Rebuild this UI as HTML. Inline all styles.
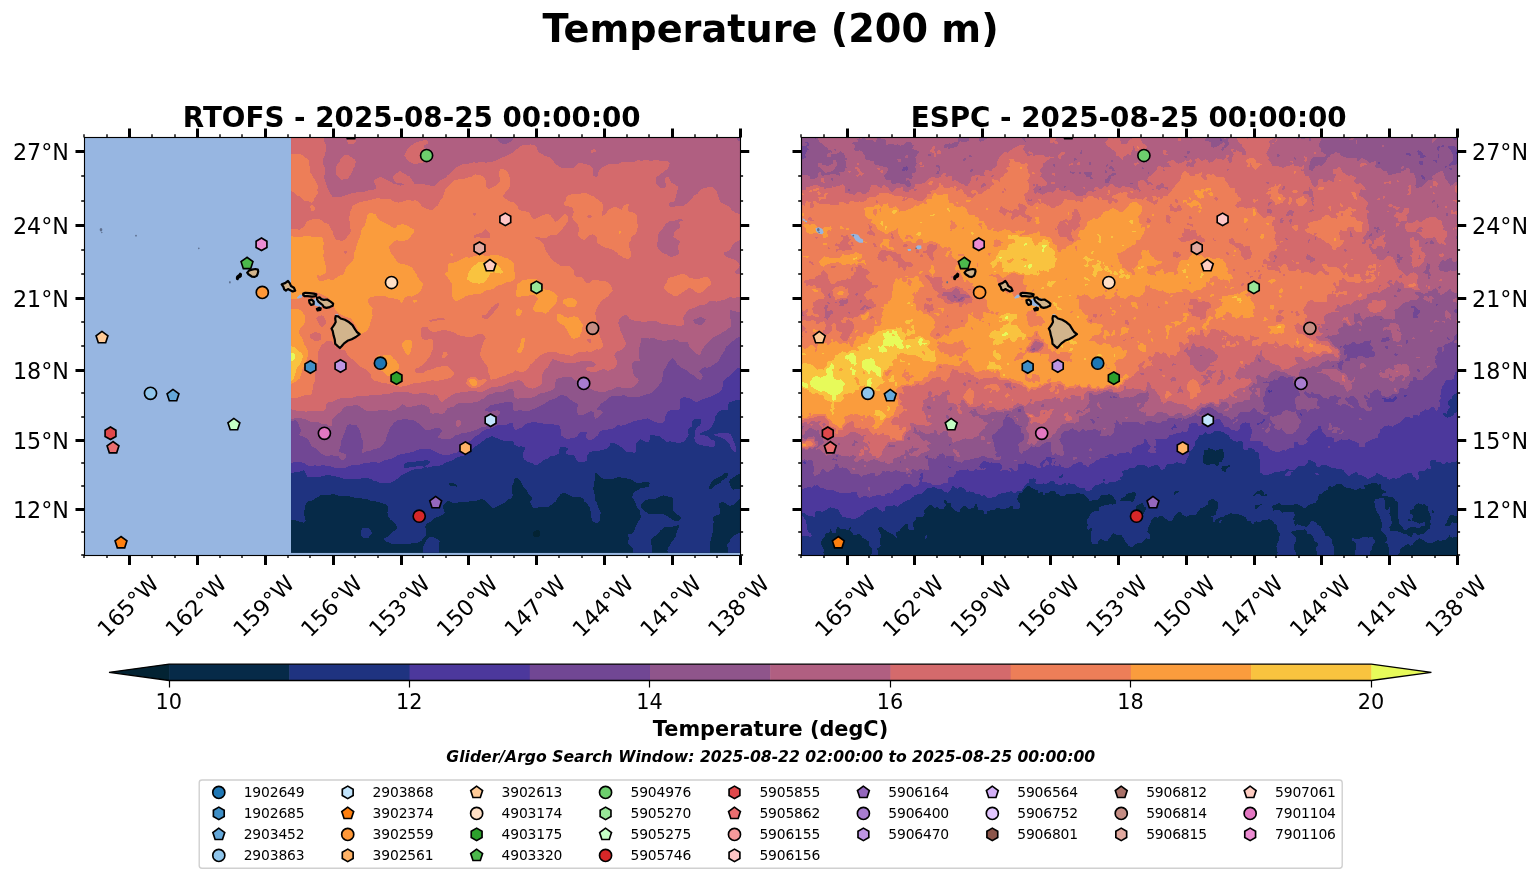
<!DOCTYPE html>
<html lang="en"><head><meta charset="utf-8"><title>Temperature (200 m)</title>
<style>html,body{margin:0;padding:0;background:#fff}body{width:1540px;height:889px;overflow:hidden}svg{display:block}text{font-family:"DejaVu Sans","Liberation Sans",sans-serif;fill:#000}</style></head><body>
<svg width="1540" height="889" viewBox="0 0 1540 889">
<rect width="1540" height="889" fill="#fff"/>
<text y="42.1" font-weight="bold" font-size="38.23"><tspan x="542.6" font-size="39.45" textLength="26.08" lengthAdjust="spacingAndGlyphs">T</tspan><tspan x="563.6">emperature </tspan><tspan x="830.8" font-size="39.45" textLength="97.23" lengthAdjust="spacingAndGlyphs">(200</tspan><tspan x="928.05"> m</tspan><tspan x="981.2" font-size="39.45" textLength="17.48" lengthAdjust="spacingAndGlyphs">)</tspan></text>
<clipPath id="clip1"><rect x="84.5" y="137.5" width="656" height="418"/></clipPath>
<g clip-path="url(#clip1)">
<rect x="84.5" y="137.5" width="656" height="418" fill="#97b6e1"/>
<clipPath id="fc_rtofs"><rect x="291.1" y="137.4" width="449.4" height="415.3"/></clipPath>
<g id="rtofs" shape-rendering="crispEdges" clip-path="url(#fc_rtofs)">
<rect x="290.1" y="136.4" width="451.4" height="417.3" fill="#032333"/>
<path fill="#062a48" fill-rule="evenodd" d="M289.1 135.4l453 0 0 419 -453 0zM536.1 530.2l-3 2.1 -0.5 1.1 1 3 1.5 1.2 3-0.7 1.6-1.5 0.3-1 0-3 -0.7-1 -1.2-0.9 -1 0.1z"/>
<path fill="#1f3380" fill-rule="evenodd" d="M289.1 135.4l453 0 0 338.1 -3 0.4 -5 2.9 -3.6 2.6 -1.4 2 1 3.6 2.3 4.4 0.7 0.4 4-0.9 5 0.1 0 10 -3 0.4 -5 5 -4 1.7 -6-3.6 -3-0.1 -2.4 1 -0.2 1 1.5 5 0 4 -1.9 1.7 -4 0.9 -1.2 2.4 0.8 4 -1 6 0.2 3 -2.6 10 -0.5 13 -41.8 0 -0.6-4 0.4-3 1.9-2 1.6-3 4.6-6 0.7-4 2.4-6 -0.3-1 -0.6-0.3 -9 2.4 -4-0.3 -1 0.4 -3.8 2.8 -2.2 3.3 -6.3 4.7 -1 2 1.5 9 -0.4 5 -18.6 0 -0.2-6 -4.1-4 -1.1-2 0.9-4 -0.7-3.4 1-1.3 3-0.2 1.4-1.1 4.5-11 2.4-3 0.3-1 -0.5-6 -2.9-4 -3.2-7 -1.9-3 0.1-1 1-3 0.8-1 6-3.9 4-0.6 2-1 2 0.3 1-0.9 0.6-2.9 -0.6-1 -2-0.4 -10 1 -6-3.3 -3-1.1 -9-1.4 -2 0.1 -4 1.7 -6-0.4 -3 0.3 -3.5-1.5 -4.5-4.3 -1 0 -0.6 1.3 0.5 5 -1 3 -0.1 4 -0.7 2 1.6 7 0.1 4 2.1 4 1.5 5 1.6 2 0.5 2 -0.4 7 -2.1 3.5 -1 0.7 -4-1.8 -1-1.2 -1.2-5.2 -0.6-7 -2.7-4 -3.3-3 -1.2-3.1 -6-1.9 -3 0.8 -2-0.4 -2-1.6 -4.8-1.8 -3.2 0.1 -1.6 0.9 -3.3 4 -1.4 3 -6.7 5.1 -5 0.9 -4-0.3 -6 1.2 -1.3-0.9 -2.5-5 0.1-1 1.8-2 -0.3-2 -3.7-4 -2.1-4 -2.3-2 -3.8-7 -1.9-1.7 -2-0.7 -1 0.1 -1 1.2 -0.2 3.1 -2.3 4 0.8 4 -0.2 3 0.7 2 -0.8 2 -1 1 -2.5 1 -3 3 -11.5 5.7 -1 0.3 -1-0.5 -8-7.8 -2-1.1 -1 0 -6 2.1 -4-0.1 -3 0.8 -9 0.4 -4 1 -2-0.2 -4-2 -2 0.4 -3 2.6 -0.7 1.4 -0.3 3 1.7 4 -0.4 1 -3.3 2.1 -6 2.5 -4.1 3.4 -4.1 2 -1.7 3 1.1 7 -0.2 2 -5 5.7 -3 1.5 -4 0 -6 1.7 -3-0.7 -9 0.5 -4-0.2 -6.3-2.5 -1.6-2 0.1-1 3.8-2.2 5-4.8 3.5-2 0.7-1 -0.1-1 -2.9-5 -1.2-1.3 -3-1.7 -1.9-3 -0.8-4 0.5-4 -0.5-3 -1.3-1.1 -12-3.4 -4-0.3 -2.8-1.2 -3.2-0.4 -3-0.9 -5 0 -10-2.5 -4 0.9 -2-0.2 -6-2.2 -7 0.8 -6-0.4 -3 2.4 -3.2 1.5 -1.8 1.8 -5 1.1 -1.4 1.1 -2 5 -0.6 7 1.1 3 0.4 3 -1.4 2 -1.1 0.3 -9-2.9 -5 0zM449.1 483.3l-0.3 1.1 1.3 1.1 3 0.2 3 1 1.3-0.3 -0.3-1 -3.2-2 -2.8-0.4zM663.1 495.4l-2 0.4 -4 2.6 -8 0.7 -4 1.2 -4 4.3 -0.3 1.8 0.9 2 2.4 2.4 4 2.8 5 0.7 10-0.4 4.8 2.5 5.3 4 2.9 0.8 2-0.3 3-2.4 0.1-1.1 -1.1-1.3 -4-1.9 -2-2.4 -1-2.1 -0.6-4.3 1-5 -1.4-3zM725.1 472.9l-3 2.7 -3 1.1 -6.4 3.7 -1.7 2 -2 5 0.1 1 1 0.4 2-0.3 4-3.7 4-1.8 2.4-2.6 4.2-3 1.5-2 0.3-2 -0.4-0.7 -1-0.2zM362.3 528.4l1.8-0.8 2 0.1 3 0.9 2 1.9 0.7 2.9 -3.7 4.8 -2 0.3 -4-1.5 -0.7-0.6 -0.5-2 0.4-4zM738.5 533.4l3.6-0.4 0 21.4 -14.6 0 0.1-4 0.5-2 -1.2-3 0.2-1 2-2 1.9-4 1-1 3.8-3zM429.6 537.4l4.5-0.1 5.2 3.1 0.4 1 -0.8 4 0.1 9 -16.1 0 0.2-8 3.7-7z"/>
<path fill="#4c389c" fill-rule="evenodd" d="M289.1 135.4l453 0 0 264.7 -5-0.3 -7.6 2.6 -1.4 2 0 5.1 -1 0.9 -3-0.5 -3 0.6 -1.8 0.9 -2.2 2.3 -1.6 2.7 -0.6 4 -4.3 8 -4.5 2.5 -3 0.9 -3.3 1.6 0.3 1.1 7 1.4 3.3 3.5 3.7 1.2 1.2 1.8 -0.4 3 -1.8 1.6 -3-0.1 -3-1.1 -3-0.1 -5-1 -3.6-2.3 -1.3-5 1.3-3 -0.6-2 0.3-2 1.7-3 2.8-2 1.8-4 -0.9-2 -3.5-1 -3 1 -1.9 2 -0.4 2 0.4 2 -0.4 1 -4.3 3 0 2 1.1 3 -0.3 2 -4.4 5 -2 1 -3.8 0.6 -8.1-1.6 -3.9 0.3 -6-5.2 -3-0.2 -5-1.9 -1 0.3 -1 1.1 -0.5 1.6 -0.1 3 -1.4 1.6 -2-0.1 -5-2.3 -1-0.2 -1 0.7 -2.9 3.3 -0.7 5 0.8 3 -1.2 1.4 -2-0.2 -3-1.1 -3 0.5 -1-0.4 -4-4.1 -4-2.4 -4-1.9 -3-0.3 -1.3 0.5 -0.4 3 -2.3 2.1 -8 2.4 -4-0.3 -5 1.3 -1.5 1.5 -1.1 2 -0.4 5 -1 1 -6 0.6 -3-0.8 -1-1.2 -1.1-3.6 -0.8-1 -6.5-1 -1.9-1 0.5-2 1.9-2 0.1-1 -5.2-1.7 -2.6 0.7 -1.3 2 -0.5 1 0.6 2 -0.2 1.4 -4 1.7 -5 0.8 -2 2.4 -2 0.5 -3 1.5 -5 3.8 -2 0.6 -1-0.1 -3-1.9 -4-1 -4.3-2.7 -1.3-5 2.3-5 0.1-2 -3.8-1 -3 0.3 -3-1.4 -1-0.9 -0.2-2 -0.8-1.4 -5 0.5 -4-0.5 -12-4.8 -3 1.5 -3 0.7 -5 4.2 -7.1 4.8 -3.5 3 -1.3 3 -1.1 0.9 -10.8 3.1 -5.2 2.9 -5.9 2.1 -4.1 2.6 -4 0.9 -5 0.4 -5 1.3 -3.4-0.2 1.8-2 3.7-3 -0.2-1 -0.9-0.7 -2-0.5 -12 1.4 -3 0.8 -4-0.1 -2 0.5 -2.3 1.6 -0.3 2 0.6 1.2 4 0.1 3-0.9 10-0.6 1.6 0.2 1.2 1 -1.8 1.3 -3 0.5 -4-0.1 -4 1.2 -3 1.9 -6 2.6 -5.5 4.6 -3.5 2.3 -5 1.7 -8-0.5 -4-1.7 -2-0.3 -3-1.9 -4-1.1 -5 0.3 -5 1.2 -9-0.2 -7-1 -3-1.3 -10-1.9 -7 1.3 -3 1.2 -7-0.8 -3 0.3 -1.1-0.6 -2.2-5 -0.7-0.9 -1-0.2 -4 1.6 -4-0.2 -3 1.7 -3-0.2zM718.1 433.4l3-0.2 3 0.3 4-0.4 3 1.4 4.3 10.9 0.7 3 0 3.1 -1 0.8 -3.5-2.9 -0.7-1 -1.3-4 -3.5-4.3 -6-3.1 -6-1.6 0-1.1z"/>
<path fill="#714794" fill-rule="evenodd" d="M289.1 135.4l453 0 0 232.7 -4 0.1 -2 0.7 -6 6.6 -4.4 2.9 -2.3 3 -0.6 5 -1.5 4 -3.2 2.5 -6.6 3.5 -6.4 1.9 -7 3.2 -2 0.3 -3-1 -3-2.6 -6-1 -2 0.6 -1.7 1.6 -0.4 1 -0.2 5 0.5 3 -0.7 1 -3.5 1 -5-0.3 -3.3 1.3 -2.4 5 -0.7 4 -1.6 2.5 -4 0 -4-0.8 -5-2.3 -2-1.6 -13 2.6 -10 4.1 -4 0.9 -3-0.6 -1 0.3 -5 4 -3-0.5 -4 1.4 -3.3 0 -2.7 2.2 -1.4 2.8 -3.2 3 -3.4 1.4 -3-0.3 -1-0.5 -0.8-1.6 0.3-5 -0.5-0.4 -3-0.4 -3.2 0.8 -1.1 1 -1.6 3 -1.1 0.9 -8 1.7 -4-1.2 -2.9-2.4 -0.8-8 -1.3-2 -1-0.3 -7-1.1 -5 0.4 -5-1.4 -4-0.4 -3-1 -8 2.3 -2.4 1.5 -1.6 2.1 -2 0.4 -3 1.7 -2 0.3 -1-1.1 -0.7-2.4 0-3 -1.3-1 -7 2.7 -3-0.3 -5 0.7 -6.5 2.9 -3.5 0.7 -3.4 1.3 -1.6 1 -2 2.6 -3 1.1 -3 2.2 -2 2.3 -7.3 4.8 -2.8 4 -4.9 3.8 -1 0.6 -3 0.5 -4 1.8 -8.8-0.7 -10.2-5.1 -10 0 -2 0.3 -4 2 -16 3.4 -5 3.1 -10 2.8 -4 2.1 -6-1.4 -5 1.5 -4 0.2 -4 1.2 -4 0.6 -2-0.2 -4 0.8 -6 2.4 -8-0.1 -6-1.7 -7-1.2 -5 0.9 -3-0.7 -4 1 -2 0 -4.7-2.9 -6.3-2 -6 1.2 -3 0.1z"/>
<path fill="#8f558b" fill-rule="evenodd" d="M289.1 135.4l453 0 0 201.3 -3 0.1 -1 0.5 -6.8 5.1 -2.2 2.2 -2.8 1.8 -2.2 5.1 -2.9 3.9 -2.2 5 -2.3 2 -6.6 4.7 -3 0.5 -3-0.2 -2 0.8 -1.4 1.2 -1.2 2 0.1 1 2.5 2.3 0.6 1.7 -1.6 3.2 -1 0.4 -2-0.8 -2-2.1 -4-2.7 -2.2-1 -3.2-3 -6.6-3.6 -2.9-2.4 -3.1-5.4 -1-0.7 -1 0.1 -3 2.6 -3.9 7.4 -1.6 2 -1.9 11 -4.6 6.5 -2.3 1.5 -1.7 2.6 -4 1.9 -4 0.7 -5 1.9 -12 0.3 -4-1.8 -3 0.6 -8 0.2 -1.8 0.6 -3.5 2 -2.7 2.7 -4 2.3 -1.1 1 -0.9 2.3 -2.1 1.7 -0.3 1 0.4 0.8 2-0.3 1 0.3 2.2 1.2 0.6 1 -1.3 2 -5.5 4.4 -1-0.3 -0.6-1.1 -0.7-5 -2.7-1.4 -6.6 3.4 -3.4 1.2 -3-0.7 -1.5-4.5 1.4-5 -0.9-1.7 -5.7-3.3 -4.5-4 -2.8-1 -3.6 0 -5.5 3 -6.9 2.6 -4 3.4 -2 0.3 -3 2 -10 4 -6 0.1 -3-0.7 -4 0.8 -2-0.1 -1-1.2 -0.3-1.2 0.3-5 -1-0.8 -3-0.5 -6 0.5 -13 2.8 -4 3.4 -1.3 0.6 -0.3 1 3.6 1.3 4-0.1 5-1.4 3.3 1.2 0 1 -2.1 3 -5.8 5 -3.4 4.5 -2.4 1.5 -6.6 1.4 -3 1.6 -5 1.7 -6 1.7 -4 0.3 -3 1.4 -3 0.2 -1.4 0.7 -1.6 2.2 -4 1.4 -10.3-0.6 -0.6-1 0-1 3.6-5 -0.5-2 -2.2-1.6 -4 0.2 -6 2.4 -3 0.1 -1.7-1.1 -4.3-5.3 -6-3.5 -9-1.7 -7 1.2 -5 3.2 -0.9 2.1 -1.9 2 -3.2 7.7 -1.8 6.3 -5.1 6 -2.1 0.9 -4 0.6 -4 2.3 -4 0.2 -3 1.5 -1-0.5 -0.3-1 0.1-1 1.2-2 0.2-7 -2.7-5 0.1-3 -1.4-4 -3.2-4.6 -7-0.4 -1.6 1 -1.7 3 -0.6 3 -3.5 8 -1.4 8 -1.4 3 0.2 1.2 1 0.6 5 1.7 1 0.9 0.2 1.6 -1.2 1.9 -2 1.8 -1 0.3 -1-0.5 -2-3 -1-0.7 -6-0.8 -6 0.3 -2-0.5 -4-2.2 -4-4.3 -5-3 -2.5-5.3 -2.1-2 -4.4-2.4 -2.2-0.6 -0.5-1 1.3-3 0-2 -3.6-8.4 -2-0.9 -3 1.2 -3 0.1z"/>
<path fill="#b05f81" fill-rule="evenodd" d="M289.1 135.4l205.3 0 0 2 3.1 2 2.6 3 3 1.9 1 0.1 4-1.1 4.4-2.9 0.9-2 0.2-3 222.8 0 0.4 4 0.7 1 2.6 1.3 2 0 0 170.8 -4-0.3 -7-2.1 -1 0.3 -0.6 6 1.5 4 -0.4 2 0.1 4 -0.8 1 -2 1 -1.5 2 -3.3 1.3 -2 1.9 -8.3 3.8 -3.7 4.6 -2.2 1.4 -2.8 3.3 -2.3 3.7 -1.6 4 -1.1 0.6 -3.6-1.6 -6.5-7 -0.6-3 -1.3-1.6 -1-0.3 -3 0.7 -3 0 -3-2.1 -3-1 -3 0.9 -2-0.2 -3 0.9 -3 0.2 -3-1 -3-0.3 -3-1.7 -5 0.7 -3-0.8 -5 0 -0.6 0.6 0.1 4 -1.4 6 -0.1 7 0.6 5 -0.6 0.4 -3-0.3 -2 0.6 -2.6 3.3 1.1 5 0.2 4 1.3 2 3.4 3 1.2 2 -0.1 1 -4.5 5 -3 1.4 -7 0.7 -4-1.4 -2-0.1 -3 0.9 -3 1.8 -3 0 -3 1.8 -7 0.2 -4-0.7 -7-3.8 -2-0.5 -11-6.6 -3-2.9 -3-0.4 -4 0.1 -7.2 1.5 -1.8 1 -0.8 4 0.1 3 -0.9 2 -1.2 1 -2.2 1.1 -8 2.5 -3.4 0.4 -5.6 3.8 -8 1.3 -5-0.3 -4 0.6 -2.5-1.4 -0.5-1 0.2-3 -1.5-4 -0.7-0.7 -3 0.1 -5 2.9 -3 0.5 -3-0.7 -7 2.6 -3 0.6 -4.1 3.7 -2.9 1.1 -4 2.6 -11 1 -3-0.4 -4 0.4 -2 0.9 -3 2.4 -6.6 2 -2.7 4 -2.7 1.6 -6-1 -3 0.7 -1.6-0.3 -1.8-1 0.2-3 -1.4-2 -4.4-2.2 -3-0.8 -3 1 -6 1 -3 1.1 -2-0.5 -4-2.7 -1 0.1 -2 2.1 -4 2.9 -2 0.8 -3 0.5 -7-0.5 -5 0.2 -9 0.7 -5-0.8 -5-3.8 -3-1.2 -2-0.1 -10 1.4 -2.9 2.8 -1.1 2.2 -5 3.6 -4.5 5.2 0.2 5 -0.7 0.9 -1 0.2 -3.5-2.1 -5.5-0.9 -3-1.4 -7-0.2 -6-3.1 -2-0.1 -3-0.8 -5 0.2 -3 0.9 -3 0zM700.1 317l-2 1.2 -3 0.6 -1.9 1.6 0.8 2 2.1 1.8 5 0.7 3-2 1.1-1.5 0.5-2 -0.6-0.6 -4-1.9zM457.2 420.4l1.9-0.2 1.8 1.2 -0.3 4 -1.5 1.5 -2-0.2 -1.5-2.3 0.2-2z"/>
<path fill="#d46a6c" fill-rule="evenodd" d="M289.1 135.4l34.8 0 0.1 5 1.6 4 0.4 3 -0.8 7 -1.9 4 -0.3 4 0.2 2 2.3 5 -1.4 8 2 7 2.5 6 3.5 6 2 0.6 6-0.1 4-0.8 2-1.1 4-1 2-1 7-0.9 2 0.3 5-1.1 3-1.2 6-0.8 0.8-0.9 0.2-2 -2.6-5 0.4-1 6.2-3.6 7 3 6 3.6 7 2.2 2-0.2 1.8-1 -2.8-1.7 -5-0.2 -3.3-4.1 0.1-1 1.7-3 5.5-3.3 7 4.4 2.5 0.9 2.3 3 2.2 4 1 0.7 8 0.1 9 1.7 2-0.1 2-1.3 2.7-3.1 7.3-4.2 1.4-1.8 4.6-3.8 3-3.6 7-3.8 1-0.4 5-0.1 5-1.3 4 0.3 4-1.1 5 1.1 9-1.6 5-2.9 4-1.2 8-4.1 8-6.4 4-2 3 0.6 3-0.7 3 0.4 2 0.8 1.7 1.8 1.3 4.4 7 4.2 5 1.5 3 2.8 0.8 2.1 1.1 1 3.1 2.6 4 2 3 0.5 4-0.6 4 0.3 5-4.7 1-0.3 6 0.5 6 2.4 2 2.3 -0.4 5 0.4 1.8 1.2 1.2 1.8 0.6 1-0.3 0.9-1.3 0.6-4 1.5-2.4 3-2 3-1.2 2-1.7 9-0.2 2-0.4 3-1.4 4-0.4 4 0.7 4-0.3 1-0.3 2-1.6 1-0.1 4 0.8 2-0.8 7 0.6 5-0.6 6 1 3-0.3 2 0.4 1.9 1.2 0.6 1 -0.2 2 -1.6 3 -4.7 4.3 -3 1.1 -1 1.6 -3 2 -0.4 1 0.8 6 3.9 4 0.7 0.2 4-1 1.1-1.2 0.3-2 -1.4-2.3 -0.2-1.7 0.6-2 1.6-1.5 1 0 0.5 0.5 2.5 5.1 6 3.4 1 1.2 -0.3 2.3 -1.2 3 -0.2 4 -1.2 2 -0.9 3 -1.2 1 -3-0.1 -1.4 1.1 0.4 2 0.8 1 3.2 0.7 4-1.2 5 0.3 2-0.6 5-4 3.1-3.2 1.9-2.8 3-1.6 5-5.3 9-2.2 2 0.9 3.5 4 1.7 4 0.6 4 2.2 2.9 7.9 4.1 3.1 3.9 2 1.6 5 2.2 3 0.3 0 25.8 -2 0 -6 3 -2 2.2 -2 4.3 -2 1.5 -4 0.8 -0.5 1.4 0.9 2 1.6 1.4 10 3.5 3.9 5.1 -1.6 3 -3 3 -0.4 2 7.1 0.9 0 22.4 -4-0.1 -3 1.2 -6-0.5 -2 0.8 -3 2.1 -3 0.2 -4 1.2 -7-0.8 -3 2.7 -3 1.7 -6 0.4 -3 1.8 -5 1.7 -2.1 1.3 -3.9 5.2 -0.9 2.8 1.1 4 -0.2 1.8 -1 0.9 -3 1.2 -5-1 -5 0.2 -4-1.6 -5-0.2 -3-1.7 -4-1.3 -4 0 -4 1.2 -4 0.1 -3-1 -3-0.1 -5-1 -1.9-1.5 -1.1-2.5 -2-0.9 -1 0 -3 1.3 -2.5 2.1 -1.5 5 1.5 4 0.5 3 2.4 4 0.4 3 2.6 4 0.3 3 -1.4 3 -1.3 1.4 -3 1.9 -3 0.4 -2.3 3.3 -0.4 1 0.3 1 2.7 5 0.1 1 -0.6 2 -2.4 4 -1.4 0.9 -2-0.1 -3 1.7 -3-1.4 -2-0.3 -3 0.8 -3 1.5 -4 0.9 -6-1.9 -0.9-1.1 -0.1-1 2-1.9 4 0.5 2-0.6 1.3-1 0.2-1 -0.5-1.6 -3-1.4 -11-0.3 -8 2.1 -3-0.6 -4 0.5 -6-1.4 -7-2.6 -1 0.6 -1.2 1.7 -3 6 -2.8 2.2 -2.5 3.8 -1 4 0.9 4 -0.5 2 -0.9 1.1 -3 2 -5 2.1 -4-0.5 -2-0.8 -2.1-1.9 -2.6-4 -3.3-1.4 -3 0.6 -4 1.6 -3 0.3 -4 2.2 -4.5 1.7 -7.5 0.3 -11 5.2 -2 0.2 -6-1.1 -2 0.4 -8 0.2 -4 1 -3 0.1 -6 2.7 -9 6.4 -1 0.1 -1-1.1 -3-5.3 -2-1 -1-0.1 -2 0.8 -6-2.1 -3-0.2 -9 1.5 -5-1.9 -6-1 -3 1 -6-0.1 -3 0.5 -2 1 -5-0.3 -3 1.1 -3 0.1 -3 0.7 -5-0.1 -6 1 -6-0.7 -7 2.3 -10 0.2 -2 0.5 -6 2.9 -3 0.2 -2 0.8 -1.1 0.8 -1 2 -0.5 4 -0.9 1 -1.5 0.4 -4 0.4 -9-0.4 -4 0.8 -9-0.6 -5-1.6 -3-0.1zM679.1 219l-3 1.4 -7.4 1 -3.6 3.4 -2 3.1 -3.2 3.5 -2.3 5 0.4 3 -0.6 3 0.1 5 2 3 3.6 3 3 0.5 4 2.8 5.1-0.3 2.9-2 0.6-1 -0.1-3 -0.9-3 2.1-5 -0.1-1 -1.6-1.5 -4-2.2 -0.7-1.3 1.1-4 3.1-3 2.9-2 -1.3-5 0.9-0.8 3-1.2 -2-1.8 -1-0.1zM347.6 139.4l2.5-1 5 0.5 0.8 1.5 -0.3 2 -3.5 2.1 -3-0.3 -1.2-0.8 -0.7-2 -0.2-1zM423.2 140.4l3.9-0.2 1.3 1.2 0.1 1 -0.7 1 -3.6 2 -0.3 1 1 2 2.2 1.2 1.5 1.8 -0.8 7 -0.8 2 -1.9 1.4 -4 1.3 -4 0.6 -4-0.2 -4-1.9 -2-1.6 -2.7-4.6 4.2-8 7.3-5 3-1 2.2 0zM592.7 149.4l2.4 0 1 0.9 0.1 1.1 -2 1 -3.1 0.3 -0.4-1.3 0.4-0.9zM343.9 155.4l2.2-0.6 2 0.3 6 3.9 1.2 1.4 0.3 1 -0.2 4 -0.3 1 -1.9 2 -0.7 3 -4.4 7.1 -1 0.6 -6 0.6 -1-0.5 -1-2.2 -2-1.2 -1-1.4 -0.3-6 0.4-2 0.9-1.9 2-1.6 1.4-3.5 2.1-3z"/>
<path fill="#ed7e58" fill-rule="evenodd" d="M289.1 154.4l5-0.6 6 0.2 3 1.6 6 4.8 0.2 5 1 3 0.1 4 6.5 11 0.9 3 -0.4 4 0.6 3 -3.6 5 -1 3 -1.3 1.1 -1 0.1 -3-1.3 -4-0.3 -4.5-4.6 -2.6-1 -4.9-4.2 -3-0.5zM500.2 169.4l1.9-0.9 1 0 3.9 2.9 2.1 4.2 1 3.8 -0.6 3 0.4 3 -0.7 3 -4 4 -1.8 3 0 1 0.7 1 5 4 4 0.8 2 1.2 2.5 3 0.9 3 0.6 0.7 9 1.9 1 0.8 3 5 1 0.8 3-0.1 7-3.7 4-0.8 2 0.3 1.6 1.1 4.3 6 1.1 0.3 2-1.3 2-2.6 2-1.3 2-2.3 1-0.2 2.4 2.4 0.9 3 -0.4 2 -3.2 4 -2.7 4.4 -5 4.6 -2 0.4 -4-0.3 -4 3.1 -6 0.1 -4-1.1 -1.9 0.8 0.9 1 3.7 2 3.5 3 0.9 2 0.9 4.3 6 9.1 3 2.8 6 3.8 2 0.6 7 0.1 3 1.9 1.7 2.4 0.3 4 0.6 1 2.4 1.5 6 0.8 2 4.1 1 1 3 0 4-2.7 4-0.5 4 1.7 3-0.3 3 0.8 4 3.6 1.7 5 -4.7 5.7 -5 3.6 -2.7 2.7 -3.3 5.4 -1.8 4.6 0.5 5 2.9 9 0.8 9 3.3 8 -0.1 3 -1.3 2 -2.3 1.2 -3-0.2 -3 1.7 -3 0.8 -3-0.6 -3 1 -2-0.8 -1 0.1 -3.1 0.8 -5 3 -1.9 0.5 -4-1.1 -6-0.7 -5-1.8 -8-0.1 -3 0.7 -3.2 1.5 -6.4 5 -2.4 3.1 -3 2.2 -1.8 3.7 -4.2 3.3 -3 0.9 -4-1.9 -2-0.5 -3 2.7 -4 1 -3 1.9 -5 1 -5 2.5 -4 0.3 -1.1-0.2 -0.1-4 -1.7-3 0-4 -0.8-2 -2.3-2.7 -4.1-6.3 -1.1-3 3.2-11.7 2.6-4.3 -0.8-2 -1.8-2.3 -4-0.4 -6 2.8 -4 1 -5-1.2 -3-0.1 -3-1.3 -4-2.5 -9-2.4 -3 0.1 -8 2.3 -4-2.1 -3-3.3 -3-0.1 -1.5 0.5 -2.1 2 0.1 3 1.3 6 3.2 1.7 4-0.8 3.1 0.1 0.9 2 -0.5 4 0.8 2 -0.1 1 -1.4 2 -1.8 5.5 -4.1 5.5 -4.9 4.6 -3 1.8 -2 0.7 -1 1.1 -0.6 1.8 0.6 0.9 1 0.2 7 0.6 3-2.5 5-1 5-2.2 6-1.2 5 0 1 0.2 4.2 4 1.4 2 0.5 2 -1.1 1.4 -3 2 -7 2.1 -5 0.8 -7-0.3 -14 2.8 -3-0.2 -6 2.2 -7 1.5 -4-0.4 -12-3.4 -3 0.1 -5-1.8 -2 0 -4-4 -0.6-2.8 -1.1-2 -3.3-2.7 -6-3.2 -3-2.7 -10-9.4 -1.2-3 -0.8-0.8 -4-1.2 -5-2.2 -1-0.8 -2-3.5 -2-1.8 -5 0.1 -4.6 4.2 -3.7 7 0.5 8 -1.8 6 -0.4 4 -0.9 2 0.3 8 -1.8 3 -1.7 10 -1.9 1.6 -2 0.5 -3-0.3 -8 2.5 -8 0.2 0-168.9 11 0.6 4.1-3.2 2.9-5.1 6-2.1 5-0.5 3.8 1.7 2.2 2.2 4 1.2 2.2 3.6 0.8 2.4 1.8 1.6 0.2 3 1.9 3 0.6 2 1.5 0.7 5 0.8 3.1-1.5 5.2-7 0.3-2 -1.1-7 -0.2-6 0.4-4 2.5-7 0.8-1.2 3-1 3-1.7 5-1.4 5-0.7 6-1.8 4-0.5 2 0.6 8-0.1 4.6 2.8 4.4 1.2 2-0.2 8-2.5 4 1 3-0.5 3 0.8 4 5.2 3 1.9 6 1.8 1-0.1 6-4.8 2.2-4.8 2.4-3 2.2-7 1.7-3 7.9-7 3.6-1 6-0.7 3-1.1 3-0.2 2-1 1-1.1 2-0.9 5 0.6 3 1.7 2.2 2.7 0.5 2 0.1 4 0.8 2 1.4 1.2 2 0.1 3-2 3-1 2-2.6 2.4-1.7 -1.4-6 0.5-5zM588.1 338.7l-0.8 0.7 -0.2 1 1 1.8 2 0.9 1-0.4 0.3-1.3 -0.6-2 -1.7-0.9zM314.1 332.3l-3.9 2.1 -0.2 2 0.9 2 4.2 2.7 5-0.7 0.5-1 0.5-5 -1-0.8 -3.5-1.2zM321.1 315.3l-4 1.7 -0.7 1.4 3.7 7.8 2 0.6 3.5-2.4 0.6-3 -1.6-3 -0.6-2zM345.1 250.6l-0.9 0.8 -0.1 1 1 2.5 1-1.1 0.5-1.4 0-1zM438.1 318.3l-6 1 -3.1 1.1 0.7 1 1.4 0.2 9-1.6 4 0 0.9-0.6 -0.8-1 -1.1-0.4 -3-0.1zM473.1 213.4l-0.4 1 0.6 1 0.8 0.4 1.8-0.4 0.5-1 -0.6-1 -1.7-0.4zM485.1 228.5l-2.3 3.9 -8.7 2.8 -0.6 1.2 0.1 1 0.5 0.5 1 0 3-0.9 7 1.5 4-0.4 0.9-0.7 -0.1-4zM497.1 303.2l-6 4.6 -4.9 6.6 -4 1 -0.5 1 0.5 1 2.9 1.5 2 0 6-5 1.8-3.5 4.2-4.6 0.1-1.4 -0.5-1 -0.6-0.5zM582.5 193.4l3.6-0.2 7 3 8.5 6.2 1.1 2 0.5 2 -0.1 2 -1.6 6 0.6 1.2 1.8-0.2 1.2-0.7 2-2.2 1-2.6 5-2.6 3-0.3 5 2.7 1-0.2 0.8-3.1 1.2-1.3 4-1.3 1.3 0.6 -1.7 4 -0.1 2 1.5 1.6 3.9 0.4 3.1 2 0.8 1 0.5 2 -0.4 3 0.8 5 -0.5 5 -1.4 3 -4.6 4 -0.7 3 -1.2 2 -0.4 4 2.5 8 -1.1 3 -1.1 1 -2.2 0.4 -3-0.8 -3-2.1 -2-0.7 -3-3.3 -4-2.5 -6-1.6 -6.8-3.4 -2.2-2 0.3-4 -0.4-1 -2.9-2.7 -1-0.3 -4 0.4 -4 4.9 -2-0.2 -3.7-2.1 -0.8-1 -0.6-3 1.5-3 0-1 -2-5 -1.4-2.1 -2.4-1.9 -1.2-2 -0.1-2 1.4-4 -1-4 -0.7-1.1 -7.4-1.9 -0.9-1 0-1 2.3-3 0.1-3 0.9-1.4 1.2-0.6 2.8-1zM588.1 215.3l-0.8 1.1 1.8 1.9 1 0.1 1.8-2 -0.8-1.1zM310.6 205.4l0.5-0.7 1 0.1 2.7 2.6 -0.1 2 -1.6 1.8 -1 0 -1-0.8 -0.8-3zM679.9 274.4l2.2-0.5 2 0.3 2 0.8 3 2.7 8 1.7 8-2.6 2 0.1 1.9 1.5 1.2 2 0.7 2 -0.2 2 -0.7 1 -2.8 2 -2.1 2.5 -5 3.3 -3-0.2 -4-3.7 -3-1.3 -2 0.5 -11 7.4 -3 0.2 -2-1.6 -2-0.5 -5.2-4.6 -1.3-2 0.2-1 2.4-3 1.9-4.7 1-1.1 5-1zM443.3 352.4l0.8-0.8 2-0.1 1 0.9 0.5 2 -1 2 -2.5 1.9 -1-0.2 -0.8-0.7 -0.1-1zM469.7 377.4l4.4-1 1 0.4 3 2.8 2 0.2 5-0.7 1.3 0.3 0.3 1 -4 4 -3.6 2.5 -3 1.1 -4 0.2 -4.5-2.8 -1.4-2 0.9-4z"/>
<path fill="#fa9c3d" fill-rule="evenodd" d="M369.1 213.4l2-0.8 2 1 2 0.4 1 0.9 2.3 4.5 1.2 1 10 5 4.5 2.7 1 0 2.4-2.7 3.6-1 3 0.1 2 0.6 7 3.9 1 1 0.5 2.4 -2.3 2 -4.1 5 -5.1 2 -7-1.3 -6.3 5.3 -0.9 1 0.1 1 2 6 2.4 2 0.9 2 3.5 5 2.3 1.3 7 1.1 4 2.1 3.1 3.5 2.3 4 1.1 3 4.5 5 1 2 -2.3 6 -2.6 3 -6.1 3.2 -5-0.3 -2 0.7 -3 5.6 -1-0.1 -1.4-2.1 -2.6-1.4 -9-1.5 -3-1.3 -10 0.1 -5 1.2 -1 0.6 -0.7 1.3 -0.3 3 1 2 3.5 4 -0.8 4 0.9 3 -0.2 1 -2.2 6 -0.6 3 -2.6 5.1 -2 1.7 -5 2 -1.3-0.8 -1.9-6 -5.2-8 -1.6-1.2 -3-0.9 -9-4.2 -2-2.3 -4.9-9.4 -3.1-3.6 -8-4.4 -4-1.2 -5-0.6 -6 0.1 -2.6 1.7 -1.5 3 -3 2 -1.9 0.6 -7 0.3 0-63.4 2 0 3 1.1 6-0.1 8-1 5 1.1 6-0.5 3 1.1 0.7 0.8 1 5 -0.9 4 0.8 4 -0.4 5 2.8 11 0.1 4 -0.2 1 -2.9 2.4 -3 0.9 -2-0.6 -0.9 0.3 -0.3 2 2 3 1.2 0.8 3-0.3 5-1.7 4 0.6 2-0.3 5-3.7 1-0.6 2 0 1-0.8 1.4-2 0.5-2 2.1-4.1 1.6-1.9 3.7-3 1.2-3 0.2-6 2.5-3 0-3 0.5-2 4-10 0.2-4 4.1-5.4 2.3-9.6zM619.2 231.4l0.9-0.6 1.1 0.6 -0.1 1 -1 1.4 -1.1-0.4zM451 253.4l2.1 0.2 0.1 1.8 -1.1 0.5 -1.6-0.5 -0.4-1zM477.3 255.4l1.8-0.4 4 0.2 3 0.7 11-1 3 0.8 4 2.1 3.2 0.6 3.8 2 2 2 1 2 -0.1 4 0.9 7 -0.5 4 -1.3 1.4 -3 0.9 -3-0.2 -5 3.2 -3 0.4 -3 1.1 -2 2.1 -1 0.4 -4 1.3 -4 0.6 -4 3.2 -12 1.1 -4 1.7 -7 4.1 -2 0.1 -1-0.4 -2.1-2 -1.4-4 0-11 -4-6 -2.8-3 0.4-1 2.8-2 0.4-3 -0.4-3 0.4-1 0.7-1.1 1-0.5 2 0.1 4-0.8 9-4.9 4 0.5zM527.4 279.4l1.7-0.9 3 0.9 3-0.5 1 0.2 1.4 1.3 1.6 3.1 4 5.2 2 1 6 0.9 3.7 2.8 2.8 3 -0.6 5 -0.6 1 -2.3 3.2 -2 1.6 -3 3.8 -3 2.8 -5-1.9 -6-0.4 -1.6-1.1 -0.6-1 -0.1-2 2.4-3 0.9-2.5 1.8-2.5 0.3-1 -1.1-1.3 -4-2.6 -2 0 -3 1.3 -7 0.6 -4.1 1 -0.6-2 -0.2-4 0.8-3 0.1-4 5-3.9 1-0.3 3 0.2zM567.4 298.4l2.7-1 5.3 2 1.8 3 -0.2 1 -1.9 3 -2 1 -4-0.2 -2.1-0.8 -3.7-3 -0.5-2 0.3-1.4zM412.8 300.4l1.3-0.6 2 0.1 0.8 0.5 0.3 1 -1.6 1 -1.5 0.3 -1-0.4zM292.8 309.4l4.3-0.7 3 1.1 2 1.6 2.4 4 1 6 -2.4 4.2 -3.2 2.8 -1 4 1.2 3 2.1 3 1.9 5.8 3.8 6.2 0.4 2 -0.3 4 -3.2 7 -0.2 3 -2 2 -0.4 1 -0.4 3 -1.7 5.4 -1 1.2 -5 3.6 -3 1.7 -2 0 0-74.7zM516.6 309.4l1.5-1 1 0.2 2.5 1.8 0.2 1 -0.7 3 -1.3 2 -1.7 0.1 -1.9-2.1 -0.4-2zM557.6 314.4l2.5-0.5 5 3.1 2 0.6 4-0.2 3-1.2 4 1.3 4.6 6.9 -0.3 5 -2.6 7 -1.7 1.3 -4 1.1 -3.1-1.4 -5.9-10.6 -1.6-1.4 -2.4-1.1 -4.2-3.9 -0.2-5zM521.8 338.4l1.3-0.6 1 0.2 1.4 1.4 -1.1 3 0 4 -3.2 6 -2.1 0.9 -1.4-0.9 -0.7-2 2.8-4 1.3-6.5zM405.6 340.4l2.5-0.6 2 0.5 1 0.4 1.1 1.7 -0.2 4 -1.5 6 -1.4 2.3 -1 0.3 -2.5-1.6 -3.3-7 -0.2-2 0.8-2 1.2-1.3zM378.7 355.4l2.4 0.3 6-0.8 4 0.6 1 0.5 1 2.4 2 1.3 4 4.7 0 3 -2 3.9 -3 1.1 -4 3.2 -2 0.2 -1.3-0.4 -3.7-3.6 -4-2.8 -4.1-1.6 -1.1-2 0.2-3 1.5-3 0.3-2 1.2-1.3zM469.6 379.4l3.5-0.6 2 0.5 1.5 2.1 0.2 3 -0.5 1 -2.2 0.8 -2.9-0.8 -2.3-4 -0.1-1z"/>
<path fill="#f9c33f" fill-rule="evenodd" d="M477.8 262.4l2.3-0.4 8 0.3 4 1.5 3 0.4 4.2 2.2 4 6 -1.2 0.8 -2 0.4 -6-1.2 -4 0.7 -1.2 3.3 -3.7 5 -2.1 1.4 -4 0.9 -7-1.1 -4.9-3.2 -0.2-1 0.9-3 0.1-2 5.1-7.4 2.8-1.6zM289.1 346.4l0-0.5 2 0 3.3 1.5 6.2 5 1.7 2 0.5 2 -1 4 -1.8 4 -3.1 3 -2.9 11 -0.9 1.4 -2 0.9 -2 0z"/>
<path fill="#e7fa5a" fill-rule="evenodd" d="M289.1 353.4l5-0.2 1 1.2 0.4 3 -1 2 -1 1 -1.4 0.6 -3 0.2z"/>
</g>
<g transform="translate(0,0)">
<path d="M296.9 297.4L300.2 294.4L302.8 294.9L301.9 297.4L297.7 298.7ZM313.7 299.1L317.1 298.2L318.0 302.5L322.2 305.0L321.3 307.1L315.4 305.8L313.7 304.1ZM320.5 297.8L323.9 298.2L325.5 299.5L322.2 299.5ZM335.2 314.3L338.2 314.3L338.2 316.0L335.7 316.0Z" fill="#97b6e1"/>
<path d="M281.7 284.3L285.1 283.1L288.0 281.0L289.7 283.1L291.0 286.0L293.9 287.7L295.2 290.7L292.7 291.5L289.3 289.8L288.0 289.0L285.9 290.7L284.2 289.4L283.4 286.9ZM303.2 293.6L305.3 292.8L309.5 293.2L313.7 293.6L316.3 294.4L315.8 296.1L312.1 296.6L307.8 296.1L304.5 296.1L303.2 294.9ZM309.1 300.4L311.6 299.5L313.7 301.6L313.7 304.1L311.2 305.0L309.5 302.9ZM317.1 297.8L319.6 297.4L321.3 299.1L323.9 299.9L327.2 299.5L330.6 301.6L333.1 303.7L332.7 305.8L329.8 307.1L326.4 307.9L323.9 307.1L322.6 305.0L320.5 303.3L318.4 301.6L317.1 299.5ZM335.7 316.0L338.2 316.4L340.7 318.5L344.9 319.8L349.2 322.3L352.5 325.2L354.6 328.6L356.8 332.0L359.7 334.1L355.9 337.0L351.7 339.2L347.5 340.8L344.1 343.4L341.6 346.3L339.9 348.0L337.4 345.9L335.2 343.8L334.8 339.6L333.6 335.4L332.7 331.1L331.5 328.6L334.0 325.2L335.7 321.9L335.2 318.5ZM247.2 272.7L249.2 270.4L251.9 269.6L255.5 269.0L257.8 269.6L258.2 271.5L257.6 273.9L256.6 275.9L254.7 276.9L251.9 276.7L250.3 275.5L248.4 274.3Z" fill="#d2b48c" stroke="#000" stroke-width="2.2" stroke-linejoin="round"/>
<path d="M316.7 308.8L319.2 307.5L320.9 308.4L320.5 310.1L317.5 310.5ZM236.8 277.0L237.7 275.9L239.3 274.7L240.1 273.5L241.1 274.3L240.9 276.3L239.7 277.2L238.5 277.8L237.7 279.4L236.8 279.0Z" fill="#000" stroke="#000" stroke-width="1.8" stroke-linejoin="round"/>
<g fill="#5d6f8f"><ellipse cx="101.0" cy="229.7" rx="1.3" ry="1.8"/><ellipse cx="101.8" cy="232.5" rx="0.7" ry="0.7"/><ellipse cx="136.0" cy="235.7" rx="0.9" ry="0.9"/><ellipse cx="198.8" cy="248.3" rx="0.8" ry="0.9"/><ellipse cx="229.9" cy="282.3" rx="0.8" ry="1.2"/></g>
</g>
<g stroke="#000" stroke-width="1.65" stroke-linejoin="miter" transform="translate(0,0)">
<polygon points="261.5,238.05 256.09,241.18 256.09,247.43 261.5,250.55 266.91,247.43 266.91,241.18" fill="#ec8cd2"/>
<polygon points="247,257.35 241.06,261.67 243.33,268.66 250.67,268.66 252.94,261.67" fill="#4cb84c"/>
<circle cx="262.3" cy="292.4" r="6.05" fill="#ff9838"/>
<polygon points="102,331.45 96.06,335.77 98.33,342.76 105.67,342.76 107.94,335.77" fill="#ffcb98"/>
<circle cx="150.5" cy="393.3" r="6.05" fill="#8fc5eb"/>
<polygon points="173,389.45 167.06,393.77 169.33,400.76 176.67,400.76 178.94,393.77" fill="#64a8da"/>
<polygon points="110.5,427.05 105.09,430.18 105.09,436.43 110.5,439.55 115.91,436.43 115.91,430.18" fill="#e0484b"/>
<polygon points="113,441.55 107.06,445.87 109.33,452.86 116.67,452.86 118.94,445.87" fill="#ea6e70"/>
<polygon points="233.9,418.45 227.96,422.77 230.23,429.76 237.57,429.76 239.84,422.77" fill="#c4ffc4"/>
<polygon points="121,536.55 115.06,540.87 117.33,547.86 124.67,547.86 126.94,540.87" fill="#ff7f0e"/>
<circle cx="426.6" cy="155.5" r="6.05" fill="#6dcf6d"/>
<polygon points="505.3,213.15 499.89,216.28 499.89,222.53 505.3,225.65 510.71,222.53 510.71,216.28" fill="#ffc6c6"/>
<polygon points="479.5,241.95 474.09,245.07 474.09,251.32 479.5,254.45 484.91,251.32 484.91,245.07" fill="#e2a99f"/>
<polygon points="490,259.45 484.06,263.77 486.33,270.76 493.67,270.76 495.94,263.77" fill="#ffcdc2"/>
<polygon points="536.5,281.15 531.09,284.27 531.09,290.52 536.5,293.65 541.91,290.52 541.91,284.27" fill="#98e698"/>
<circle cx="592.6" cy="328.3" r="6.05" fill="#c58d84"/>
<circle cx="391.5" cy="282.5" r="6.05" fill="#ffe0c6"/>
<circle cx="380.4" cy="363.2" r="6.05" fill="#1f77b4"/>
<polygon points="396.5,371.85 391.09,374.98 391.09,381.23 396.5,384.35 401.91,381.23 401.91,374.98" fill="#2ca02c"/>
<polygon points="310.4,360.75 304.99,363.88 304.99,370.12 310.4,373.25 315.81,370.12 315.81,363.88" fill="#3f8fc6"/>
<polygon points="340.5,359.75 335.09,362.88 335.09,369.12 340.5,372.25 345.91,369.12 345.91,362.88" fill="#bd95e3"/>
<circle cx="583.7" cy="383.4" r="6.05" fill="#a87dd0"/>
<polygon points="490.6,413.95 485.19,417.07 485.19,423.32 490.6,426.45 496.01,423.32 496.01,417.07" fill="#c2e5fd"/>
<polygon points="465.4,441.85 459.99,444.98 459.99,451.23 465.4,454.35 470.81,451.23 470.81,444.98" fill="#ffb266"/>
<circle cx="324.4" cy="433.3" r="6.05" fill="#e377c2"/>
<polygon points="435.7,496.45 429.76,500.77 432.03,507.76 439.37,507.76 441.64,500.77" fill="#9467bd"/>
<circle cx="419.2" cy="516.2" r="6.05" fill="#d62728"/>
<polygon points="351,127.45 345.06,131.77 347.33,138.76 354.67,138.76 356.94,131.77" fill="#a97168"/>
</g>
</g>
<rect x="84.5" y="137.5" width="656" height="418" fill="none" stroke="#000" stroke-width="1.11"/>
<path d="M129.5 555.5v9.5M129.5 137.5v-8.9M197.5 555.5v9.5M197.5 137.5v-8.9M265.5 555.5v9.5M265.5 137.5v-8.9M333.5 555.5v9.5M333.5 137.5v-8.9M401.5 555.5v9.5M401.5 137.5v-8.9M468.5 555.5v9.5M468.5 137.5v-8.9M536.5 555.5v9.5M536.5 137.5v-8.9M604.5 555.5v9.5M604.5 137.5v-8.9M672.5 555.5v9.5M672.5 137.5v-8.9M740.5 555.5v9.5M740.5 137.5v-8.9M84.5 509.5h-9.0M740.5 509.5h8.75M84.5 440.5h-9.0M740.5 440.5h8.75M84.5 370.5h-9.0M740.5 370.5h8.75M84.5 298.5h-9.0M740.5 298.5h8.75M84.5 225.5h-9.0M740.5 225.5h8.75M84.5 151.5h-9.0M740.5 151.5h8.75" stroke="#000" stroke-width="3" fill="none"/>
<path d="M84 555.5v2.5M84 137.5v-3.3M107 555.5v2.5M107 137.5v-3.3M152 555.5v2.5M152 137.5v-3.3M175 555.5v2.5M175 137.5v-3.3M220 555.5v2.5M220 137.5v-3.3M242 555.5v2.5M242 137.5v-3.3M288 555.5v2.5M288 137.5v-3.3M310 555.5v2.5M310 137.5v-3.3M355 555.5v2.5M355 137.5v-3.3M378 555.5v2.5M378 137.5v-3.3M423 555.5v2.5M423 137.5v-3.3M446 555.5v2.5M446 137.5v-3.3M491 555.5v2.5M491 137.5v-3.3M514 555.5v2.5M514 137.5v-3.3M559 555.5v2.5M559 137.5v-3.3M582 555.5v2.5M582 137.5v-3.3M627 555.5v2.5M627 137.5v-3.3M649 555.5v2.5M649 137.5v-3.3M695 555.5v2.5M695 137.5v-3.3M717 555.5v2.5M717 137.5v-3.3M84.5 555h-3.3M740.5 555h2.6M84.5 532h-3.3M740.5 532h2.6M84.5 486h-3.3M740.5 486h2.6M84.5 463h-3.3M740.5 463h2.6M84.5 417h-3.3M740.5 417h2.6M84.5 393h-3.3M740.5 393h2.6M84.5 346h-3.3M740.5 346h2.6M84.5 322h-3.3M740.5 322h2.6M84.5 274h-3.3M740.5 274h2.6M84.5 250h-3.3M740.5 250h2.6M84.5 201h-3.3M740.5 201h2.6M84.5 176h-3.3M740.5 176h2.6" stroke="#000" stroke-width="1.39" fill="none"/>
<text x="411.7" y="127.1" text-anchor="middle" font-weight="bold" font-size="27.78">RTOFS - 2025-08-25 00:00:00</text>
<g font-size="22.22" text-anchor="middle">
<text transform="translate(133.54,611.6) rotate(-45)">165°W</text>
<text transform="translate(201.38,611.6) rotate(-45)">162°W</text>
<text transform="translate(269.21,611.6) rotate(-45)">159°W</text>
<text transform="translate(337.04,611.6) rotate(-45)">156°W</text>
<text transform="translate(404.87,611.6) rotate(-45)">153°W</text>
<text transform="translate(472.71,611.6) rotate(-45)">150°W</text>
<text transform="translate(540.54,611.6) rotate(-45)">147°W</text>
<text transform="translate(608.37,611.6) rotate(-45)">144°W</text>
<text transform="translate(676.21,611.6) rotate(-45)">141°W</text>
<text transform="translate(744.04,611.6) rotate(-45)">138°W</text>
</g>
<clipPath id="clip2"><rect x="801.5" y="137.5" width="656" height="418"/></clipPath>
<g clip-path="url(#clip2)">
<rect x="801.5" y="137.5" width="656" height="418" fill="#97b6e1"/>
<clipPath id="fc_espc"><rect x="801.5" y="137.5" width="656.0" height="418.0"/></clipPath>
<g id="espc" shape-rendering="crispEdges" clip-path="url(#fc_espc)">
<rect x="800.5" y="136.5" width="658.0" height="420.0" fill="#062a48"/>
<path fill="#1f3380" fill-rule="evenodd" d="M799.5 135.5l659 0 0 380.1 -4 0.1 -2-0.8 -2 0.4 -1.3 1.2 -2.7 6.3 -1.8 1.7 0.4 1 1.4 0.6 3-0.2 1-0.4 1-2.9 1-0.4 3 1.1 3 0 0 13.7 -4-0.1 -2 0.9 -2.6-1.3 -0.4-1.4 -0.2 1.4 -0.9 1 -2.9 2.1 -5 1.3 -3-0.7 -6 2.9 -5-0.6 -2.4-2 -4.6-2 -4.8 3 -1.9 3 -1.3 0.9 -1 0.2 -2-1.5 -1-0.2 -3 2.3 -3 1.6 -1.2 1.7 -0.2 3 -2.2 2 0 2 -8.4 0 -1.1-11 -0.9-1.3 -2.3-1.7 1.5-2 0.2-1 -0.5-3 -5.1-6 -0.2-1 0.8-3 -0.1-4 -2.6-7 -3-5 -0.8-3 0-3 -1.5-2 1.6-3.6 3 0 2-0.9 3 0.4 1.9 2.1 -0.8 3 0.6 2 -0.7 2 0.5 1 1.5 1.6 1 0.2 1-0.8 1-2 0.5 2 -0.5 4 1 2.3 0.3 3.7 1.2 3 -0.1 1 -2.5 4 1.1 3.3 1 0.5 3-0.6 5 1.3 4 1.8 3 0.4 2 2.2 3 0.3 1-1.1 0.3-2.1 0.7-0.9 1 0 2 1.8 2 0.6 2-0.8 3-0.3 6-5.3 1.4-5.1 -1-2 1.4-3 -0.9-3 -0.1-2 -2.6-3 -0.1-4 -2.3-2 -0.8-0.5 -2 0.8 -4-1.4 -2 0.3 -2.4 2.8 -0.3 2 -3.3 2 -0.3 1 0.3 2 2.5 2 -0.4 2 -1 2 0.2 1 7.7 3.2 5-1.5 0.7 1.3 -0.3 2 -1.4 0.7 -2 0.2 -2 1.9 -2 0 -2-1 -5 0.1 -2 0.7 -2 1.7 -2 0.3 -1-0.7 -1-2.4 -3.2-3.5 -0.1-3 -1.3-3 0.5-10 -0.8-2 0.3-2 -0.4-1.6 -2-1.3 -1.6-2.1 -1.4-1.1 -5-1.1 -3 0.1 -2.3-0.9 -0.2-1 0.5-0.8 1-0.4 2 0.2 0.4-1 -0.4-1.3 -3-1.4 -1.4-1.3 -0.6-4.5 -2 0.9 -2-1.7 -4 0 -8.1 2.3 -0.2 1 1.2 1 -0.9 1.2 -2 0.4 -2-1.1 -5 2.2 -4-1.6 -6-1.3 -4-3.2 -5 0.3 -4 2.5 -3-1 -1 1.1 -1 2.9 -3 1 -2 2.2 -3.2 1.4 -0.7 1 -0.3 3 -2 3 -0.1 1 -7.7 2.5 -1 0.6 -2 2.6 -1 0.2 -2.1-1.9 -3.9-1.4 -2-1.4 -5 1.5 -4-0.5 -5 0.4 -3-1.8 -2 0.4 -2 1.6 -2-0.1 -1 0.6 -0.3 0.7 0.6 3 0.7 1.3 3-0.9 2 0.1 1.4 0.5 1.6 1.9 1 0.4 2-0.9 3 0.3 5-0.5 1 0.7 1.6 3.1 -1.9 3 0.3 1.1 1 0.1 0.6 0.8 -1.3 1 0 1 1.7 3.1 2-1.2 9 2.5 3-2.4 1.4-3 0.6-0.4 1-0.1 4 1.7 1 1.9 3 1.8 1.4 2.1 2.7 5 0.9 2.8 3 0.1 3.2 3.1 0.7 2 -0.2 2 1.6 3 0.3 10 -17.5 0 0.3-5 -1.2-3 0.1-1 1.8-2 0-2 -3.3-3 -1-3 -1.8-2.3 -1-0.9 -3-0.5 -1.2-3.3 -1.8-1 -7 0.6 -4 0.9 -1.5 0.5 -0.7 1 0.5 1 3.6 3 0.8 2 -0.7 4 -1.3 2 -0.5 4 0.2 1 2 3 -0.3 4 -18.7 0 0-2 1-2 -1.2-3 -0.2-3 0.4-2 2.1-4 -0.1-3 1.4-3 -0.2-1 -2.4-3 -1.2-6 -2.1-1 -1.9-3 -3-1.1 -5 0.3 -2.4 0.8 -1.6 1.4 -4-0.5 -1 0.4 -1.1 0.7 -0.9 1.7 -1-0.1 -1.9-2.6 -3.1-0.7 -1.9-3.3 -3.1-1.8 -3-1.2 -9-1.2 -5 2.1 -3 2 -2.7 0.1 -4 2 -1.3 2.6 -1 0.4 -0.4-1 0.2-3 -0.8-1.3 -1.9-0.7 2.9-0.4 2.1-1.6 0.4-3 1.7-3 0.6-5 -0.8-1.3 -4-2.9 -4 0.3 -1.4 1.9 -0.4 3 -4.2 2.9 -3 0.8 -1.1 2.3 -1.9 1.6 -1.5 2.4 -1.5 0.8 -3-0.7 -5 2 -4-1.9 -1.5-2.2 -2.5-0.3 -4.2 4.3 -1.8 3.7 -3 1.2 -1-0.1 -5.2-4.8 -1.8-1 -1 0 -3 2.2 -3-0.6 -3 3 -3.4 8.4 -0.6 3 0.2 1 2 2 0.3 1 -0.2 3 -1.3 0.5 -2-1 -5 4.9 -1 0.5 -3-0.3 -2.7 1.4 -1.3 1.9 -1 0.6 -2-0.1 -2-1 -1.1-2.4 -2.1-2 -1.4-3 -2.4-3.1 -1-0.4 -3 0 -4-1.6 -1 0.2 -4.7 6.9 -2.3 0.6 -4-1.9 -1 0.3 -2.2 2 -0.8 2.6 -1 0.4 -2-0.8 -2 0.1 -0.9-1.3 -0.6-4 0.4-3 -0.3-3 1.2-3 -0.8-1.3 -1 0.1 -2 1.3 -1.6-1.1 -0.1-1 1.3-2 -1-2 0.4-4.6 2-2.4 1.1-3 0.9-0.9 3-1.3 3 0.2 1-0.4 0.6-0.6 0.3-3 1.1-0.6 4-1.8 4 0.1 2-1.5 2 0.9 3.5-1.1 0.3-1 -0.3-2 -1.5-1.5 -1.3-2.5 -3.7-2.4 -3 0.7 -3-0.2 -3 1.2 -0.7 0.7 -0.4 2 -0.9 0.7 -2 1 -3-0.4 -3 1.6 -1-0.2 -1.3-2.7 -1.7-1.3 -2-2.7 -1-0.4 -3-0.2 -3-1.3 -2 1.6 -4-0.5 -2 0.6 -3-0.5 -2 1.8 -3 0.1 -1.1-0.2 -1.9-1.5 -2-0.3 -2-2.5 -2-0.5 -2 0.5 -2 1.5 -3 0.5 -1 2.1 -1.4-0.8 0.1-2 -0.7-0.6 -1-0.2 -1 0.3 -2.1 1.5 -0.7-1 0.6-1 0-1 -4.8-1.4 -2.4-1.6 -1.6-2 -1 0.2 -4 3 -2 3.6 -3 1 -0.8 1.2 -1.5 5 2.6 4 0 4 -1.3 1.1 -4 0.7 -1.3-0.8 -0.7-2.1 -1-0.4 -1.7 0.5 -0.8 1 -1.5 0.8 -3 0.5 -4-0.1 -3-0.8 -1 0.2 -1 1.4 -1 0.6 -2-0.1 -4 0.9 -1 0.6 -1 2.3 -1 0.2 -1.4-0.5 -0.1-2 -0.8-1 -0.7-0.4 -3 0 -1-0.6 -0.7-1 -0.7-4 -0.6-0.9 -1.3 0.9 -1.7 3.3 -1 0.6 -4 0.3 -3-2.5 -2 0.2 -2.8 2.1 -0.6 3 -1.6 1 -3-1.9 -4-3.9 -0.4-3.2 -0.6-0.8 -3-0.2 -2-2.6 -1 0.6 -0.2 2 1.3 2 0.1 1 -2.1 3 -4.1 0 -2-1.2 -3 0.6 -3-2.9 -2-0.1 -5.8 5.6 1 3 -1.7 3 -4.5 1 -2-0.4 -0.8 0.4 -0.2 3 -2.5 2 -0.2 1 1.4 6 -2.7 0.6 -2-0.4 -1-1.2 -1-4.2 -1-0.6 -1 0.4 -1.8 1.4 -4 5 -3.7 2 -0.3 1 1 3 -0.2 1.4 -4-3.8 -5.8-2.6 -5.2-4.6 -2.9 0.6 -0.3 2 2.6 5 -1 8 0.9 3 -3.3 3 -0.1 1 0.8 2 -0.2 5 -6.9 0 1-7 -1.1-2 -2.5-2.4 0.1-3.6 -3.1-2.5 -3.4-1.5 -1-2 -2.6-1.7 -3 1.2 -1 0.1 -1-0.6 -3.6-4 0.1-1 1.2-1 -0.2-1 -0.5-0.3 -1 0.5 -0.5 1.8 -1.5 0.6 -3-1.1 -3 0.3 -3-1.9 -1 0.1 -1.5 2 -0.5 3.3 -3.2-0.3 -1.8-3.1 -1.1 3.1 -2.9 0.7 -1.8 1.3 0.4 1 -0.2 1 -3.3 4 -0.5 4 2.8 5 -0.5 3 0.5 4 -24.4 0zM1132.5 492.3l-4 1.1 -2 1 -2 2.3 -3 1.7 -1 2.1 2 1 5-0.6 5 1 2-2.4 1.1-4 0.1-2 -0.2-1 -1-0.6zM1141.5 503.4l-5 2.4 -1.1 5.7 0.3 1 3.8 4.3 2-2 2.2-1.3 2.5-5 -0.1-1 -1.8-1 -1.6-3zM1175.5 491.4l-1.5 1.1 -0.3 1 -0.2 1.2 1 0.8 1.8-2 2-1 0.4-1zM1208.5 448l-1 0.5 0 1 -3.3 1 -1.7 11.3 1.6 1.7 2.4 1.2 3 0 4-1.2 3 2.5 1-0.2 1-1.3 0-1.1 0.9-0.9 2.1-0.8 2.4-4.2 0-4 -0.9-4 -0.5-0.7 -1-0.3 -6 2.2 -3-1.5zM1227.5 465.5l-2 0.9 -3.5 0.1 -0.7 2 1.2 2.3 2 1 1.3-0.3 0.2-2 0.5-0.8 3-2 0.6-1.2 -0.6-0.7zM1260.5 490.2l-3.7 1.3 -1.3 2 -2.1 2 1.1 0.3 2-1.5 2-0.4 4 2.4 4.4-0.8 -0.4-1.2 -2 0.2 -1-0.9 0-2.1 -1-0.8zM1408.5 518.8l-0.8 0.7 0.1 1 0.7 0.5 2.8-0.5 -0.8-1zM1432.5 510.4l-0.9 1.1 0.3 1 1.6 0.5 0.3-1.5zM1260.5 504.3l-3 1.2 -2-0.6 -1 0.2 0 3.3 2 0.3 1-0.6 4.2-3.6 -0.2-0.4zM1220.2 520.5l1.3-0.8 0.8 0.8 -1.7 2 -1.1 0.2 -0.2-1.2zM926.4 534.5l0.7 1 -0.1 2 -0.5 0.9 -1 0.2 -0.2-2.1zM1364.4 536.5l4.1 1.1 3-1 1 0.3 1.4 2.6 1.4 1 -0.3 2 -3 4 -0.2 3 -1.8 2 -0.3 5 -14.1 0 -0.4-5 0.6-2 0.3-5 -0.2-1 -1.4-1.8 -2.3-1.2 0.1-2 0.2-0.5 1 0 1 0.9 3 0.2 4-1.1z"/>
<path fill="#4c389c" fill-rule="evenodd" d="M799.5 135.5l659 0 0 257.7 -2 0 -3 1.5 -1.5 1.8 0.1 2 -0.6 0.7 -2 0.5 -1.8 1.8 0.3 3 2.2 2 -0.4 1 -2.9 4 -0.4 2.2 -1-1 -1 0 -1 0.7 -0.2 1.1 2.2 2.9 2 0.2 5-1.4 0.8-0.7 1.2-2.9 4-0.3 0 49 -2 0 -7 1.6 -3-0.8 -3 2.2 -1-0.4 -2-2 -4 0.1 -1-2.2 -0.8-0.3 -3.2 0.4 -0.9 0.6 -0.5 1 0.2 4 1.2 2 -0.6 1 -1.4 0.4 -2-0.6 -3 2.3 -5 0.6 -1 0.5 -0.6 1.8 0.9 2 0.1 2 -0.4 1.3 -1 0.8 -1-0.1 -1.5-2 -1.7-1 -1.4-3 -3.4-0.7 -4.7 1.7 -5.3 3.8 -3 0.4 -2-0.8 -4 1.7 -2-0.9 -1-1.3 -3-0.7 -4-2.8 -2-0.6 -1 0.1 -1.4 2.1 -6.6 3.4 -1-0.1 -4-2.8 -5-1.3 -2-2.5 -1-0.2 -4.5 2.5 -1.5 1.9 -1.5-0.9 -1.5-1.8 -1-0.4 -1.8-2.8 -3.2-1.8 -4-0.2 -5-1 -5-2.4 -5 0.2 -3 1.9 -1 0.1 -1-0.9 -1-3.6 -6-3.1 -1 0.5 -1.3 3.3 -2 2 -6.7 0.7 -2 2.3 -2 1.3 -3 0.5 -5-1.8 -1.1 2 -0.9 0.6 -2-0.4 -5 1.5 -3-0.3 -3 2.2 -2 0.2 -3 1 -3-0.4 -3-2.4 -0.1-11 -0.5-2 -1.1-2 -0.3-4.7 -3-1 -1.4-2.3 -3.6-1.8 -2 0.6 -1 1.8 -3-0.3 -1.1-1.3 -0.6-3 0.6-2 -1.3-2 -1.6-0.3 -4 0.5 -3-0.7 -3-2.3 -2-3.6 -2-0.7 -3-2.3 -4-1.1 -2 0.3 -2-0.4 -1 0.3 -2 1.9 -3 1.2 -2-0.4 -2-1.5 -3 2.3 -3-0.1 -0.7 0.9 -0.7 3 -2.2 2 -0.5 1 -0.6 4 -2.3 3.6 -3.1 2.4 -1 5 -2.2 4 -0.2 2 -0.8 1 -2.7 0.1 -5-1.2 -1 0 -3 1.4 -4.4-0.3 -2.4 1 -2.2 4.7 -2 0.6 -2-0.4 -1.5-2.9 -1.5-1.2 -2-0.1 -4 0.9 -2 1.4 -1 0.2 -5-3.1 -3 0.4 -2-0.4 -3 2.6 -1 0.4 -4.7-0.1 -2.3 2.3 -3 0.4 -2 1.3 -0.8 1 0.9 1 0.5 2 -2.8 2 -0.1 1 0.5 1 -5.2 2.1 -2-0.1 -4 0.8 -1.2 1.2 -1.8 0.6 -1.5-0.6 -1.5-1.5 -0.2 0.5 -1.8 0.5 -2.7 1.5 -4.3 1.3 -3 3.8 -3 1.6 -2-0.1 -2-2.8 -2-0.4 -2 0.3 -1-0.5 -2-1.1 -3-2.8 -4-0.1 -2-0.5 -1 1.4 -1 0.3 -0.7-1.4 -1.3-0.3 -4 2.1 -5-1.6 -2-3 -1-0.1 -2 0.2 -1.5 1.7 -3.5 1.7 -2-1 -2 0.8 -4 0.3 -1.7-0.8 -0.3-1 1-3 -1-0.7 -2-0.4 -4.1 1.1 -0.2 3 -3.5 2 -4.2 6.2 -2 0.6 -2-0.1 -3 2.2 -1-0.2 -2-2.2 -1-0.2 -2 1.6 -2-0.3 -2 1 -3 0.1 -3 1.3 -3 2.3 -4 0.8 -4-0.1 -3-2.5 -2 0.8 -1-0.1 -1.8-1.2 -3.2-0.2 -2.4-1.8 -2.6-0.3 -2-0.9 -2 0.5 -1-0.3 -2-3 -4-1.8 -1 0.2 -2 1.7 -1-0.3 -3-2.2 -1 0 -0.7 0.4 -0.4 2 -2.1 3 -1.8 1.1 -4-1.3 -2-2.4 -4-0.3 -3-1.3 -5 0.5 -2.2 0.7 -5.8 5.1 -3-0.1 -2 1.1 -2 0.5 -1 1.5 -3 2.5 -7.6 3.4 -4.4 3.6 -1 0.4 -3-1.3 -4 1.1 -3-0.8 -1 0.2 -1.4 1.8 -0.5 3 -2.1 1.2 -6-4.2 -1-0.5 -1 0.2 -8 3.7 -2.2 1.6 -1.8 2.4 -7 4.2 -4-0.4 -9-1.9 -1.2-2.3 -1.1-1 -1.3-3 -1.4-1.3 -7-1.9 -2 0.9 -2 1.7 -4 1.9 -4-1 -2.1 0.7 -1.3 1 -0.2 1 0.6 2 -1 1.2 -1 0 -1-0.9 -4 0.1 -5-3.2 -4-0.1zM1062.5 474.3l-3.1 2.2 -0.3 1 0.4 0.8 1 0 2.4-1.8 0.4-1zM1103.5 479.2l-0.4 0.3 0 1 0.4 0.9 1 0 0.2-1.9zM1288 471.5l3.5-0.9 1.2 0.9 -1.6 1 -0.6 1 0 1.1 -0.8 0.9 -4.6 0 0.4-1.1zM1315 473.5l0.5-0.6 2-0.1 1.7 1.7 -2.7 0.4zM799.5 516.5l0-0.4 3.3 0.4 2.9 4 1.3 6 0 3 1.7 3 1.8 0.8 1 1.2 0.3 1 -1.3 1.3 -1 0.2 -2-1.3 -3 0.4 -3-0.8 -2 0z"/>
<path fill="#714794" fill-rule="evenodd" d="M799.5 135.5l659 0 0 16.8 -2 0 -0.3 1.2 2.3 0.2 0 218.1 -2 0 -1.3 0.7 -0.3 2 -0.8 1 -0.1 3 -0.5 0.8 -7 0.8 -1 0.8 -1.5 3.6 -1.2 1 -1.7 4 0.1 2 -0.9 4 0.6 3 -1.4 1.7 -0.4 1.3 1.4 2 0 1 -0.7 2 -1.4 1 -1 3 -0.9 0.7 -0.8-0.7 -1.4-3 -0.8-0.6 -2 0 -3 2.9 -3-0.3 -2 1.4 -3 1.2 -0.3 2.4 -0.7 0.9 -1 0.3 -4-0.8 -1.1 0.6 -0.9 2.3 -1 0.3 -4-1.3 -2 0 -2 1.8 -2 2.9 -6 3.1 -3 2.2 -4-1.3 -4 0.5 -2 2.2 -2.3 1.3 0.2 2 -0.3 1 -1.3 1 -0.5 1 0.2 2 -0.7 1 -4.3 1.4 -7 3.2 -1.1 1.4 -0.5 3 -1.4 1 -4-0.2 -0.6-0.8 0.4-2 -0.4-1 -3.4-1.9 -2-0.2 -2-1.8 -3-0.2 -3 0.7 -4-0.7 -4 1.7 -1.6 1.4 -1.1 0 -0.9-1 0.6-2 -1-1.3 -3-1.4 -3 0.7 -1.3-1 -1.2-2 -3-3 -0.7-4 -0.8-1.3 -1-0.2 -1.5 0.5 -0.5 2.5 -0.6 0.5 -5.4 3.1 -0.8 0.9 -0.4 2 -3.5 3 -0.4 1 0.9 1 0.3 1 -1.1 1.7 -3 1.5 -3 0.2 -1.4-0.4 -1.6-2.6 -2 0 -1 0.5 -0.6 1.1 -0.2 1 0.7 2 -0.9 1.3 -1 0.5 -3-0.2 -4 2.5 -3-0.6 -4 2.2 -2-0.1 -6-2.1 -1.8-1.5 -1.2-2.1 -3-0.1 -1-0.7 -0.8-3.1 -2.2-1.7 -5-0.2 -3 0.6 -2-0.3 -0.4-0.4 0.8-5 1.5-4 -0.4-2 -2.2-3 0.2-2 -0.5-1.3 -4-0.8 -3.2 1.1 -2.2 2 -0.5 1 0.3 2 -0.6 1 -1.8 1.4 -1 0.1 -5-1.4 -3-2.3 -1-0.3 -2 0.2 -1-0.5 -2-3.8 -1.6-1.4 -0.4-2 -2-0.9 -4 1.7 -3 2.4 -4 0.2 -6 2 -2 1.3 -1-0.7 -1.2-2 -5.8-0.4 -2 1.4 -0.3 2 -1.1 2 0 2 -0.8 1 -2.8 0.5 -2-0.8 -3 2.2 -2-0.4 -5 1.8 -3 0.3 -1.1 2.4 -1.9 1.4 -4 0.6 -2-0.3 -2 0.2 -2-0.9 -1 1 0.3 6 -1.3 1 -0.1 1 1.1 0.3 0.5 0.7 -0.5 2 0.2 2 -1.2 0.6 -4 0 -2-1.5 0-1.1 1-1.3 1.1-2.7 -2.4-3 -1.7-3.3 -1-1.1 -1 0.1 -0.3 3.3 -0.7 0.6 -2 0.9 -1 1.1 -3 0.2 -1.6 1.2 -3.4 1.1 -0.7 0.9 -0.3 5.2 -1 0.3 -2-2 -1-0.3 -3 1.6 -5-0.1 -2 1 -1 1.5 -2-0.1 -2-1.7 -1-0.1 -4 1 -2.1 1.7 0.1 0.4 2 0.1 1 0.8 -1 0.5 -3-0.6 -4 0.8 -2 1.3 -2 0.7 -4.1 3 -2.7 1 -0.2 1 -1 1.1 -1 0.1 -2-1.8 -2 0.1 -1.2-2.5 -2.8-1 -3.3 2 -0.6 1 -1.1-0.5 -1 0.4 -3 2.7 -4 0.9 -5-1.1 -1-2 -1-0.8 -0.6 1.4 -1.4 0.5 -2 0 -1-1.1 -2 0.7 -1-0.4 -0.5-1.7 1.4-2 0.1-2.1 2.3-0.9 -2.3-0.4 -3-1.6 -3 1 -1 1.9 -2.9 1.1 -1.9 2 -0.6 3 1 2 -0.6 0.7 -2 0.1 -4-2.5 -7-1.9 -2-2.7 -1 2.3 -1 0.8 -3-0.6 -2.5 0.8 0 5 -0.5 0.9 -1 0.5 -2 0.1 -3-2.6 -2.5 0.1 1.5 1.9 0.5 1.1 -0.5 0.4 -2-1.2 -4-1 -3 1.2 -1.6-0.4 1.6-1.6 0.8-3.4 -3.1-3 -3.7 0 -2 0.7 -2-0.8 -1 0.9 -5-2.2 -2.1 0.4 -2.9 3 -1 2 1 1.8 1 0.5 1-0.4 1 0.7 0.2-0.6 1.8-1 0.5 1 -1.2 1 -3.3 0.1 -2 0.9 -3-1.4 -1 0.3 -2 1.5 -2-0.4 -2 0.4 -2-1.5 -2 0.6 -4-0.3 -3 1 -2 0.1 -0.6 0.7 -0.4 2.6 -1.9 2.4 -4.4 1 -0.7 1 0 3.5 -1 0.6 -3 0.2 -4 2 -5 0.3 -3-0.4 -3-1.8 -5-0.7 -2-0.7 -0.9-1 1-2 0.7-4 -0.7-1 -1.1-0.3 -1.8 1.3 0.9 2 -1.4 2 0.3 1.3 0.9 0.7 -1.3 2 -0.5 2 -2.1 2 -3 0.1 -2-1.7 -2-0.8 -5 0 -1.1 1.4 -1.9 1 -1.2 2 -1.8 1.5 -1 0.1 -2-1.2 -1.9 1.6 -0.6 2 -0.5 0.3 -2 0.9 -2-0.7 -3 0.8 -0.8 0.7 -0.2 1.1 -1 0.5 -6-1.2 -3 1.4 -2 0.2 -3 1.2 -3-1.7 -2-0.2 -4 2.1 -1-0.1 -1.5-1.3 -1.5-5 -4 0.4 -3 1.2 -1-0.4 -4-0.1 -3 0.9 -9-3.6 -4 0.5 -6-2.4 -2-0.3 -3-2.4 -2 0.3 -1-0.8 -2 2.6 -1 0.4 -2-1.2 -1 0.1 -6.8 2.8 0.8 1 -1 0.7 -2 0 0-23.2 2 0 0.4-0.5 -0.4-0.7 -2 0zM804.5 461.4l-1 1.1 1 1.5 1 0.1 0-2zM947.5 466.4l2 1.4 1-0.3 -1.1-1zM1055.5 461.3l-1.4 1.2 -0.2 1 0.6 0.9 1.5-2.9zM1174.5 424.1l-0.2 1.4 -2.8 3 1 1.1 1-1.2 3-0.4 0.6-0.5 -1.8-3zM1263.5 419.4l-2 2.7 -4 1 -0.3 1.4 0.3 0.8 3-2.1 1 0.5 1-0.3 2.7-2.9 -0.7-1.5zM1267.5 390.2l0 1.6 2 1.3 2.3-1.6 -0.3-1.3 -1 0.6 -2-0.9zM1300.5 413.2l-1 0.3 0 1.2 1.4 0.8 1 0 -0.1-1zM1395.5 396.4l-1 0.5 -1 1.5 -1 0.3 -3-0.5 -3 1 -0.6-0.7 -2.4-0.7 -1.2 0.7 1.5 1 0.4 2 1.3 0.9 6-0.2 2.3-0.7 2.8-3 0.7-1zM1404.5 395.2l-0.2 1.3 1.2 0.7 1.5-1.7 -1.5-0.8zM1328 446.5l1.5-0.5 0.6 0.5 -0.1 1 -0.5 0.6 -1 0 -1-0.6zM1046.1 460.5l0.4-0.3 2 1.6 0.8 1.7 -0.4 1 -2.4 0.5 -1.6 1.5 -1.4 0.5 -0.8-0.5 0.4-2z"/>
<path fill="#8f558b" fill-rule="evenodd" d="M799.5 135.5l12.9 0 0.1 2.2 3 0.8 0.1-3 637.5 0 0.1 3 1 1 1.3 0 1-0.8 2 0 0 10.1 -2 0 -1.6-2.3 -1.4-0.7 -5 0.4 -0.5 1.3 2.5 2.3 2.6 5.7 -0.5 2 -0.1 3 -3 3 -0.4 2 0.4 0.8 2-0.9 4-0.4 1-1.2 2 0 0 145 -3.1-0.3 -1.3 2 0 1 0.4 1 4 0.5 0 20.8 -2 0 -2 2 -0.4 0.7 0.1 3 -0.8 1 -3.2 2 -5.2 2 -1.4 1 -0.4 1 0.8 2 -0.5 2.4 -0.6 0.6 -0.5 0 0-4 -0.9-0.8 -3 0 -0.8 0.8 -0.9 2 1.3 3 -3.3 5 0.8 2 -0.5 3 1.8 3 0.1 2 -0.5 0.6 -2.2 0.4 -4.8 4.9 -5.6 4.1 -1.4 2.8 -5.8 0.2 0-2 -0.6-1 -1.6-0.9 -1 0.4 -0.7 0.5 0.3 3 -0.6 0.7 -2.1 0.3 -2 4 0.6 1 -1.5 1.9 -2 0.6 -3-1.2 -2 0.3 -1.6 1.4 0.5 3 -1.9 1.7 -5-0.2 -2 2 -3 1.1 -5-1.2 -1.3-1.4 -0.7-3.4 -3-1.8 -3 0.9 -4.2 3.3 -0.8 5.1 -1-0.3 -3-3.1 -1-0.3 -1 0.6 0 1 2 2.7 2-0.2 0.1 0.5 -1.1 0.2 -0.3 0.8 1.5 6 1.8 1.1 2-0.6 0.7 0.5 0.2 1 -0.9 1.8 -2 0.6 -3-0.1 -1-0.6 -1.2-1.7 -3.8-1 -0.9-1 -0.9-3 -0.9-1 -0.2-2 -3.1-3.9 -4-0.7 -2 2 -1-0.1 -1-0.9 -1.8 1.6 1.8 2.6 1 0.5 0.6 1.9 4.2 2 1.6 2 -0.4 0.9 -2.8-0.9 -1.2-1.4 -5-2.3 -2 0.2 -2 2.2 -2-1.5 -2-0.5 -0.5-0.7 1.8-1 0.6-1 0.1-1.5 2.4-1.5 -0.4-1.3 -3-0.4 -2-1.7 -2 0.8 -3.2-0.4 -1.2 3 -1.6 0.4 -1-1.2 -2 0.6 -3-2.1 -1-1.7 -1-0.6 -1-0.2 -3 0.6 -2.4-1.8 -1.6-0.5 -1 2 -1-0.1 -4-2.6 -1 0.2 -0.9 1 0.2 1 3.7 3.8 2 0.6 2-0.7 2 1 4 0.2 0.2 2.1 -1.1 4 0.4 1 1.5 0.5 1.8 1.5 -1.8 1.3 -4-0.4 -2 0.8 -2-0.3 -2 2.6 -1.1 0 -1.9-2.6 -1-0.4 -2 0.3 -2 1.3 -4-0.6 -0.5-1 0.4-3 -1.2-2 0.3-2 -0.7-3 2.7-2.4 2.2 0.4 -0.1-3 -1.6-3 0.5-1.5 1.6-0.5 -0.6-1 -1 0 -4.8-4 -1-2 0.9-2 -0.3-2 -4.8-0.1 -2 0.6 -2.2-1.5 -1.8-0.6 -2 0.1 -3 3.6 -3-0.1 -1 0.4 -1 1.4 -2-0.2 -2 1.2 -2-1.1 -2 0.9 -1-0.3 -0.4 0.7 0.4 0.5 2 0.5 2-0.1 1-0.6 0.7 1.7 0 1 -3.4 3 -0.7 7 -1.7 2 -0.7 2 2 6 0.1 1 -1.8 3 0.5 1 0.6 1 1.4 0.6 4 0.4 -1 0.5 -1 1.5 -1 0.7 -3 0.1 -3-2.7 -3-0.9 -1-1.7 -2-1.6 -1-0.1 -0.9 0.2 -2.2 3 -1.9 1 -5-0.8 -3 0.1 -4 5.1 -2 0.4 -0.8 1.2 -2.2 1.6 -3-3.1 -5.1-1.5 -1.9-2.3 -1-0.3 -2 0.5 -2.6-2.9 -4.4-2.6 -1-1.4 -1 0 -2 0.6 -2 1.3 -3-0.2 -0.6 0.3 -1.4 3 -1.8 1 1.8 2.4 1-0.2 1.2-1.2 1 0 -0.2 1 -1.8 3 -1.2 0 -1-1.7 -2 0.2 -2-1.6 -5 2.9 -1.7 0.2 -2.3 1.3 -3-0.3 -2 2.8 -0.2-0.8 1.1-2 -0.9-0.3 -2-0.5 -2 1.5 -1 0 -2-1.2 -6-0.1 -2 2.9 -3 0 -2 0.9 -1 1.1 -1 0.1 -3-0.2 -6-1.6 -3-0.2 -2.3 1.6 -0.7 2.7 -4.6-1.7 -1.4-1.3 -8 0.3 -3-0.7 -3-0.1 -2.8 0.8 0.8 2 -1 0.8 -2.2-1.8 -1.8-2.6 -1-0.4 -0.6 1 0.1 1 -1.6 1 0.7 2 -1.4 5 0.3 2 -3.5 3.3 -1 0 -1-0.8 -1 0 -1 1.2 -6-0.6 -0.3-1.1 0.6-1 0.2-3 -0.7 0 -0.8 0.7 -5-2.3 -4 1.4 -3 0 -2 0.5 -2-1.5 -1-0.1 -2 2.1 -2 0.8 -2-2.3 -2 0 -1-1.3 -1-0.1 -2 0.7 -2 1.5 -4 0 -0.4 0.9 -2.8 3 -0.2 3 -1.6 2 1.1 3 2 3 0.2 4 1.5 3 -0.8 2.8 -2 0.6 -4-0.8 -1-0.6 -1-1.7 -1.1 1.7 -0.9 0.6 -1-0.4 -2-5.6 0.4-6.6 -1.4-0.9 -3 0.5 -1 0.8 -3 1 -3 2.8 -1 0.3 -1 0.3 -2-0.8 -2 0.3 -2-0.4 -1.9 1.1 -1.6 2 -4.5 1.9 -2 2.5 -1-0.6 -1.6-2.8 0.1-4 -1-2 1.5-1.9 2-1 2.2-2.1 0.3-3 -0.3-2 -2.3-2 0.1-3 -1-2 1.1-1 -2.1-0.4 -1-1.2 -3-1.1 -1.5-3.3 -2.5-2.3 -3-1.4 -1 0.3 -0.3-0.6 1.3-0.9 0.1-1.1 -0.1-0.4 -1 0.1 -1 0.4 -1.8 3.9 -1.8 2 -0.1 2 0.6 2 -0.9 2 -4 3 -1 2 -3 2.7 -2 0.5 -0.3 0.8 -0.2 2 2 6 -0.5 2 1 1 0.2 3 2.1 3 -0.3 1 -1.1 1 0.3 2 0.8 0.6 4-0.6 1 0.7 0 1 -1.8 1.3 -3.2 0.8 -2.4-0.8 -1.6-1.2 -4-0.2 -2-1.1 -4-1.3 -4 2.2 -4 0.2 -2 1.1 -8.6 1.3 -2.4 2.3 -7.2-2.3 -0.5-1 0.6-2 -0.9-1.6 -1-0.2 -3 0.7 -2-0.5 -1.3 0.6 -0.7 1.3 -0.6-2.3 -2.4-2.2 -2 1 -1-0.1 -0.5 1.3 -1.6 1 -0.9 1.7 -1 0.8 -2-0.7 -1 0.7 -2-1 -2.2 0.5 0.1-2 -0.9-1.2 -2 0.7 -0.4 0.5 0.4 1.4 1 0.7 1 0 0.3 0.9 1.1 10 -2.4 0.6 -2-0.6 -2 0.4 -2-1.1 -1 0.2 -2 1.9 -1-0.1 -2-0.8 -1-1.4 -1 0 -1.7 1.9 0.1 1 1.2 1 0.1 1 -0.7 0.8 -2-1.3 -2 0.9 -1-0.1 -1-1.4 -5-0.7 -4-1.4 -1 0.1 -4 2 -2-1.6 -2-0.2 -2 1 -2-0.8 -1.3 0.7 -0.8 2 -3.5 2 -0.4 0.6 -1 0.3 -1-0.6 -0.4-2.3 -0.6-0.7 -4 0.4 -5 1.7 -2 0.1 -2 1.6 -3-2.8 -4 0.4 -3.2-0.7 -4.8-5.5 -2 0.1 -2-0.8 -2 0.8 -1-0.4 -1.7-3.2 -1.3-0.5 -1.1 0.5 -0.9 3 -0.9 1 -3.7 2 -2.4 1.9 -1.1 0.1 -2.9-3.4 -1-0.1 -1.8 1.5 -0.2 2 -0.9 1 -1.1 0.8 -2 0.5 -1 0.9 -1 0 -1.4-2.2 1.2-3 -1.5-9 -2.3-1.8 -1-0.1 -2 1 -3-1.2 -3 0.8 -2 0 0-301.6 4 0.3 2.7-1.4 0.3-1 -1.7-1 2.6-5 1.2-1 -1.5-2 0.1-1 1.9-1 0-1 -0.6-1.3 -1-0.7 -2-0.2 -0.3 0.2 1.4 1 0 1 -0.7 1 -2.4 0.3 -2 1.2 -2 0zM832.5 459.2l-0.3 0.3 1.3 0.8 2-0.7 1 1 0.7-1.1 -0.7-0.5 -1 0.4 -2-0.9zM836.5 455.4l-0.3 0.1 0.3 1.1 1-0.1 1-1zM905.5 166.5l-2.4 1 -1 3 1.4 0.5 2-0.6 1 0.6 1-0.6 0.6-0.9 -0.6-2.4 -1-1.3zM949.5 443.5l-0.7 1 0.7 1.3 1-0.6 0.2-0.7 -0.2-0.5zM1018.5 409.4l-0.7 1.1 0.4 1 1.3 0.9 1 0 0.8-1.9 -0.2-1 -0.6-0.4zM1091.5 418.5l-1 0.3 -0.2 0.7 2.2 3.3 1 0.7 1.1-1 0-1 -1.5-2zM1097.5 416.8l-0.8 0.7 0.8 1 1-0.3 0-1zM1110.5 395.9l-0.5 0.6 0.5 1.5 1.7-0.5zM1113.5 396.3l-0.7 0.2 -0.1 1 3.8 0.2 0-0.4 -1.7-0.8zM1220.5 138.2l-0.7 0.3 0 1 0.6 1 1.1 0 0.3-1zM1333.5 365.3l-1 0.2 -0.9 1 0.9 0.6 1.6-0.6zM1340.5 346.2l-0.4 1.3 0.4 0.2 0.9-0.2 0.7-1zM1370.5 340.4l-3.3 1.1 -2.7-0.1 -3 1.8 -3 0.7 -2-0.1 -2-1.6 -2-0.1 -3 2.4 -2 0.2 -2-0.3 -1 0.3 -1.9 1.8 2 3 -0.5 5 0.4 0.5 1 0.1 1-0.9 0.6 0.3 -0.5 3 -1.4 2 -0.2 1 2.5 0.7 2-0.5 0.7-2.2 1.3-0.9 3 0 2 1.1 1.2-2.2 1.8-0.6 3 0.3 2 1.3 2 0.4 7-1 1.4-1.4 0.1-1 -0.5-2.6 -2.1-1.4 0-1 0.9-2 -3.3-3 1-2zM1378.5 162.1l-0.3 1.4 0.3 0.5 1 0.1 0.5-0.6 -0.2-1zM1386.5 336.9l-1 0.9 -3 0.5 -0.9 1.2 -0.6 2 0.5 0.5 1-0.3 2 0.4 4.5-1.6 0.8-1 -1-1 -0.3-1.1 -1-0.6zM1395.5 353.4l-1.4 1.1 0.7 1 0.7 0.6 1.7-0.6 0.5-1 -1.2-1zM1406.5 153.4l-0.3 1.1 0.3 0.2 4 1.3 0.5-0.5 -0.5-1.8 -1-0.6zM1418.5 150.3l-1.1 1.2 0.8 3 1.5 1 0 2 0.8 0.7 2-0.1 3-0.9 0.6-0.7 -2.7-2 -0.9-2zM1433.5 160.3l-0.3 1.2 1.3-0.8 1 1.6 1 0.2 0.1-2 -1.1-1zM1438.5 146.3l-1 1.2 -0.9 2 1.9 1.1 0.4-0.1 0.1-2 1.1-1 -0.2-1zM1442.5 145.1l-1.5 1.4 1.5 0.8 1-0.3 0.3-1.5 -0.3-0.4zM1445.5 165.9l-0.8 0.6 0.8 1.2 1.5-1.2 -0.5-0.5zM1449.5 167.6l-0.4 0.9 0.4 1 1 0.6 1-0.4 0.4-1.2 -1.4-1zM900.5 460.7l-0.4 1.8 1.4 0.1 -0.1-1.1zM1341.5 360.5l-4 3 0.1 1 0.7 1 0.1 2 2.1 2.6 1.3-0.6 0.1-3 1.7-4 -0.2-2 -0.9-0.5zM1367.5 392.4l0 1.3 1.8-0.2 -0.8-1.4zM1379.5 318.5l0.2 1 1.8 0.9 0.4-0.9 -0.4-1zM1385.5 345.8l-0.9 0.7 0.3 1 1.6 1.2 1 0 0.5-1.2 -0.4-1 -1.1-1zM1410.5 306.5l1 1.6 2 0.3 1 2.1 -0.3 1 -1.3 1 -0.3 1 0.3 4 0.6 0.5 4 0.4 1-0.9 -0.9-1 -0.2-1 3-4 -0.5-1 -2.3-1 -2.1-2.8 -1-0.5zM1419.5 161.4l-0.5 1.1 0.2 1 1.3 1.4 2-0.2 1-1 -1-2.4zM1435.5 304.3l1 1.4 1.4-1.2 -1.4-0.7zM1438.5 153.8l-0.4 0.7 0.4 3.3 1-0.3zM1447.5 337.3l-0.8 0.2 -0.1 1 1.9 1.8 1 0.1 0.2-0.9 -0.6-1zM1406.5 339.5l-0.6 2 0.6 2 1.1-1 0.1-2 -0.2-0.7zM1417.5 369.1l-0.8 1.4 1.8 1.7 1-0.4 0.1-1.3 -0.5-1zM1421.5 175.3l-0.4 1.2 1 2 1.4 0.9 1 0.1 1-1 -2.7-3zM1456.5 339.5l2 0 0 3.3 -5-0.2 0.3-1.1zM1284.8 410.5l2.7-0.7 2 1.5 2 0.4 2 0.3 2-0.6 2.5 6.1 3 3 0.3 1 -0.8 1.8 -1 0.3 -0.6 0.9 0.6 2 -3.9 5 -3.1 2.1 -3 0.4 -3-0.1 -5-5.4 -3 1.7 -1 0.1 -1-1.3 -2-0.7 -0.3-0.8 0.5-3 -2.5-2 -2.3-4 -0.2-1 0.8-1.1 3 0.2 2-0.9 5-0.5 1.8-1.7 0.4-2zM1359.3 418.5l1.2-0.6 1.4 1.6 -0.1 1 -2.6-1zM1236 419.5l0.5-1 1 0.4 0 2.5 -1 0.7 -1-0.5 -1 1.8 -1 0.3 -0.5-1.2 2.5-1.2zM1268.6 423.5l0.9-0.9 1 0.9 0 2 -1 1.3 -1-1.6zM1329.4 423.5l1.1-0.5 0.5 0.5 1.5 4.5 1.7-1.5 2 0 3.3 1.5 0.5 1.5 -0.5 0.6 -2 0.1 -0.9 2.3 -1.1 0.7 -3-0.3 -0.5-0.4 -0.1-1 1.6-1.2 0-1.4 -1 0 -1 1.3 -2 0.1 -1.2-0.8 -0.1-1 1.2-1zM1262.3 427.5l0.7 0 1.1 1 -0.6 0.5 -1.9-0.5zM1268.4 427.5l0.1-0.4 1 0.7 0.4 0.7 -0.1 2 -1.3 1.9 -1 0.5 -1-0.2 -1.5-1.2 0.2-1zM1342.4 429.5l2 2 -3.9 3 -1.1-1 2.3-2zM1089.5 448.5l1-0.6 1 0.6 0.9 1 -0.2 1 -0.7 0.5 -2 0.1 -0.6-1.6zM1074.4 456.5l1.3 0 1.1 1 -0.3 1 -2 1.1 -1 0 -0.8-1.1 0.1-1zM1089.3 457.5l0.2-0.7 1 0.2 0.5 0.5 -0.2 1 -0.8 0zM1013.9 460.5l1.6-0.7 1.1 0.7 -1.1 0.8zM907.9 475.5l0.6-0.6 1 0.5 0.3 1.1 -1.3 0.3 -0.6-0.3zM799.5 478.5l0-0.5 2 0 0.7 1.5 -0.7 0.9 -2 0zM868.3 487.5l1.2-0.3 1 1.2 -1 2.3 -2-1.1z"/>
<path fill="#b05f81" fill-rule="evenodd" d="M817.8 135.5l44.6 0 0 2 -0.9 1.5 -1 0.4 -1-1.2 -2 1.3 0.7 2 -0.7 0.5 -4 0.2 -1.8 1.3 2.8 1.1 0.7 0.9 -0.5 2 -0.8 1 0 1 0.6 0.7 3 1.1 2-1 2 1.1 2.9 3.1 0.7 2 0 2 0.8 1 5.6 1.4 2-0.4 0.2 3 0.8 0.9 3 0.5 3 1.3 2 0.1 2 1.1 2-0.1 1 0.6 0.1 2.6 -2.1 3.9 -1.2 1.1 -0.2 1 2.4 3.6 3-0.4 1 0.3 0.1 2.5 0.9 0.8 3 0.9 3-1.1 6 0.9 2 0.7 3 2.8 2.4-2 0.1-1 -0.9-3 -1.6-1.8 -1 0.8 -1 0 -0.7-1 0.4-1 1.3-0.7 3 1.1 1-0.1 1.7-2.3 -1.5-2 0.3-1 0.5-0.7 2 0.4 1.6-1.7 0.4-2 -1-1.2 -0.4-1.8 1.4-1.9 0.1-1.1 -0.9-2 0.3-1 -0.6-3 0.3-1 3.5-4 -0.1-1 -2.6-1.5 -2-0.3 -2.4-1.2 1.6-3 -0.2-0.4 -1 0 -0.5-1.6 -2.5-1.9 -2 0.2 -5 3.5 -2 0.3 -3-1.2 -2 0.6 -4-1.5 -4 1.3 -1-0.3 0-3.3 -3-2.6 -2 0.1 -1.7-1.2 0-2 4.3 0 0.4 2.7 1-0.3 1 0.5 0.6-0.9 0-2 74.6 0 0 2 -2.2 0.3 -1 0.7 -1 3.2 -2 0.1 -4 2 -2-0.5 -4.9 1.2 -0.6 3 1.5 0.6 2-0.8 1 1.6 6-1.4 3-1.3 1.6-3.7 1.4-1.3 3 1.3 5-1.6 1-2.4 -0.9-1 0-2 7.5 0 0 2 0.4 0.6 2 0 1 2.4 1 1.2 4-1.3 3.1-2.9 0-2 34.7 0 0.1 3 2.1 2.8 1 0.6 0.3-0.4 -0.9-2 0.7-2 0-2 97 0 0 2 0.9 1 2-0.2 0.7-0.8 0-2 16.2 0 0.1 2.1 0.1-2.1 46.9 0 0 2 1 1 1 0.2 0.5-0.2 0.2-3 8.8 0 -0.5 3.6 2.4-1.6 0-2 6.9 0 -0.3 2.4 -1 0.1 -1-0.5 -2 2 -0.1 1 3.7 1 1.6 1 0.4 1 -0.5 2 0.3 1 1.6 0.9 1 0.2 4-1.3 6-3.9 1 0.2 1 0.9 -1.5 3 -1.6 1 -1.5 2 1.6 1.2 1-0.4 1-1.8 4-3 0.5-2 -0.9-2 0.5-3 -0.9-1 0-2 69.2 0 -0.1 3 0.7 1 1.6-1 -0.1-3 2 0 0 2 0.5 1 1 0.6 2.1-0.6 0.6-1 0-2 4 0 0.1 3 -0.4 2 0.6 0.3 1.2-0.3 0.2-5 10.2 0 -0.6 6 -1.5 3 0.1 2 1.5 2 0.5 3 4.4 2.9 0.5 1.1 -0.5 0.8 -1 0.4 -4 0.7 -2-0.3 -5 0.4 -2 2 -1.5 3 0.2 2 -1.5 2 0.4 3 2.4 1.7 1-0.6 0.6-1.1 1.4-1.1 1-1.9 1-0.7 3-0.8 1 1 1 0.1 5-5.6 0.8-2 2.4-2 1.6-2 2.5-1 1.7-1.6 1 0 1 0.9 2 0.4 1.7 2.3 2.3 1.2 3 0.8 4 0 2 0.6 3-0.5 1 0.2 0.6 0.7 0.4 2.2 1 0.5 3-3.2 5 2.1 3 2.7 4.6-1.3 1.4-1.2 0.1 4.2 -0.9 2 1.8 1.5 2-0.2 3 0.9 1.3 1.8 3.9 1 1.6 3 1.2 0.8 5-1.7 5-0.3 1.2-0.8 -0.2-2.4 2 0.9 3-1 1-1.7 1-0.6 1 0.3 1.5 1.5 -0.1 3 3.6 0.6 1.4 2.4 1.5 5 -1.1 5 1.2 2.3 2-0.1 4-1.3 5-5.2 1-0.7 2-0.1 1.5-0.9 0.6-1 -0.6-2 0.9-1 1.6-0.5 3.1-2.5 3.9-2 1 0.2 0.8 0.8 0.6 3 1.9 5 2.7 3 2 3.2 2-0.4 1.4-1.8 2.6-2 2 0 0 54 -2 0 -0.6 1 0.6 2.5 2 0 0 22.3 -5 0.5 -1.1-1.3 -0.6-2 -1.3-0.7 -1 0.1 -4 2.9 -3-0.6 -1 0.6 -3.4 5.7 0.9 1 -0.1 2 0.6 0.7 6 1.9 2-0.1 3-1.6 4 1.1 2-1.1 2 0 0 22.3 -4-0.2 -2.7-1 -1.3-2.4 -2 0.5 -2 2.3 -5 2.8 -1 0 -0.5-0.2 -0.5-1.2 -1.6-0.8 -0.4-3 -1-0.9 -1-0.1 -2 0.4 -2 1.7 -3 0.9 -1 1.4 -2 0 -1 0.9 -1 0.1 -1-1 -2-0.6 -4-0.3 -1 0.4 -0.1 1.1 1.1 1.8 1 0.1 1.2 1.1 0.2 1 -0.4 0.7 -2 1.9 -3-0.5 -1.2 0.9 -2.1 0 -1.7 1.3 -3 0.1 -1 0.9 -2 0.8 -4 4.7 -3.9 1.2 -0.4 1 0.7 2 -0.3 2 0.5 4 -2.6 1.1 -4-0.8 -3 0.3 -2-0.9 -2-2.2 -1-0.3 -3 0.3 -2-0.6 -3 1.6 -3-0.6 -3 0.8 -2 2.3 -1 0.2 -2.7-2.2 -0.5-3 -0.8-1.2 -3 0.5 -2-0.5 -0.5 1.2 0 5 1 4 -0.8 1 -2.7 1.6 -2 0 -2-0.9 -2-1.8 -2-0.5 -0.9 0.6 0.2 3 -2.3 1.6 -3 1.1 1.2 3.3 -0.1 1 -1.1 1 -5 0.4 -2 1.4 -2-1 -3.2 2.2 2.2 0.5 2 1.4 2.4 3.1 0.7 2 2.4 2 2.5 1.1 2 1.9 1.1 5 -1.1 5 -0.9 1 -2.1 0.9 -3-0.8 -3 1 -2-1.7 -1-0.3 -0.3 0.9 -1.8 1 -3 1 -4.9 4.6 -1 0.2 -3-1.8 -2 1.3 -1 1.3 -1 0 -1-1 -4 2.1 -3.3 0.3 -0.7 0.6 -1.4 3.4 0.2 2 -0.4 1 -1.4 1 -1 0 -3-1.9 -3.2-0.1 -5.8-3.2 -4-0.5 -1-0.7 -3-0.8 -1 0 -5 2.7 -1 0.9 -2 3.7 -1 0.5 -5-1.4 -3-2 -1 0.2 -1.4 1.6 1 7 -0.6 0.5 -2-0.8 -1 0.2 -1 1.4 -3.1 2.7 -0.4 1 0.9 2 2 2 -0.3 1 -1.7 2 -0.1 4 -1.3 0.4 -4-0.4 -2 2.9 -4-0.8 -4 2.2 -2-0.2 -0.8 0.9 -0.1 3 -2.4 1 -1.7 2.8 -0.6 0.2 -2.4-1 0.3-1 0.7-0.7 3-0.8 0.8-1.5 0.1-2 -3.9-2.8 -1 0 -3.4 0.8 -2.3 4 -1.3 0.6 -3-1.3 -0.9-1.3 -1.9-1 -1.2-0.2 -4 1.8 -2 2 -3 0.1 -5 4 -2 1.2 -2 0.5 -2 1.7 -2-0.2 -3 1.5 -2.5-0.4 -1.2-2 -1.3-0.8 -1 0 -4 1.5 -2 1.8 -2 0.1 -2.3-0.6 -1.6-1 -1.1-1.9 -3 0.4 -2-1.1 -4 0.5 -4 3.8 -2-0.2 -2 0.4 -3.2-0.9 0.2-3.1 -2 0.2 -5-1.8 -0.6-1.3 5.2-3 -0.5-1 0.4-1 1.5-2.1 1.8-0.9 0.9-1 0.6-2 -0.4-2 0.6-3 -1.5-2.5 -1.8 1.5 -2.2 1 -3-1 -6 4 -5 1.1 -4-0.4 -3 0.7 -3-0.5 -0.8-2.9 -3.2-1.7 -5-0.6 -2-1.1 -1 0 -6 1.7 -0.8 0.7 -0.2 1 -2-0.2 -2 0.6 -3-0.2 -2-2 -1-0.1 -1.2 0.9 -0.7 2 -0.1 2.5 1.1 2.5 -1.1 3.8 -5.4 6.2 0.4 0.8 1.2-0.8 0.8-1.5 3-0.6 1.1 0.1 0.8 2 -0.9 1.3 -4 2 -2 1.7 -3 0.4 -1 0.6 -0.7 2 0.7 3.1 -3 0.2 -1 1.5 -1 0.4 -2-0.8 -3-0.2 -7.4 1.8 -2.5 3 -2.1 1.2 -1.4 3.8 -3.1 2 -0.9 1 -0.6 1.9 -3 1.4 -2 0 -0.7-0.3 -0.9-2 -1.4-0.2 -1.6 2.2 -1.4 0.7 -1 1.2 -2 0.9 -2 3.2 -1 0.6 -1.6-0.6 -1.4-2 -2 2.3 -3-0.9 2-4.3 0.1-3.1 0.7-2 -0.4-1 -2.1-2 0-1 -1.1-2 2.2-3 1.1-7 -3.8-5 -1.3-4 0.2-2 -0.6-0.9 -1-0.6 -2-0.2 -7 3.2 -2 2.6 -7-0.9 -0.8 0.8 -0.2 1.7 -1-1.2 -2 0.2 -4-0.8 -5 1.1 -4 2.6 -3-0.5 -2 0.5 -3-0.8 -2.4-1.8 -1-3 -0.6-0.3 -2.2 0.3 0.9 1 -0.7 0.3 -1 0.1 -1-0.5 -1 0.3 -0.9 0.8 -0.1 1 2.4 2 0.7 2 0.9 0.4 3-1.1 2.6-0.3 0.4 2.3 3.5 1.7 0.8 2 0.7 0.4 2-0.2 1.5 1.8 -2.3 2 -1.2 3.3 -2 0.8 -1.1 1.9 -2.1 2 -0.5 1 0.5 1 -2.2 1 -0.6 0.7 -2 0.1 -2 1.8 -1 0.2 -6-0.9 -5 1.4 -1 0.8 -3 0.5 -3 1.9 -1-1.1 -1-3.5 -0.9-0.9 -1.1-0.3 -1.6-1.7 0-3 -0.4-1 -1-0.6 -2-0.2 -2 1.6 -2 0.7 -1 2.2 -1 0.3 -0.9-1 -0.5-3 -1.6-1.3 -1.2 0.3 -0.7 2 -1.1 0.6 -2 0.1 -2 1.1 -2-0.2 -5.6-2.6 -1.4-1.5 -0.5 1.5 -1.5 0.3 -1.6-2.3 -0.4-1.5 -1-0.6 -0.2 2.1 -0.9 3 6.1 3.2 1.5 2.8 2.5 2.2 3-0.3 6.4 4.1 -3.4-0.2 -2.1 1.2 -0.1 1 2.3 3 -0.6 1 -1.5 1 -7 2.2 -2 2.8 -2 0.2 -2-0.7 -4-0.2 -1.3-1.3 0.3-1.5 2 0.8 0.9-0.3 1.6-2 2.5-0.9 2.2-2.1 -0.2-0.8 -5-0.2 -1-1.9 -0.3 1.9 -2.7 2 0 1 -1 1.7 -2-2.2 -1-0.3 -0.9 0.8 -0.1 4.1 -2 0.7 -1-0.2 -2 1.5 -5.8 1.9 -0.9 2 -0.2 2 -3 1 -0.1 1 -1-0.7 -3-0.5 -1-2 -2 0.6 -2-0.3 -3-1.3 -2 0 -1-1.6 -2 1.1 -2-0.1 -3 2.7 -1-0.4 -1-1.3 -1 0.3 -1-0.3 0.1-1.2 -1.1-0.3 -1 0 -2.6 1.3 -1.4 1.2 -2-0.1 -1.2-1.1 0-1 1.7-2 -0.1-1 -1.4-0.9 -2-0.5 -3 1.5 -3-0.4 -4 0.3 -1-0.3 -3-2.4 -3.5-0.3 1.4-2 -0.9-0.7 -0.9 0.7 0.2 1 -2.3 2 -1 0.5 -3-0.2 -2 1.4 -1.5-1.7 -0.5-1.5 -2-0.7 -1.4-1.8 -2.6-1.7 -1-0.1 -1 1.6 -1 0.2 1-2.2 1-0.2 0.2-0.6 6.8-5 -1.6-2 -0.2-2 -1.5-1 -2.5-5 0.6-2 -1.8-0.3 -1 0.5 -5-2.3 -2-0.4 -1.3 1.5 -2.7 1.7 -0.6 2.3 -1.4 1.4 -4 0 0-5.3 3-0.2 0.7-0.9 0.5-2 -1.2-0.7 -3 0 0-251 2 0 1 0.6 3-0.7 4 1.3 0.5 0.5 0.4 2 1.1 0.9 5-1.2 0.8-0.7 1-2 -0.1-2 1.3-1.5 1.5 0.5 0.5 1 -0.1 1 1.1 1.1 2-0.1 1-0.9 3 0.3 3-0.7 3 0 5 1.5 0.4-1.2 -0.4-2 4-0.7 1.2-1.3 0.2-2 1.7-1 -0.5-3 0.4-2.5 -1-0.6 -0.3-0.9 0.3-0.7 1-0.1 0.4-1.2 -1.4-0.9 -1.2-3.1 0.2-1.2 -2-0.6 -2-1.3 -4 2.4 -1 0.2 -3-0.3 -1 0.5 -1 2.4 -2 0.3 -1.2-0.4 -0.8-2.2 4-2 2 0.7 0-1.5 -2-1.6 -2-0.3 -1.2-2.1 -1.9-1 -1.9-2 -4.5-3 -0.9-2zM834.5 148.9l-0.7 0.6 0.7 1 1.6 0 -0.2-1zM848.5 189.2l-0.4 1.3 1.7 0 -0.2-1zM854.5 440.4l-0.7 2.1 -1.6 2 0.3 1.6 2.9-0.6 0.1-2.2 1-0.3 1 0.4 0.4-0.9 -0.8-1zM889.5 444.4l-0.5 0.1 -0.9 2 0.4 0.8 6.4-0.8 0.2-1 -0.6-0.5zM908.5 437.3l-1.5 1.2 1.5 2 2-2 -1-1.3zM927.5 153.5l1 2.8 2 0.1 0.9-0.9 -0.9-1.2zM936.5 165l-0.7 0.5 0.1 1 2.3 1 1.3 3.1 1-3.4 -2-2.2zM946.5 415l-0.7 0.5 0.3 2 3.4 3.7 1 0.4 0.3-1.1 -1.1-1 -0.4-2 -1.8-2.3zM950.5 407.4l-1.9 1.1 -0.7 1 2.6 1.5 1.5-1.5 0.4-1 -0.3-1zM953.5 294.9l-0.6 0.6 1.5 2 1.1 0.4 1.1-0.4 -2.1-2.5zM961.5 296.5l-2 2.5 -2 0.1 0.2 1.4 1.8 0.1 2.5-1.1 2.2-2 -0.3-1zM964.5 158.3l-1.4 1.2 0.3 1 1.1 0.5 1-0.7 0.8-1.8zM969.5 155.3l-0.7 1.2 1.7 1 1.1-1 -0.9-1zM1033.5 347.6l-1.4 1.9 0.4 0.7 1 0.1 1.3-0.8 0.2-1zM1039.5 188.5l-0.5 1 0.5 0.3 1-0.2 0.9-1.1 -0.9-0.4zM1042.5 404.1l-1.8 1.4 0.5 1 1.3 0.8 1.2-0.8 0.8-2 -1-0.6zM1053.5 164.4l-0.4 1.1 0.4 0.7 1 0.3 1-0.4 -0.1-1.6 -0.9-0.5zM1064.5 186.1l-0.7 0.4 -0.3 1 1.9 0 0.3-1zM1074.5 158.3l-0.9 1.2 0.5 1 1 0 1.6-1 -1.2-1.3zM1079.5 171.9l-0.5 0.6 0.3 1 1.2 0 0.2-1zM1081.5 150l-1.6 2.5 -0.1 1 0.7 1 1.8-1 -0.1-3zM1088.5 171.5l-4 0.6 -0.8 0.4 -0.1 1 1.9 1.9 1 2 3.2 0.1 0.8 1.3 1.4 0.7 0.7-1 -1.4-2 0.8-4 -0.4-1zM1089.5 162l-0.9 0.5 0 1 0.6 1 1.3 0.1 0-2.1zM1107.5 164.2l-1 0.5 -1 2 1 0.3 1-0.7 0.3-0.8zM1111.5 160.3l-1 1.4 1 0.4 2-0.6 -0.2-1zM1130.5 183.1l-0.4 0.4 0.4 1 2-0.1 0.6-0.9 -0.6-0.6zM1142.5 166.7l-0.5 1.8 0.5 1 1.1-1zM1145.5 160.9l-0.4 0.6 0.4 0.9 1 0.1 0.5-1zM1147.5 172.5l0 1 1 0.5 1-0.5 -1-1.2zM1184.5 155.7l-0.9 0.8 1.9 1.2 1.2-0.2 -0.2-1.2zM1187.5 150.5l-0.8 1 0.1 1 0.4 1 1.3 0.4 1-1 0.3-1.4zM1199.5 355.3l1 1 1-0.1 0.6-0.7 -0.6-0.6zM1258.5 358.3l-1 0.8 0 0.8 2 1.7 1 0 0-1.5zM1277.5 154.1l-0.5 0.4 -0.1 1 0.6 1.2 1 0.4 1.1-1.6 -1.1-1.4zM1294.5 157.1l-0.9 0.4 0.9 1.8 1 0.7 0.6-0.5 0-1 -0.6-1zM1326.5 329.1l-0.3 0.4 0.3 0.5 1.3 0.5 0.3-1 -0.6-0.8zM1371.5 233.4l-2 1.6 -1 1.9 1.8-0.4 1.6-1 0.2-1zM1374.5 226.9l-0.5 0.6 0.1 1 3.2 1 -1.6 2 0.8 1 1 0.1 0.7-1.1 -0.6-1 0.9-1 1 0 -0.2-1 -0.8-1.2 -1-0.3 -1 1.2 -0.6-0.7zM1388.5 251.3l-1.3 1.2 1.3 0.4 0.9-0.4zM1394.5 295l-0.6 0.5 -0.3 1 1.9 0.4 1.3-0.4 -1.3-1.5zM1397.5 254.4l-0.9 2.1 0.9 1.4 1.3 0.6 -1.3 0.4 -0.6 1.6 0.6 1.7 1 0.7 1.2-0.4 0.7-2 1.1-0.3 1.2-2.7 -1-1 -1.2 0 -2-2.2zM1426.5 242.2l-1.6 1.3 0.6 0.8 1 0.1 1.4-1.9zM1431.5 240.3l-0.8 0.2 -0.4 1 0.2 2 1 0.7 2 0.2 0.6-0.9 -0.6-1.8zM1433.5 200.2l-1.3 1.3 -0.1 1 0.4 0.4 2-1.1 1-1.3 -1-0.8zM1437.5 203.9l-1 3.9 1.9-0.3 0.3-1zM1446.5 213.4l-0.9 1.1 0.9 1.4 1-0.3 0.6-1.1 -0.5-1zM1439.5 286l-1.4 1.5 0.4 0.8 1 0.3 1-0.2 0.5-0.9 -0.5-1.2zM830.5 178.4l0 1.1 1 1 1 0.3 0.6-0.3 0.3-1 -0.9-1.2 -1-0.5zM838.5 443.1l-0.8 0.4 0.1 1 1.7 0.5 0.5-1.5 -0.5-0.8zM927.5 405.9l-0.6 0.6 0 1 0.6 1 3.8 0 0-1 -1.8-1.7zM937.5 171.4l-1.2 2.1 0.2 0.5 1 0.4 1.4-0.9 -0.4-2.5zM971.5 168.8l-1.8 1.7 0.8 1.9 1.9-0.9 0.6-1 0-1zM1070.5 171.4l-0.3 1.1 2.3 1.1 1 0 1.8-1.1zM1077.5 409.9l-1.7 3.6 1.7 0.2 2-1.7 1 0 1 0.7 1.1-0.2 -0.6-1 -3.5-1.7zM1105.5 170.4l-0.8 1.1 0.5 1 1.3 0.5 1-0.5zM1110.5 165.9l-1.9 1.6 0.5 1 2.5 1 0.2 1 2.7 0.8 0.7-0.8 -1.2-1 -0.9-2 -1.6-1.5zM1398.5 288.4l-1.3 2.1 0.1 1 2.2 0.8 1.6-1.8 -0.2-1zM1427.5 263.3l-1.6 4.2 -0.3 2 -2.3 3 4.4 2 0.7 2 -0.4 2 0.5 0.7 1.9-0.7 0.1-1 -1.5-1 2.4-1 0-1 -0.9-0.6 -1.6-3.4 0.9-2 -0.2-4zM1112.5 173.3l-1.7 1.2 -0.3 0.8 -1-0.5 -3 4.6 -2 0.1 1 3.9 3.5-0.9 1.1-3 1.1-1 -0.1-2 2.4-0.6 2.3-1.4 -0.1-1 -1.2-0.6zM863.7 135.5l13.8 0 -0.1 3 -1.5 3 -1.4 0.9 -3-2.9 -1 0.4 -5-0.4 -1.8-2zM1223.7 135.5l3.7 0 0 2 -1.9 1.5 -1-0.1 -0.8-1.4zM1350.9 135.5l2.9 0 0.3 3 -0.9 1 -1.7 0.5 -2.3-0.5 1.3-0.3 0.3-0.7zM1374.8 135.5l1.1 0 0 2 -0.4 0.4 -0.7-0.4zM1418.1 135.5l1.7 0 -0.3 2.5 -1 0.1 -0.4-0.6zM1432.8 135.5l3.8 0 0 3 -3.1 4 -1 0.3 -0.6-0.3 -0.1-1 1-4zM1356.1 140.5l0.4-0.5 0.4 0.5 0.6 3.1 -1-0.1zM1383.4 144.5l0.5 1 -0.1 1 -2.3 0.6 0-1zM905.7 155.5l0.8-0.6 1 0.2 0.7 1.4 -0.3 1 -2.4 0.3 -0.7-0.3 0.1-1zM897.3 159.5l1.2-0.7 3 0.7 -0.2 2 -0.8 0.6 -2-0.6zM833.4 160.5l1.1-0.7 1.2 0.7 1.3 2 -0.2 3 -3.3 4.5 -4 2 -2 0 -2 1.3 -4.1-4.8 -2.9-1.6 -0.8-1.4 0.2-2 0.6-0.6 2-0.4 1 0.4 1 1.9 2 0 2 0.9 2 0.3 4.6-2.5zM1402.2 166.5l1.3-0.6 0.7 0.6 0.1 1 -1.8 1.3 -1-0.2 -0.1-1.1zM1423.7 296.5l0.8-1 1 0.2 3 2.1 0.8-1.3 1.2-0.6 1.5 0.6 1.5 2 -1.7 1 -0.3 1 0.5 1 -0.5 1.6 -1 0.1 -1-1.8 -1 0.6 -3-2.1 -1.6-0.4 -0.5-1zM1455.1 298.5l1.4-1 2 0 0 5.2 -2 0 -3-1.1 -0.8-2.1 1.8-0.4zM1445.5 310.5l1-0.8 4.7 4.8 -0.7 3 0 2.9 -0.1-0.9 -1.9-1.2 -2 0.4 -1.3-2.2 -0.7-3zM1434.5 320.5l2-0.5 2.6 1.5 -3.6 0.6 -1 0.9 -1-0.1zM1443.4 320.5l1.7 1 -0.6 1.2 -2-0.6 -0.2-0.6zM1455.9 320.5l2.6-0.2 0 2.2 -2 0 -1-0.7zM1358.4 321.5l2.1-0.7 1.7 2.7 -0.7 2 -3-2.3 -1 0.2 -0.3-0.9zM1391.3 322.5l2.2 0 4 1.4 0.9 0.6 1.1 2 -0.3 1 1 2 -0.7 1.7 -2-2 -0.6 0.3 -0.1 1 3.7 1.7 1.1 2.3 -1.1 2 0 2 0.9 1 -2.9 2.9 -5.3-1.9 -1.1-4 0.3-2 -1.6-2 -0.3-2.9 -2 0.4 -2-0.9 -3 1.7 -1-0.9 2-3.4 2 0.4 2.5-0.4 1.5-3.3zM1359.2 329.5l0.3-0.4 1-0.1 0 1.6 -1 0.3zM1431.3 329.5l1.3 0 0.2 1 -0.7 1 -1.6 0.5 -1-0.5 0.3-1zM1413.3 337.5l0.2-0.3 1 1 0 0.7 -2 0.5 -0.4-0.9zM1397.1 345.5l1.4-0.6 3.2 0.6 -0.2 1 -2-0.6 -2 0.6zM1417.4 356.5l1.3 0 1.3 1 -3.5 0.7 -0.5-0.7zM1361.4 363.5l1.1-0.7 1 0.1 2 1.9 0.5 1.7 -0.5 0.7 -2 0.4 -2 1.8 -1-0.2 -0.3-0.7 0.1-1 -0.5-2 0.3-1zM1403.1 363.5l3.4 1 2.3 2 0.3 2 -0.6 1 1.5 3 -1 3 -3.6 2 -0.4 2 -1.5 1.4 -1.1-0.4 -0.2-1 1.9-2 -0.2-1 -1.4-1.2 -1-0.3 -4 1.8 -2-0.1 -0.1 2.8 -1.9 1.8 -1 0.4 -2.6-1.2 -1.4-2.5 -4 0.2 -2.3-0.7 -1.8-1 -0.9-1.7 -2-1.1 2-0.2 1-1.8 1 0 2 1.8 1-0.1 0.1-2.9 1.3-1 2.6-1.2 1 0 3 1.7 1-0.2 1.4-1.3 -0.8-2 0.4-1.4 4-1.1 3 0.6zM1389.5 374.1l-0.5 1.4 0.3 2 1.2 0.5 1-0.3 0.3-1.2 -1.3-0.4zM1427.1 366.5l0.4-0.5 1-0.1 1.6 0.6 -2.6 1.4zM1322.4 369.5l3.1-0.9 3 0.6 8-0.2 4 3.1 1 0.5 2 0.1 2.4 1.8 1.5 2 0.5 3 2.6 1.2 1 0.2 1.9-1.4 1.1-2.4 0.8 0.4 0 1 -1.5 3 -1.8 1 -0.8 1 0.9 2 0.2 3 -4.8 3.3 -1.4-1.3 -2.2-5 -1.4-0.4 -1 0.3 -1-0.5 -2-3.1 -3-0.3 -4-1.8 -1.3-1.2 -0.9-2 -3.8-2.3 -6-1.4 -2 0.2 0-0.9 2 0.2 2-1.1zM1380 369.5l2.7 0 -2.2 1.7 -0.8-0.7zM1252.1 388.5l0.4-0.6 1 0 0.7 0.6 -1.7 1.2zM1256.2 388.5l1.3-0.8 2.1 0.8 0.7 1 -0.8 7.5 -1 0 -0.9-1.5 -2-1 -0.6-1 -0.1-1 1.9-1 0.2-1 -0.8-1zM1393.5 388.5l1-1 1.3 1 1.4 3 -0.7 0.8 -1-0.1 -0.6-0.7zM1097.5 402.5l1-0.4 0.7 0.4 1.3 4.4 1.3 1.6 -1.3 0.1 -2-1.2 -1.2-1.9zM1137.3 403.5l1.2-0.7 2.2 0.7 -2.2 3.2 -1 0.2 -0.4-0.4 -0.4-2zM1015.3 415.5l1.4 0 -1.2 1.3 -1 0.3 -0.4-0.6zM1126.7 416.5l1.7 0 -0.9 1.9 -1 0.4 -1.1-1.3zM1016.1 418.5l0.4-0.7 1-0.1 0.4 0.8 0.3 1 -0.7 1.7zM991.6 419.5l0.9-0.6 1 0.1 0.3 0.5 -1.3 1.3 -1-0.3zM1102.7 428.5l1.8-0.5 1 0.1 0.2 0.4 -1.2 1.3 -1-0.3zM813 436.5l0.5-0.2 1 0.9 1 3.9 1 0.3 1-0.6 0.7 0.7 0.3 2 -1 2.8 -1 0.7 -2 0.3 -2 2.1 -2-1 -1 0 -3 1.8 -3-1.1 -2 0.9 -2 0 0-12 3-0.1 2 1 1-0.1 1.1-0.3 1.9-1.9 2 0.6zM981.2 436.5l2.3-0.8 1 0.8 0.2 3 -0.6 1 -1.6-0.1 -1.1-0.9 -0.5-1zM988.9 441.5l0.9 0 0.7 1 -0.1 1 -0.9 0.6 -2-0.3 -0.1-1.3zM953.1 449.5l1.4-0.5 2.5 1.5 0.5 1.1 1 0.7 1 0.2 -0.4 2 0.4 0.5 1.1-0.5 -0.8 3 -3.1-1 -0.9-2 -2.9-3 -0.3-1zM904 456.5l0.5-0.5 1-0.2 0.6 1.7 -0.1 1 -0.5 0.4 -1.2-0.4 -0.7-1zM864.1 465.5l0.4-0.6 1-0.3 0.6 0.9 -0.6 1.3 -1 0.1 -0.6-0.4zM906.4 467.5l1.7 1 0.4 1 -1 1 -1-0.1 -0.8-0.9 0-1zM852.1 468.5l1.4-0.6 1.3 0.6 -0.2 1 -1.1 0.8 -1-0.8z"/>
<path fill="#d46a6c" fill-rule="evenodd" d="M897.1 135.5l1.1 0 0 2 -0.7 0.3 -0.4-0.3zM1051 135.5l4.9 0 0.3 3 -1.2 2 3.5 1.9 -0.7 1.1 -1.3 0.8 -1-0.1 -2-2 -2 1.1 -2.1 0.2 0.6-2 -0.1-2 1.1-2zM1093.2 135.5l3.5 0 0 2 -2.2 1.3 -1 0 -0.5-0.3zM1108.2 135.5l4.6 0 0 2 0.7 1.4 3-1.2 3 0.5 0.5 2.3 1 1 0.5 2.1 1 0.7 3-0.1 2-0.7 0.8-1 0.4-2 3.2-2 0.6-1 0-2 7.1 0 0.3 3 1.6 2 2 4 1-0.4 1 0.4 1.5 2 -0.1 1 -3.2 4 -2.2 1.6 -4-2.2 -3-0.2 0.3-1.2 -0.5-3 -0.8-0.4 -0.9 1.4 0.2 2 -1.7 3 -0.6 3 -1-0.9 -2-0.2 -2 1.5 -2 0.7 -0.6 0.9 0.2 1 -0.6 1.2 -3-2.9 -3.9-1.3 0.3-2 -0.4-1.6 -6-4.7 -2-0.9 -2-2.9 -0.3-0.9 2.5-3zM1178.3 135.5l2.7 0 0.1 4 -0.6 1.7 -2.1-0.7zM1236.8 135.5l9.6 0 0 2 1.1 1.2 0.4-3.2 27.6 0 0 2.1 -2 1.5 -2 0.4 -2.1 2 -0.1 1 1.1 3 -4.3 8 2.8 4 0.1 1 -0.6 1 0.4 1 1.7 1.5 1.7 3.5 1.3 0.9 4-0.6 5 2 2-0.5 2-1.4 2 0.4 5-2.3 0.9 2.5 4.1-0.3 2 1.3 2-1.1 1-1.2 0.9 0.3 -0.7 1 -0.2 2.7 -1 1.1 -1-1.1 -1 0.3 0.2 1 1.8 0.1 1 0.7 1 2.5 0.1 1.7 0.9 0.8 3 0.2 1 1.4 2.7 6.6 2.3 3 1-0.3 3-2.7 -0.4-4 0.4-0.8 1-0.5 3 0.2 1 2.4 1 0.4 2-0.4 2-1.4 1-0.1 3 1.6 1-0.1 0.8-1.3 -0.7-1 0.3-1 2.3-3 -0.3-2 -2.4 0.1 -0.7-1.1 0.2-3 1.5-0.8 2 0 1.2-1.2 1.8-0.1 1 0.5 1.6 3.6 3.6 3 3.8 1.5 2-1.1 4 2.5 0.3 1.1 -1.4 2 0 1 2.1 2.2 1 0.3 3-0.8 0.7 0.3 2.7 3 1.9 3 -0.3 0.5 -1 0.3 -3-0.8 -1 0.4 -1.5 4.6 0.1 1 4.4 2.1 2 2.7 1.6 1.2 0.9 2 0 1 -2 3 0.5 3 1-0.2 1 0.4 0.3 1.8 -1.9 1 0 3 0.9 4 -0.3 2 1.4 2 -0.3 6 -1.1 0.3 -2.2 4.7 -1.8 2 -0.1 1 0.8 2 -0.1 1 -1.7 1 -0.5 1 0.6 0.4 3-0.5 1-3.3 2-0.7 1 0.1 1.2 1 1 1 0.8 2.5 1 0 0.9-1.5 0.1-2 1.4-1 0.5-2 1.1 0.5 1-0.3 2-2 2-0.2 2-1.8 0.9 0.8 0 1 -1.9 2.5 -0.2 1.5 0.5 2 1.9 1 0.1 1 -2.1 6 -1.6-3 -0.6-0.7 -1-0.2 -3 0.4 -1.4 2.5 0.4 1.1 -3-0.6 -1-0.5 -1.1-2 0.7-2 -1.6-0.5 -1.1 0.5 -0.4 3 3.5 6.1 3 0.1 2 5.3 4 1.2 2-0.3 3-3.4 1-0.4 2 0 3 0.7 2.1 3.7 1.1 3 1.5 2 0.7 3 5.6 4 2.9 4 1.1-0.2 3-3.3 3-0.7 2.8 1.2 1.9 3 0 1 -1.3 2 -0.3 2 1.2 3 0.3 3 1.6 2 -1.2 0.8 -2-0.6 -2 0 -3-1.5 -7 0.1 -0.8-0.8 -0.1-3 -1.1-1.6 -1-0.5 -2 0.7 -3-2.9 -1.7 1.3 -0.3 2 -1 1.5 -3.1-2.5 2-1 -0.5-1 -1.4-0.9 -1 0.2 -1 1.6 -1.8 1.1 3.6 3 -0.3 1 -2.5 0.7 -2 1.9 -3 0.7 -2 2.3 -2 1.1 -2-1.4 -3 0.1 -2 1.3 -4 1.1 -0.8 1.2 0.5 2 -0.7 0.9 -7 2.3 -2-0.6 -1 0.2 -2.8 1.2 -1.2 1 -0.3 1 -1.7 1.1 -2-0.7 -1 0.1 -4 1.2 -2 1.6 -1 0.1 -2-1.6 -1 0.1 -1 2.4 -1.9 1.7 0.9 1.8 3.2 0.2 -4.2 0.5 -2-0.3 -3 1.6 -2 0.2 -2 1 -1 1.2 -0.7 2.8 1.3 4 -0.6 1.4 -4 0.6 1.2 2 0.3 1 -0.5 0.9 -1.5-0.9 -0.5-1.5 -1.8 1.5 0.3 2 1.6 3 3.1 1 -2.2 2.8 -3-0.8 -1.6 1 -0.1 1 3.7 3.2 1 0.4 7-0.1 2 1.6 1.2 2.9 3.8 2.6 3.2 1.4 1.1 2 -0.5 2 0.4 3 -0.5 1 -0.7 0.4 -2.5-1.4 -1.5-2.2 -10-0.3 -3 2.6 -1 0 -2-1 -1 0 -1 1.2 -2-0.2 -4 2.7 -1.1 1.2 -1.9 0.6 -2-0.9 -3-3.4 -6-0.3 -0.7 1 0.4 2 2.3 4 -2 1.5 -3 0.8 -2 1.7 -1 0 -0.8 1 -6.2 1.4 -0.8-0.4 -1.7-3 -1.3-1 -6.2-1.6 -2-1.2 -1.8-2.2 -3.5-1 -1.3-2 -2.3-2 0.2-4 -0.3-1.1 -1.8 1.1 0.7 3 -0.9 0.9 -2-1 -1 0.6 -1.8 3.5 -0.3 3 -3.2 1 -1.7 2 -2 0.2 -2-0.8 -1 2.6 0.8 2 -0.8 0.3 -1-0.8 -4-0.9 -0.3 1.4 -2.4 3 -1 2 -0.6 3 2.3 2.7 2 0.6 2-2.2 6 1.4 2-0.6 1 0.2 1.1 2.9 -0.2 1 -2.9 2.8 -2.2 1.2 -1.8 1.6 -2 0.2 -1-0.5 -4 1.4 -4 2.8 -0.3 1.5 1.3 2.4 2 0 0.4 1.6 -0.4 0.3 -4-0.6 -2-2.7 -1-0.2 -0.4 0.2 -0.3 2 -1.3 1.3 -4 1.8 -2-1.1 -2.3 1 -0.4 4 -1.3 1 -2-0.7 -2-1.9 -2-0.2 -1 0 -2 1.2 -2 0.1 -2 1.2 -2-0.2 -1-1 -1 0.1 -1 2.4 -2.1 1 -0.9 2 -1 0.9 -2 0.4 -3-1.1 -3-2.1 -1-1.2 -4-1.7 -5 0 -8-3.2 -2 0.1 -3 2.9 -1 0.2 -1-1.5 -1.3-0.7 -0.2-2 -0.6-1 0-2 -3-3 -2.9-4.3 -2-0.4 -1-0.9 -0.5-2.4 -2.5-3.8 -1.5 0.8 -0.3 4 -1.1 1 -0.1 2.5 -1 0.7 -1 0 -1-0.7 -4-1.2 -3 0.4 -2-0.9 -6 1 -1-0.8 -0.1-2 -0.9-0.4 -1.4 0.4 -0.4 1 0.3 2 -0.6 1 -1.9 1 -3 0.5 -5.2-0.5 -1.8-2.4 -7 0.8 -3 1 -2-0.7 -3 1.7 -7-1.2 -2.4 0.8 -3 3 -0.3 4 -1.3 1.9 -1-0.2 -0.7-0.7 0-3 -4.3-0.1 -2-1.1 -3 0.2 -1.2 1 0.7 1 0 1 -0.5 0.6 -1 0.3 -4-2.3 -2.7 2.4 -0.2 1 0.5 1 -1.6 0.5 -1-0.6 -0.4-0.9 0.2-2 -0.8-0.8 -1 0.1 -2 1.3 -0.5-1.6 -1.5-0.2 -3 1.8 -2 0.2 -1-0.4 -2 0.6 -2-0.4 -3 1.7 -6.6 0.7 -0.8 2 -2.6 1 -0.9-1 -0.1-1 0.1-1 1-1 0.2-1 -0.3-0.5 -1.3 0.5 -0.1 2 -4.6 4.4 -7-2.6 -1 0.1 -1 1.1 -2.7 1 -1.1 2 -1.2 0.9 -2-0.2 -1 1.5 -1 0.4 -3-2 -4 1.9 -4-0.2 -2-2.2 -3-0.7 -2 0.3 -2.5 1.3 -0.5 1.2 -1 0 -0.5-1.2 -1.6-1 0.1-1.3 1.2-0.7 -2.2-2.1 -2.7 2.1 -2.3 1 -3 0.7 -4-0.7 -2 0.2 -4-5.3 -1-1 -1-0.1 -1.1 0.2 -0.9 2.7 -2.1 1.3 2.3 2 -0.8 2 0.2 1 1.4 1.6 1 0.4 0 2 -2 0.9 -1.5-0.9 -1.8-3 0.5-3 -1.4-3 -4.8-2 -3 0.1 -0.8-1.1 -0.5-3 0.3-3.3 2.1-0.7 0.4-1 -1.5-3.2 -1-0.3 -3 2.2 -2 0.2 -3 3.7 -1-0.4 -1-1.2 -1.2 0 -1.5 1 -1.3 2 -2-0.3 -0.8-0.7 0.1-1 1.2-1 0.3-1 -1.3-2 -1.5-0.3 -1.3 1.3 -0.1 2 0.6 2 -2.2 2.1 -3.2 1.9 0.3 3 -1.7 6 0.3 1 1.7 1 2 4 -0.2 2 1.8 4.6 4 0.7 0.4 0.7 -0.4 0.7 -5 2.3 -2-1.6 -3-0.3 -3 0.9 -4-1.8 -4-1 -0.8 0.8 0.1 2 1.6 2 0 1 -0.9 1.2 -4 2.8 -2.6 4 0.3 3 -0.4 1 -1.3 0.9 -6 0.1 -2 0.9 -5-0.6 -2 1.1 -5.2 8.6 -0.4 1 0.3 2 -2.7 2.7 -2 0.7 -1.3-0.4 -0.7-2 -2 1 -1-0.2 -1-2.7 -2.2-1.1 0.6-4 -1.9-4 -1.5-1.4 -3-1.1 -0.3-0.5 -0.4-1 1.5-2 0.2-2 1.3-1 -0.3-0.5 -1-0.3 -2 1 -1 0 -2-1.9 -1 0 -2-1.2 -5-1.1 -5 3.8 -4 1.7 -3 0.2 -2-0.6 -3 0 -2-3.7 -2-1 -2.4 0.6 -2.6-3.2 -1 1.3 -1.1-0.1 -2.1-4 -2.2-2 -0.1-1 1.7-2 -0.2-0.9 -4 1.7 -3-1.6 -1 0 -4 3.1 -1 0.1 -0.9-1.4 -1.1-0.3 -2 0.5 -4-0.3 0-106.4 4.2 0.5 -0.2-2 -0.9-1 -0.1-1.3 -1-0.7 -2 0 0-121.4 3-0.3 2 0.5 1-0.2 0.6-0.6 -0.2-1 0.6-1 9-2.7 1 0.1 4 2.1 1 0.2 1-0.5 1 0.6 0.8 1.2 1.2 0.3 2-0.9 4 0.1 1-0.5 0-1.2 1 0.5 6-0.7 3-1.8 1 0.4 2 3.1 -0.4 3.7 0.4 1.2 1 0.6 5 0.5 3 1.2 3-2.6 2-0.6 1 0.2 2 2 1 0.4 2.6-0.9 2.4-1.7 1-1.8 0.6-2.5 1.2-2 2.2-0.8 2 0.2 5 2.7 1 0 2-2.4 1 0.1 4 2.8 0.4 1.4 2.6 2.5 2-0.6 3-3 1-0.3 3 0.4 1-1 1-0.2 0.6 0.2 -0.1 2 0.5 1 4 2 1-0.5 1-1.7 3-1.2 1 0.2 1 1.5 2-0.5 0.3-0.8 -0.3-0.6 -2.3-0.4 -0.1-1 1.2-1 0.2-2 3-0.9 3 0.1 1-0.8 2-0.3 5-4.6 1.2-0.5 1.8-0.3 5 0.6 2-0.3 1.5-1 0.8-2 2.7-1.9 1 0.6 0.8 1.3 -1 1 1.2 1.7 1-0.1 1-0.9 3 0 0.5 0.3 0.3 1 -0.2 2 0.4 1.3 3-0.7 3 1.6 2 1.7 3 0.9 2 2 1 0 1.1-0.8 2.9-4.2 0.4-0.8 -0.3-2 0.3-1 1.6-1.6 6-1.1 2 0.7 1 0.9 3.2-0.9 -0.8-2 0.1-1 1.5-2.3 2-0.4 3 1.7 1-0.8 1.1-2.2 2.9-1.3 1.1-1.7 0.6-4 2.3-4 2.4-3 2.6-2.3 1-0.3 1 0.3 1 1.3 2-2.5 1-0.6 1 0.1 0.9-1 0.2-1 0.9-0.6 2-0.4 4-2.1 4-0.6 1.1 0.7 -1.5 3 0.1 1 4.3 6.3 1 0.6 3.5-1.9 -2.5-0.5 -0.5-0.5 -0.7-1 1.2-1.1 2.8 1.1 1.1 1 -0.4 1 0.5 1 1 0.4 2-0.9 3-0.3 2 0.6 2-0.2 3 2.1 3-0.9 2 0.7 1-0.3 1.8 0.8 -3.8 0.7 -2 1.9 -2 0.7 -3 2.7 0 3.1 -2 1.1 -1.5 1.8 0.3 2 1.4 2 -1.7 3 1.5 0.8 5 4.2 0.9 2 -0.9 1.8 -5 1.4 -3-0.7 -1-1.7 -1.5 0.2 0.3 2 -2.9 3 0.8 3 1.3 1.1 2-1.2 1 0.1 4 2.3 6-2.8 2-0.1 2 0.7 1-0.4 2.9-3.7 1.1-0.6 1.5 0.6 0.5 1 2 1.6 8-0.8 1 1.4 2 0.2 0.8 0.6 3.2 3.7 5-0.1 4-1.5 2.2-3.1 0.8-0.3 5 0.4 2.2-1.1 -1.2-0.4 -0.5-1.6 1.5-1.4 3 0.4 1 1.3 1 0.3 1.6-0.6 1.8-2 1.6-0.2 2 0.5 2.7-2.3 2.3-0.6 3 2.6 2 0.2 2 1.8 3-2.4 1-0.2 3 1.3 2-0.1 4 0.9 2 1.7 2-0.3 2 1 1 1.2 1-0.4 0.3-0.7 -2.9-4 0.6-5.2 3-1.2 2-0.1 4 4.6 1 0.3 2-1 1 0.8 1.2-0.2 -2.2-2.5 -2.3-0.5 -0.7-2 1-2.8 3-1.7 2.2-2.5 2.8-2 0.8-1 -0.4-2 1.6-1.4 3 0.4 2 1.1 3-1.1 2 0.4 2.7-0.4 -0.7-0.3 -1.6-2.7 -1.9-1 1.5-1.3 2-0.1 2-1.3 2 0.9 2 1.9 2 1 3-0.5 4-2.7 3 0.8 1-1.5 1-0.4 1 0.6 0.5 1.6 -1.5 1.4 -2-1.1 -1 0.6 -1.7 3.1 0.7 0.9 1 0.3 1-0.6 1 0.1 3 1.1 1.4-0.8 0.1-2 1.6-2 0.2-1 -0.6-1 0.3-1 2-1.4 1-0.2 3 2.8 2-0.2 2-1.6 2 1.2 1 2.3 1 0.4 3-1.2 3-2.9 1-0.4 2 0.8 3-0.1 2 1 2-1.9 1-0.2 -0.4-2.4 0.4-0.6 1-0.1 1.3 0.7 0 1 -1.9 2 0.6 0.1 2 3.9 1 0.5 1-0.5 0.8-3 -0.2-2 1.7-3 -0.5-1 0.2-1.4 1 0.4 1-0.7 0.5-1.3 0.5-0.2 1 0.9 4.8 1.3 -0.7 2 1.9 0.9 1-0.2 1.1-0.7 0.4-2 -1.8-4 -2.3-2 0.4-2 -2.8-1.2 -1.3-1.8 -1.3-3zM1266.5 182l-0.6 0.5 1.4 2 1.2-0.2 0.6-0.8 -0.6-1.2zM1269.5 202.3l-1.3 1.2 -0.3 1 0.6 1.1 3.2-3.1 -1.2-0.6zM1274.5 254.5l-0.8 2 1.8 2.2 1.6-1.2 -1-2zM1281.5 217.7l-1 1.3 -0.6 2.5 0.6 1.6 1 0.2 1.4-0.8 0.7-2 -0.1-0.5 -1.1-0.5 1-1zM1283.5 186.4l-1.2 2.1 -0.3 1 0.5 0.4 1.5-0.4 1.1-1 -0.6-2.3zM1289.5 210.2l-2 1.6 -1.5 3.7 0.5 0.4 4-0.6 2 0.7 1-0.3 -0.4-1.2 0.6-2 -0.2-1.1 -2-1.2zM1308.5 187.1l0 1.4 0.8 1 -0.4 1 -4.4 0.8 -1.1 1.2 -0.3 1 4.4 0.5 2 2.7 2.5 0.8 -1.1 2 1 3 -0.1 2 0.7 1 1.5 0 -0.7-2 0.3-2 -0.5-1 1.2-2 -1.3-2 0.3-2 -0.8-1 0.5-2 -1.5-2.2 -1.1-0.8 -0.2-1 -0.7-0.5zM1317.5 323.7l-0.6 0.8 0.6 0.5 1 0.1 2-0.6zM1344.5 249.1l-0.7 0.4 -0.1 1 0.8 0.9 1 0.2 1.2-1.1 -0.2-0.6 -0.2-0.4zM1349.5 231.2l0.8 2.3 -0.6 2 0.3 1 2.5 1 0.2-1 -0.9-3 -1.3-2.1zM1379.5 285.2l-0.9 1.3 0.9 1 -1.6 1 -0.1 1 0.7 0.3 2.3-4.3 -0.3-0.4zM1402.5 274.3l-2 1 -1.9 2.2 0.9 0.3 2-0.2 1.4-3.1zM823.5 423l-1.5 1.5 1.4 2 1.1 0 1.3-2 -0.3-1 -1-0.6zM825.5 304.8l-1.3 2.7 0 1 1 2 -0.4 3 0.2 2 -0.6 2 3.1 2.4 3.6-5.4 1.5-1 0.8-2 -1.9-1.4 -1 0 -2 1.4 -1-0.4 -0.7-0.6 -0.1-1 1.4-2 0.2-1 -0.8-1.7zM827.5 302.2l-0.4 0.3 0.4 1 2.1 0 -1.1-1.6zM829.5 293.4l-1.4 1.1 -0.3 1 1.7 2.3 1-0.1 0.4-1.2zM836.5 301.5l-1 0.1 -0.8 0.9 0.8 0.3 1.4-0.3 0.1-1zM842.5 299.4l-2.6 1.1 -0.9 1 0.8 2 -0.3 2 1 0.5 2 0 1.1-0.5 0.9-1.3 2-0.3 1.6-1.4 0.3-3 -0.9-0.5 -3 1.1zM856.5 293.1l-1.1 1.4 0.1 1 1 0.5 1.5-1.5 0-1zM860.5 300.3l-0.6 1.2 0.6 1.2 1.2-1.2 -0.1-1zM863.5 305.5l-3 3.6 -0.9 0.4 0.9 0.4 3-0.3 2-2.2 0.7 1.1 1.3 0.2 1.6-0.2 1.7-1 -0.3-0.4 -2 0 -3-1.9 -1-0.3zM955.5 288.3l-4 3.4 -6 0.1 -2 0.4 -2 3.4 1 0.6 3-0.2 1 0.4 0.4 2.1 0.6 0.8 2 0.8 1.1 1.4 0.9 0.3 4-0.4 5 1 2-0.7 3-3.2 4-0.3 0.4-0.7 -0.4-1 -1-1 -2-0.8 -1.7-1.2 -3.3 0.4 -1.5-0.4 0.4-1 -1.9-3.3 -2-1.2zM977.5 177.4l-1.3 1.1 0.3 2.2 1-0.4 0.5-1.8zM982.5 183.5l-1.8 3 0.8 1.5 4-2.5 0.1-1 -1.1-1.1zM992.5 175.3l-1.1 1.2 1.8 0 0.6-1 -0.3-0.3zM1005.5 383.4l-1 1.1 1.6 3 0.4 0.3 2-0.5 1 0.4 2 2 0.4-0.2 -0.2-2 -1.1-2 0.5-1 -0.4-1zM1014.5 385.5l-1 0.1 -0.5 0.9 0.2 1 1.3 0.9 1-0.1 0.8-0.8zM1028.5 199l-0.5 0.5 0.5 1.1 3 0.2 0.3-0.3 -0.3-1.1 -2 0.5zM1032.5 184.3l0 1.3 1 0.5 1.4-0.6 -0.2-1zM1035.5 341.2l-1 0.7 -3 4.4 -1.3 3.2 0 1 1.3 1 3 0.1 3.1-1.1 5.2-5 0.2-1 -0.5-1.3zM1142.5 372.5l-2.1 1 0.2 1 1.9 0.8 1.9-0.8 0-1 -0.8-1zM1151.5 189.5l1 0.9 1.8-0.9 -1.8-0.7zM1161.5 183l-1.6 1.5 -2.4 0.3 -2 2.3 0 1.1 3 1.6 1 0 1-0.6 1-1.6 1-0.1 2 0.6 1 1 2 0.7 0-2.5 -3-0.5 -1-2.6 -1-1zM1163.5 168.8l-0.5 1.7 0.5 0.4 1-0.4 0-1zM1173.5 363.4l-1.9 1.1 -0.1 1.1 4-0.3 0.7-0.8zM1179.5 386.5l-1.5 3 0.3 2 -1.1 1 0.2 1 2.1-1.6 1-0.2 1 0.1 1 1.2 1 0.2 -0.2-2.7 -1.9-2 -0.9-2.2zM1193.5 343.3l-2.8 3.2 -0.1 2 -0.9 1 -1.2 0.3 -0.5-0.3 0.1-2 -0.6-0.5 -3.9 4.5 2.9 1.5 0.4 1.5 3 3 0.6 7 2.9 1 0.9 1 0.4 2 0.8 1 5 2.6 4-1 5-5.6 2 1 1-0.7 2-0.2 -3-0.6 -1 0.4 -0.5-0.9 0.5-1.1 5-2.6 1.6-1.3 0.4-1.1 1-0.9 -1-2.7 -1-0.9 -1.2-0.4 -2.3-3 -2.3-1 -0.3-1 -0.9-0.9 -2 1.5 -1 0 -1-0.6 -1.4-2 -1.6-0.5 -2.9 0.5 -1.1 0.7 -2-0.5zM1222.5 369.5l-1.8 1 -0.3 1 0.7 3 -0.8 2 0.4 2 -2.2 1.7 -1.4 2.3 -0.2 1 0.6 1.3 1 0.2 2-0.8 1 0.3 1-2.8 2.6-2.2 0.2-3 -1.8-3 0-2zM1228.5 168.5l-1.2 1 0.2 1.3 1.3-1.3zM1267.5 209.1l-0.5 1.4 0.5 2.1 1 0.6 2 0.3 1-0.5 0.4-1.5 -0.4-1.2 -2-1.7zM1274.5 260.4l-1.4 1.1 -0.3 1 1.7-0.2 0.5-0.8zM1284.5 237.4l0.3 1.1 1.7 1.5 1.7 0.5 0-1 -1.1-1zM1290.5 219.3l-1.8 1.2 1.8 3.3 0.5-0.3 1.3-3 -0.8-1.3zM1307.5 254.2l-1.7 3.3 0.3 1 1.4 1.1 2.6 0.9 0.1 2 1.1 0 3.2-1.8 0.4-2.2 -0.4-0.6 -3-1.1 -2-1.9zM1312.5 209.4l-2.3 1.1 -0.9 1 0.2 1 3-1.4 1-0.1 0.3-0.5zM1315.5 237.4l-0.5 0.1 -0.3 1 0.8 1.3 0.5-1.3zM848.5 312.2l-0.6 0.3 1.6 1.2 0.5-0.2 0.2-1 -0.7-0.5zM868.5 441.1l-0.5 0.4 0.3 1 1.2 1.4 0-2.3zM964.5 382.4l-1.6 1.1 -0.4 1 2 1.6 1-0.1 0.6-1.5 -0.6-1.4zM968.5 379.7l-0.9 0.8 0 1 1.9 0.6 1.7-0.6 -0.7-1.8zM976.5 382.4l-0.4 1.1 0.4 0.3 1 0.2 0.8-0.5 -0.1-1 -0.7-0.5zM1159.5 369l-0.7 0.5 0.8 1 1.9 0.3 0.5-0.3 0-1zM1207.5 369.7l-1.3 2.8 0 1 2 1 0 1 -0.7 0.5 -2-0.6 -4.1 0.1 1.1 0.6 1 1.9 2 1.5 -4 5 2 1.7 1-1.2 5.5-2.5 -0.5-2 -2.4-1 1-2 0.4-0.7 1 0.3 2 1.8 0.4-0.4 -0.6-2 0.5-2 0.9-1 1.8-0.6 1.3-1.4 -0.3-1.3 -3 1.2 -2-1.4zM1228.5 376.9l-0.9 0.6 1.9 2.2 1.7-1.2 -1.7-1.6zM1309.5 239.3l-1.4 1.2 -0.2 1 0.6 1.1 1.8-2.1 -0.2-1zM1172.5 377.3l-2 2.2 0.1 1 0.9 1.3 2-1 2-0.3 0.3-1 -0.3-1.8 -1-0.7 -1-0.4zM1276.2 139.5l0.3-0.3 0.2 1.3 -1.2 1.5 -0.5-0.5zM1272.4 142.5l1.1 0.1 0.4 0.9 -0.4 0.4 -1.5-0.4zM932.8 146.5l0.7-0.7 1.7 0.7 -1 3 0.4 2 1.7 2 -0.8 3.3 -1.1-0.3 -0.2-3 -0.7-0.8 -2-0.3 -1.3-0.9 -0.2-1 2-2zM1231 148.5l1.1 0 1.5 1 -0.4 2 -0.7 0.2 -1.4-1.2 -0.4-1zM938.1 150.5l1.4-0.5 1 0.6 0.6 1.9 -0.6 1.6 -3.9-0.6 -0.1-1zM1163.3 150.5l1.2-0.8 1 0.2 1.2 1.6 -0.6 2 0.4 0.6 1-0.1 1 0.4 -0.4 1.1 -3.6-0.4 -0.7-0.6 -1-2zM1314.1 151.5l1.7 0 0.4 1 -0.7 1.9 -1 0 -0.8-0.9 -0.2-1zM1061.3 152.5l3.2-0.4 0.8 1.4 -3.8 2.2 -0.7 0.8 0.4 2 -1.7 0.4 -1-0.4 -0.5-1 0.3-2zM1304.1 156.5l0.4-0.4 2.1 1.4 0 3 -1.1 1.1 -1.1-1.1 0.5-2 -0.9-1zM1290.5 160.5l2 1 0.3 1 -0.3 0.4 -2.4-1.4zM920.1 162.5l1.4-0.6 0.6 2.6 -1.6 0.4 -1.1-1.4zM1077.9 162.5l1.6-0.4 0.6 2.4 -1.6 0.6 -1-0.4 -0.7-1.2zM1135 162.5l0.9 0 0.6 0.5 1-0.9 1.3 1.4 -2.9 2 -0.4 0.8 -1.5-1.8 0.5-1.8zM1362.7 162.5l2.8 0.3 1.6 1.7 -0.6 0.5 -2 0.1 -4 1.9 -1-0.5 0.6-2zM856.5 163.5l1-0.9 1 0.3 0.8 0.6 -0.1 1 -1.7 0.4zM1071.4 163.5l1.1-0.7 0.9 0.7 -0.8 1 -2.1 0.5 -1 0.8 -1-0.3 0.2-1zM923 165.5l0.5-0.4 0 1.6 -2 0.6 -1-0.2 -0.5-0.6zM856.5 166.5l1 0.3 1.7 1.7 1.5 3 2.8 2 -1 1.8 -1 0.5 -2-0.6 -2 1.4 -1.3-1.1 2.3-1.7 0.3-1.3 -2.3-3 -1.9-1 0.5-1zM877.4 168.5l1.1-0.6 1.4 0.6 -0.3 1 -1.1 0.3zM849.4 170.5l1.9 1 -1.5 1 -1.1 0 -0.4-1zM880.9 170.5l0.6-0.5 1 0.3 0.6 1.2 -0.6 1.3 -1 0.2 -1-0.5 -0.2-1zM1052.2 173.5l0.3-0.4 2-0.1 1 2.6 -1 0.7 -1-1.3 -1.2-0.5zM821.1 178.5l1.4-0.7 1.4 0.7 0.8 4 -1.2 0.2 -2-0.5 -0.5-1.7zM1397 180.5l0.5-0.3 0.5 0.3 0.7 1 -0.2 0.6 -1 0.3 -0.8-0.9zM1388.7 181.5l0.8-0.5 1 0 0.7 0.5 0.2 1 -0.8 1 -1.1 0.2 -2-0.5 -3 0.6 -0.5-0.3 0.5-1.5 3 0.1zM1433.3 181.5l2.2-0.5 2.4 2.5 -0.6 3 -0.8 0.7 -1-1.1 -2.4-0.6zM1051.4 182.5l3.1-0.4 0.3 1.4 -3.3 0.5 -0.4-0.5zM1410.3 184.5l0.5 0 0.5 3 -0.3 6 -1.5 1.1 -2 0.3 -0.4-0.4 1.7-2 -0.5-3 0.5-1 -0.5-2zM1455.9 185.5l2.6-0.4 0 7.9 -2 0 -1.2-1.5 -0.1-5zM1083.5 186.5l1 0 0.9 1 0.1 1.1 -1 0.3 -1.2-1.4zM1430.1 186.5l0.4-0.7 1 0 0.7 0.7 -0.7 1.5 -1.2-0.5zM1432.6 191.5l1 0 0.9 2 -1.3 0 -0.7-1zM1383 196.5l1.5-0.6 0.5 0.6 -0.8 2 -0.7 0.3 -0.9-1.3zM1377.8 198.5l0.7-0.8 1.2 0.8 0.2 1 -1.6 1 -1.1-1zM1456.3 199.5l2.2 0 0 3.4 -2 0 -0.8-0.4 -0.5-1 -2.3-1 0.6-0.8 1 0 1 0.6zM1388.7 204.5l0.8-0.6 2-0.3 1 1.9 0 1 -2 1 -1-0.1 -1.4-1.9zM1392.6 206.5l1.9-0.3 5.5 1.3 -2.5 2.6 -1-0.2 -1.4-1.4 -1.6-0.6zM1445 206.5l0.5-0.5 1-0.1 0.8 0.6 -0.8 1.6 -1-0.3zM1404.2 208.5l2.3-0.9 1 0 1.1 0.9 0.3 1 -0.3 3 -2 2 -0.3 1 1 2 0.1 2 -0.9 1.6 -2 0 -2-0.6 -2 1.4 -1-0.2 -1.4-1.2 -0.4-2 -3.2-1.9 -0.2-1.1 2.2-3.4 1-0.3 3 1.2 1.6-0.5zM1451.3 210.5l1.2-0.8 1 2.3 2-0.8 3 0.2 0 3.3 -2 0 -2-0.9 -1 0.6 -2-0.6 -1-1.7zM1386.8 211.5l0.7-0.6 1.3 0.6 -0.3 0.9 -1 0.1zM1428.9 217.5l6.6-0.2 3 2.9 3 0.3 0.8 1 -0.6 2 2.2 4 -1.2 2 0.8 0.9 2 0.2 1 0.6 0.5 1.3 -0.1 4 -2.8 4 0.1 1 1.6 2 -0.3 1 -1 0.2 -3-1.3 -1 1 -1-0.3 -2.9-2.6 -0.2-3 -1.9-1.6 -2 0.8 -4 0.3 -3 0.7 -2-0.8 -5-5 -1.4-0.4 0.4-0.5 4 0.2 0.6-0.7 -0.8-2 2.2-1 -2-1.3 -3 0.4 -2.1 2.9 -0.1 1 -0.8 0.3 -8 0 -1.1-1.3 0.1-1 -1.2-1 0.2-4.2 1-1.6 1-0.2 2 0.9 2 0 6-3.6 2 1.8 2 0.3 4-3.1zM1396.2 223.5l3.3-0.7 0.2 0.7 -1 2 -2.2 1.6 -0.8-0.6zM1456.2 224.5l0.3-0.8 2 0 0 1.7 -2 0zM1455.2 227.5l1.3-1 2 0 0 2.7 -2 0 -2-0.7 -1 1.5 -1 0.1 0-1.7 2 0.1zM1383.9 230.5l0.6-0.6 1 0.6 -1 1.6 -1-0.1 -0.3-0.5zM1412.3 237.5l0.2-0.7 1 0.5 0.8 1.2 0.4 2 1.8 0.3 2-0.9 1 0.1 -0.2 6.5 1.2 0.1 1.3 0.9 -0.7 2 0.3 1 1.1 1.2 1.8 0.8 1.4 3 -1 2 -0.9 4 -3.3 3.7 -2 1.4 -1-0.4 -4 1.4 -1.2-2.1 -0.8-3 0.7-5 -1.9-2 1.2-0.7 1.5-2.3 -0.7-2 0.3-2 -2.3-2 -0.5-3 0.6-5zM1419.5 255l-0.6 0.5 0.3 1 -0.9 2 0.2 0.3 2.3-0.3 -0.7-2 0.3-1zM1441.8 253.5l0.7-0.4 0.9 0.4 0.6 1 -0.3 1 -1.2 1.1 -2 0.2 -1.8-1.3 -0.2-1 1-0.9zM1439.8 279.5l0.7-0.7 1 0 0.7 0.7 -0.5 1 -1.2 0.3 -1.1-0.3zM1426.5 284.5l0.8 1 0 1 -0.8 0.2 -0.5-0.2 -0.2-1zM1428.1 286.5l1.4-0.2 0.7 1.2 -0.3 1 -1.4 0.6 -0.8-0.6 -0.1-1zM1374.3 299.5l4.2 1.7 6-1.7 2 3 -0.5 2 0.3 2 -2.8 2.7 -2 1 -1 1.4 -4 1.2 -3-0.1 -3.8-1.2 -2.3-4 0.8-3 0.9-1 3-1 -0.1-2 0.5-0.6zM1343.8 317.5l0.7-0.9 1 0.9 2-0.7 0.4 0.7 -0.3 1 3.4 6 -1.5 0.1 -2-1.2 -0.9-1.9 -1.1-1.1 -3 0.1zM1395.8 371.5l1.7-1 0.8 1 -0.8 1zM1342.3 375.5l1.2-0.3 1 0.6 0.2 0.7 -0.6 1 0.9 4 -0.5 0.5 -2.3-1.5 0.2-2 -0.6-2zM1242.9 390.5l0.6-0.5 1 0.3 0.1 1.2 -1.1 0.2zM933.2 398.5l0.3-0.8 1 0.6 0.5 1.2 -0.5 1.2 -1.5-0.2 -0.4-1zM1049.9 409.5l2.6-0.9 1.1 0.9 -1.5 2 -0.2 2 -1.4 2 -0.6 2 -0.4 0.4 -1-0.1 -0.9 0.7 -1.1 2.7 -2 1.6 -3 1.4 -1-0.1 -2-1.3 -4-1 -3 1.9 -1-0.2 -0.3-1 0.8-3 -0.3-1 -2.3-2 -1.9-3 1-0.7 2 0.9 3 0.5 3 2.4 3 0.2 1.8-1.3 -0.2-4 0.5-1 2.9-0.9 5 1.2zM1044.5 412.3l-1.5 1.2 0.5 0.6 1.3-0.6 0.1-1zM1066.5 412.5l1-0.6 0.9 1.6 -0.3 1 0.4 0.9 3.9 2.1 0.1 2.2 -5 1.6 -1.7-0.8 -0.6-2 0.7-2 -1.4-0.3 -0.6-0.7 0.7-2zM928.3 415.5l1.2-0.5 1 0.5 0.3 1 -1.3 1.6 -1.2-0.6zM810.8 423.5l2.1 0 0 1 -1.4 1.3 -1.4-1.3zM799.5 431.5l2-0.2 0.5 1.2 -2.5 0.4zM807.4 439.5l2.1-0.7 3 0 1 0.5 0.4 2.2 2.2 3 -3.6 2.9 -3-0.2 -2 1.6 -1 0.3 -3-1.2 -2 0.7 -2 0 0-8.3 2 0 3 1zM828 442.5l0.5-0.6 1 0.4 0 1.7 -1.2-0.5zM863.6 446.5l0.9-0.6 3 2.3 0.4 1.3 -0.4 0.6 -3-0.4 -0.9 4.8 -2.1 1.6 -2-0.3 -0.5-1.3 0.4-1 1.2-1 -0.2-2 0.5-1 0.6-0.4 2 0.6 0.8-0.2z"/>
<path fill="#ed7e58" fill-rule="evenodd" d="M1137.2 146.5l0.3-0.2 1 0.8 0 1.4 -1-0.1 -0.7-0.9zM1251.9 157.5l1.6 0.3 1.9 1.7 1.1 3.1 3 0.5 2.6 1.4 -3.5 2 -3.1 3.2 -2.6-2.2 -2.4-4.3 -0.6 3.3 -1.4 0.4 -1.1-0.4 0.2-3 -1.2-2 0-1 2.2-2zM1010.3 158.5l2.2 0.1 1 0.6 1.4 2.3 1.6 0.9 3 0 3 1.8 1 0 2-0.9 2 0.3 0.1 1.9 -0.7 2 1.2 3 -0.1 2 1.1 1 0.9 2 -0.5 1.6 -1 0.4 0.8 1 -1.8 2 0.9 2 0.7 5 -1 4 -4 3 0 1 0.9 1 -0.2 1 1 4 2.3 3 2.4 1.1 2 0 1-0.3 2-2.2 2-0.7 1 0.1 1 1.4 1 0.2 1-1.2 2 0.4 4 2.3 1-0.2 3 2.9 3.6-0.8 1.4-1.4 1 0.2 3-1.2 1.7-1.6 2.3-4.1 1-0.5 2 1 7 0.5 2 1.1 2-0.4 3 1 1.2-0.6 0.1-2 0.7-1.3 1 0 1 0.5 3-2.4 3-0.5 1.6 0.7 1.4 1.4 2.8 0.6 1.2 1.5 0.2-1.5 0.7-1 1.1-0.1 1.6 1.1 0.2 1 1.2 0.5 3-0.3 1 0.4 1 3.2 1 0.7 2-0.9 1-2.2 3 1.7 2-0.1 0.6-1 -0.2-1 -1.4-1.5 -3-0.6 -1.3-0.9 -0.1-1 1.4-1.7 3-0.4 4-2.2 2 0.7 2-0.8 2.5 0.4 0.6 1 -0.7 2 0.3 1 1.3 1.3 3 1.7 4-1.2 4 0.8 2 0 1 0.8 0.8-0.4 2.2-2.8 1 0.1 0.3 0.7 -0.5 2 1.2 1.4 5 2.5 2 1.7 2.4-1.6 1-3 -0.4-2 0.8-1 1.2-0.4 1 2 1 0.2 2-1.8 0-1.6 1-0.2 2 0.7 1.5-0.9 1-2 2.5-2 0.7-2 2.8-3 1-2 2.5-2.2 2-3.3 1.4-5.5 2.6-2.7 1 0 1.8 1.7 1.2 0.4 1.3 2.6 0.7 0.5 2 0.5 2-0.8 1-1.7 1-0.5 2 0.3 3-1.7 0.8 0.4 0.2 1 -1.5 3 2.8 3 1.7 0.6 1-0.4 0.7-1.2 0.1-1 -1-1 0.1-1 0.8-1 1.3-0.5 2 0.7 3-0.5 4 3.2 1 0.1 2-1 3.3 1 0.7 0.6 0.8 2.4 3 3 0.6 3 1.6 1.3 3 0.1 1.2 0.6 0.7 1 -0.7 2 0.6 1 1.4 1 1.5 3 2.3 1 0.4 1 0 2 -3.4 2 -2.4 3 0.5 1 1.9 1.3 1 0.1 2-1 3 0.3 3 1.6 2-0.8 3-0.4 1-1.1 1 0.1 2.8 1.9 1.2 3.5 3 2.5 3 3.7 1 0.1 1.7-0.8 1.3-1.9 3 0.1 4.2 1.8 0.7 1 -0.9 1.2 -1.5 0.8 -1.2 3 0 1 0.7 1.5 1.4 0.5 0.4 1 -0.3 3 2 2 0.1 1 -1.2 2 -0.5 3 0.8 1 0.7 4 0.6 1 2.1 1 -2.1 0.9 0.4 2.1 -1.4 2 -3 0.3 -2.4 1.7 -0.6 1 -1 4 1.5 2 -0.9 2 -1.6-0.3 -3-2.6 -1.3 1.9 -0.4 1 0.7 2 3 0.7 0.9 1.3 -0.1 3 0.8 1 5.4 0.2 2 0.8 2 0.1 1 0.2 1 1.9 1-0.1 0.8-1.1 -1.5-1 0-2 -1.3-1.7 0-1.1 2 1.1 2.7-2.3 2.3-0.7 2.6 3.7 0.4 2 1 1 6 0.6 2-1.9 1-0.2 2.8 1.5 0.2 2.2 2 0.3 2-1 3-0.3 1 1.2 5 2.1 1-0.1 4-3.8 2-0.4 4 4.2 2 0.5 1-0.8 1-2.1 -4.4-2 0.2-1 -1.8-2 -1.5-3 0.5-0.9 1-0.1 1 0.5 2-0.1 2 3.6 6-0.8 4 1.4 2 1.9 2.7 4.5 1.3 0.7 1-2.5 1-1.1 1.6 3.9 1.4 1.3 4.4-0.3 -0.1-2 0.7-0.5 2 0.2 3-0.6 1 3.8 2 2.7 1 0.4 -2 0.5 -2 2.4 -4-0.3 -2-1.5 -6 0.5 -4-4.6 -1 0.4 -0.7 1.6 -2.4 1 -0.8 1 0.4 3 -0.5 1.3 -1 0.4 -1.7-0.7 -0.4-3 -0.9-0.3 -1.5 1.3 -0.1 1 1.6 1.6 1.9 3.4 -0.3 1 -1.1 1 0.5 1.2 2 0.4 2-2.2 2 1.5 2-1.3 3 0 0.7 2.4 -0.7 1.5 -1 0.2 -3-1.2 -3 0.3 -1 0.3 -1 2 -1 0 -0.4-0.1 -0.2-2 -2.4-1 -0.3-1 0.6-1 -1.3-0.6 -0.7 0.6 0.4 2 -3.7 0.4 -1 1 -0.4 2.6 0.2 3 -0.8 1.3 -3 0.6 -5-0.6 -4 0 -3-2.3 -3.9 2 -0.7 2 -1.3 1 0.7 1 -2.1 2 -1 2 -0.2 1 0.9 1 0.6 2 2.5 2 0.2 1 -0.7 1.3 -1.4 0.7 0 2 -1.6 3.9 -1 1.2 -2-0.7 -2-2 -1-0.1 -3.1 2.7 2 6 1.2 2 0.9 0.6 2-0.2 2 0.5 2.4 1.1 1.8 2 6.1 3 2.7 0.9 1 2.8 4-0.9 1 1.6 3 0.5 1 0.8 2-0.2 1 0.4 1.6 2.1 2.4 2 -0.5 1 -1.1 1 -2.4 0 -3-1.9 -2-0.1 -1 0.5 -2 2.2 -2 1 -2-0.7 -4-2.6 -2.1 1.6 -1.9 0.6 -2-1.1 -2 0 -1-0.7 -0.5-1.8 1.2-2 0-1 -0.7-0.6 -1-0.1 -3 2.3 -3-1 -2-1.8 -0.8 2.2 -1.2 0.9 -1-0.2 -3.7-3.7 -1.3-0.7 -2 0.1 -3 2 -1 0.2 -1-0.4 -3-4 -1-0.4 -1.7 2.2 -1.3 0.8 -3 0 -1-0.8 -1-1.9 -2 0.6 -1-0.6 -1 0.1 -3 4 -1 0.3 -2-1 -2 0.8 -2 0 -1.1-0.3 -0.6-1 -0.3-2.2 2-2.1 5-0.9 0.8-0.8 -0.4-1 -1.4-0.9 -2 0.5 -5-1.8 -0.7 1.2 0.3 2 -0.6 1.5 -3 1 -1.3-0.5 -0.7-1.8 -2-2.7 -1-0.4 -2 0.4 -3-0.9 -3 1.6 -4.4-2.2 -2.6-2.3 -1.5-0.7 -1.5-1.7 -2 0.5 -1 1.5 -2-1.5 -2-0.5 -1-1.2 -1 0 -2 0.2 -1 0.6 -1 1.1 -0.4 2 -2.6 2.1 -0.8 1.9 -1.2 0.1 -1.5-1.1 -1-5 -2.5-0.9 -0.6 0.9 0.2 3 -0.6 1.4 -4-0.5 -1.5 1.1 -0.5 1 -2-2.3 -3 1 -1 2.3 1.8 3 0.1 1 -0.9 1.4 -2.2 0.6 -1.8 1.4 -3-3.4 -2 1 -0.4 3 1.2 4 -1.8 2.6 -1.6 0.4 -0.4 2.3 -0.9 0.7 -1.1 0.1 -2-0.7 -2 0.5 -0.4 1.1 0.3 1 -0.9 1 -2.2-3 -0.9-2 -2.9-1.2 -2 1.5 -1-0.2 -3-2.1 -2.6 1 -0.4 2 -2 2.5 -2-0.7 -1.4 0.2 -1 1 0.1 1 1.3 2.2 1 0.5 2-1.5 0 1.6 -1 1.2 0.1 1 1.5 2 -0.6 0.3 -1-0.4 -3 1.1 -1-0.2 -1 0.4 -2 1.9 -1-0.2 -1.5-1.9 1.5-1.4 1.7-3.6 -0.7-1 -1 0 -1 1.6 -3 1.7 -1.4 1.7 1.1 4 -0.7 1.3 -2.9 1.7 -2.1 3.2 -6 4.2 -2.4 0.6 -1.6 3.6 -3.3 1.4 -1.1 2 -1.6 1.1 -4-2 -4-0.2 -7 2.8 -1 0.1 -3-1.2 -1 1.2 -1 0.4 -2-0.9 -3 0 -2-2.3 -1-0.1 -1 0.9 -5 1.3 -1-0.2 -2-2 -1-0.3 -2 0.9 -2 2 -2-1.3 -1.3-0.2 -3.7 1.2 -3 1.7 -0.8-0.9 0.3-3 -0.5-0.8 -3-1.5 -1 0 -2.3 0.3 0.9 2 -0.6 0.5 -1-1.3 -1.7 0.8 0.7 3 -2 1.9 -2 0.7 -1-0.4 -1.3-2.2 0.4-1 2.7-2 -0.8-0.3 -0.7-2.7 -1.3-0.1 -5 1.4 -4 2.9 -3 0.4 -0.9 0.4 -1 2 -3.1-1.3 -1 0.2 -1.9 1.1 -1.1 1.8 -1-1.3 -1-3.5 -3-0.3 -2-2.1 -5-1.9 -3-0.1 -4.4-2.6 -3.6-0.8 -6-0.1 -3-2.5 -3 0 -2 0.9 -6-0.1 -6 1.7 -2-1.5 -3-1.2 -0.3-1.4 -2.7-0.8 -3-2.2 -2-0.5 -1 0.5 -0.3 1 0.9 1 -1.6 0.4 -0.5-0.4 0.3-1 -0.8-1 -4 0.1 -1-0.5 -1-1.9 -1-0.6 -2 0 -2-0.6 -0.8 0.5 -0.2 2 -1.3 2 -0.4 3 -1.8 2 -1.5 3 -1.8 0 -1.9-1 -1.3-1 0-1.2 -0.8-0.8 -3.2-0.4 -5.1 1.4 -3.9 3.7 -1-0.3 -1 0.3 -3 3.1 -2-0.5 -2 0 -1-1.6 -4 2.5 -3 0.9 -4-1 -3 0.3 -2.4 1.6 1.7 6 -1.3 0.3 -2-0.6 -1 0.3 -0.8 4 0.2 1 2.3 2 0.5 1 -0.3 1 -1.2 1 0.1 1 2.5 2 -0.1 2 0.8 0.9 3-0.3 0.5 0.4 -0.3 1 -0.2 0.4 -1-0.1 -1-0.8 -1 0.8 -1.2 1.7 -2.8 1.8 -1 3.3 -2-1.1 -2 0.6 -2.2 2.4 -1.3 3 1.5 2.7 3-0.4 1 0.5 2-0.3 0.5 0.5 0 2 0.6 1 -0.2 1 1.1 0.8 1-0.1 2-3.7 1.4 0 1.1 1 0.1 3 -2.3 2 -2.2 4 0.3 3 -1.4 0.6 -4-0.3 -3-2 -1 0 -0.3 1.7 -0.7 0.2 -1-1.1 -1.4-3.1 -4.6-0.9 -1-1.4 -1-0.3 -3 2.3 -2-0.3 -1-1.6 -1-0.2 -2 1.6 -1-0.5 -3-3.7 -1-1.9 -1-0.6 -1-0.2 -2 0.9 -2 0.2 -1-0.2 -1-1.4 -2 0.7 -3-0.4 -1.2-1.1 -0.4-2 0.5-2 -1.9-1.7 -1 0 -2 1.6 -3 1.2 -2.6 2.9 -1.4 3.5 -1 0.4 -3-0.7 -0.9 0.8 0.6 2 -0.4 1 -1.3 0.2 -1.2-1.2 1.1-2 0.1-1 -0.7-1 -2.3-1.5 -2-0.3 -2.2-1.2 -0.4-1 -0.1-3 -3.2-3 -0.4-2 -0.7-0.9 -4 0 -6.3 1.9 -4.7 0.6 -2 1.2 -3 0.1 -2 0.7 -3 0 0-83.5 3.2-0.1 -3.2-0.1 0-4.5 5-0.5 1 1.4 1 0.4 0.5-0.7 -0.4-1 -1.4-1 0.4-2 -2.2-3 -0.9-0.6 -3-0.3 0-3.9 3-0.1 2-0.9 2 0.9 4 0 2-0.9 3.3 1.8 0.7 2.5 1 0.5 3-2.2 3-0.9 1 0.8 1.3 2.3 -0.1 2 -0.7 1 0.1 2 -2 1 0.3 3 3.1 1.1 2-0.8 3.7-3.3 -0.8-5 0.4-1 1.7-1.6 1 0.2 1.9 1.4 0.1 5 0.6 1 4.5 2 0.1 1 -1.4 3 0.2 1.4 2 2.5 3 1 1-0.1 8-13.6 -0.1-2.2 -1.9-4 -1-0.8 -1 0.1 -2-1.6 -2 1.2 -1 2.2 -1 0.5 -1 0.2 -2-1.3 -0.5-0.5 0.4-1 1.1-0.8 1-1.9 2-0.8 3 1.2 2-0.4 2 1.1 3-2.2 2 0.4 3-2.7 4-1 3-3.3 4-1 2.1-1.6 2.4-1 0.2-1 -0.3-1 -1.5-1 -2.9-4.1 -1-0.9 -1 0.4 -1 1.4 -1 0.1 -1.6-2.9 -1.7-2 0-1 2-3 3.3-1 2-2.7 3-0.4 2 0.3 1-0.6 0.9-1.6 -0.9-0.6 -5-0.4 -1-2.5 -2-1 -3.8-3.5 0.8-2 3.1-3 -0.1-1 -4-2.8 -3-0.4 -1-2 -1-0.9 -2 0.1 -1 1.2 -2.7 0.8 1.3 1 0.3 2 -0.5 1 -1.8 1 0 2 -2.6 2 -1 2.4 -1 0.2 -2-0.8 -2 1.3 -3 0.3 -5 1.6 -2.5 2 -2.5 0.9 -1 0 -1.4-1.9 -1.5-3 -0.9-5 -3.2-4 -1-0.4 -1.7 1.4 -1.3 3.5 -2 0 -3 2.1 -1 1.7 -2 0.7 -3-0.2 -1 1 -2-0.7 -2.8 1.9 0.6 1 1.2 0.3 1 3.2 2-0.8 3 0.6 3-0.6 2 2.4 3 0.3 1.3 0.6 0.1 3 3.5 4 0.4 1 -1.3 2.3 -4 0.2 -3.4 1.5 -2.6 2 -0.6 2 0.9 2 -1.6 2 -0.1 1 1.4 1 0 2 1 1.1 3 0.4 0.9 0.5 0.3 2 -1.2 1 -5-2.5 -2 0.9 -3-0.2 -1.1-2.2 1.7-2 0.3-1 -0.9-1.5 -1-0.2 -2 1.8 -1.1-0.1 -1.9-1.9 -2 0 0-104.2 2 0 3 1.4 0.9-0.3 0-2 1.1-2.1 4 0.4 0.4 0.7 -1.1 2 0 1 0.7 2.3 1 0.7 2-1 0.6-2 -0.9-3 0.3-1 1-0.4 1 0.1 4 3 1 0.2 5-0.7 8 1.4 3-0.4 2 0.6 1-3.5 1-0.1 2 0.3 5 2.4 1.4-0.9 1.1-2 1.5-0.6 6 1.3 2-1.3 1 0.7 3 0.5 2.6-1.6 1.4-2.3 2-1.2 6-0.3 3-1.9 0.6-1.3 3.4-1 3 0.9 3.5 0.1 3.5 1.4 1-0.3 2 1.9 6-0.2 2.5 1.2 -2.1 3 1.6 0.7 1 0.1 4-3.2 3-0.6 3 2.3 6 1.6 3-1.3 1.8-1.6 1.5-2 0.5-2 3.2-0.2 0.3-0.8 -0.4-2 3.1-1.7 2.1 0.7 3.1-4 0-1 0.8-2.3 1 0.2 0.6 1.1 1.6 1 -0.1 1 1.9 1.4 4 0.2 2-0.8 3 0.3 1-1.1 1-0.3 0.9 0.3 0.5 1 -1 2 0.1 1 0.5 0.3 2-0.5 3-1.7 1.7 1.9 1 4 1.3-0.2 1 0.4 0.6 1.8 1.1 1 2.3-0.2 2 0.5 1-0.5 2.5-2.8 -0.5-1.1 -3 0.2 -1-0.8 0-1.3 1-1.3 3.6 0.3 2.2 3 3.2 0.6 5-4.4 3-1.1 2-2.5 2.7-1.6 -1.8-3 0.1-2.2 1-0.4 2 1.3 2 0.2 2 1.7 0.6-0.6 -0.2-1 0.9-3 1.7-0.3 3-4.2 2-0.6 1-0.7 0-1.4 -2.4-1.8 1.4-1.2 2 0.1 0.6-0.9 -1.5-1 0-1 0.1-1 1.8-2 -1.4-2zM1019.5 203l-1 0.5 -1 2 1.6 2 0 2 -0.6 0.9 -1-0.1 -1-1.2 -1-0.1 -1.4 0.5 -1.6 1.7 -2-0.7 -1 0.2 -8-4.2 -1.4 1 -0.9 4 5.3 4.1 1-0.3 0.8-1.8 1.2-1.2 1-0.2 3 1.2 0.6 1.2 -0.6 1.6 0 2.5 0.4 0.9 0.6 0.2 2.2-2.2 2.8-0.6 2-1.9 1 0.3 2 1.8 4 1.4 0.5 1 -0.2 2 0.7 0.7 2 0 1-0.7 0.4-2 1-1 -0.2-1 -1.2-0.3 -2-2.2 -2-0.2 -1.4-1.3 0.1-2 1.8-4 -0.7-1 -3.8-2.1 -1-0.4 -1.5 0.5zM1034.5 338.9l-5 8.3 -2 0.6 -0.7 1.7 0.6 1 3.8 2 2.3 0 5.5-1 3.5-2.3 1.5-3.7 -0.3-2 -1.2-1.9 -2-0.4 -3-2.7zM1035.5 333.3l0 1.6 1 0.8 0.5-0.2 -0.5-2.2zM1055.5 228.2l-1 2.6 2-1.3 -0.4-1zM1074.5 209.3l-0.7 2.2 -1.6 1 -0.2 1 0.7 2 -1.2 2 0.1 1 -0.7 1 -2.4 1.3 -2-1.4 -1-0.1 -1 0.8 -1-0.2 -1 0.7 -2 0.4 -1 0.5 -0.4 2 -2 3 1.1 7 1 2 2.3 1.8 5-0.1 2 3 4 1.5 1-0.3 0.7-0.9 0.1-1 -1.8-1.9 -1.9-4.1 1.4-2 0.5-2.9 2 1.9 1-0.4 3-3.2 1.5-0.4 0.2-1 -1.1-2 0-1 2.1-3 0.2-1 -3.9-8.6 -2-1zM1091.5 319.2l-2 1.3 1 1.3 1.9-0.3 0.1-2.2zM1093.5 313.9l-0.7 0.6 0.7 2 2 1.2 1-0.6 0.5-1.6 -0.5-1.1 -1-0.7zM1101.5 314.3l-1 0.4 -1 1.8 1 0.6 2-1.6 -0.4-1zM1125.5 320.4l-0.9 1.1 0.7 1 0.2 1.3 2 1.2 1-0.2 0.7-1.3 -1.7-3.3 -1-0.2zM1131.5 336.9l-0.8 0.6 0.8 1.5 2.2-1.5zM1147.5 218.4l-1.3 3.1 1.3 1.6 1 0.3 1.5-0.9 1-2 -2.5-3zM1158.5 306.3l-0.8 1.2 0.8 0.5 1-0.4 0-0.8zM1166.5 214.9l-0.7 0.6 -0.2 5 1.8 2 2.1 1.1 1.6-1.1 -1.2-2 0.7-3 -2.1-2.2zM1170.5 204.3l-1.1 2.2 0.5 3 -0.5 2 3.1-0.5 3 1.3 3-1.3 2 0.5 1-1 0.4-2 -2.4-4 -1.4 0 -0.6 1 -0.3 2 -1.7 1 -2.4-2 -0.7-1 0.1-1zM1175.5 199.4l-0.1 2.1 1.1 1.9 1-0.7 0.6-1.2 -0.1-1 -1.5-1.2zM1184.5 228.4l-0.4 0.1 0.3 2 -0.5 2 -1.9 1 -0.3 1 0.8 2 -2 1.5 -2-0.3 -0.2 0.8 3.2 3.3 1 0.6 2-0.1 2-1 3-0.4 5-2.2 2 1.5 3 0.9 2 1.5 2-0.2 1.1-0.9 0.5-2 -0.7-1 -2.7-1 -1.2-2.6 -1-0.1 -1 1 -1.3-0.3 -1.6-5 -0.9-1 -2.2 0.2 -2 1.4 -1-1.9 -1-0.5 -3 0.2zM1189.5 216.1l-0.1 2.4 1.1 0.5 1.3-0.5 -0.5-2 -0.8-0.7zM1213.5 238l-0.5 1.5 0.5 1 2 0.3 0-0.7 -1 0.2 -0.5-0.8 0.2-1zM1215.5 197.4l-1 0.1 -0.7 1 0.7 1 2 1.1 1.1-1.1 0-1 -1.1-1.1zM1226.5 252.4l-0.3 1.1 0.3 1 2 0.4 0.2-1.4 -1.2-1.7zM1231.5 238.2l-2.3 1.3 -0.4 1 0.4 2 2.3 2 2.2 1 1.8 1.8 3.3 1.2 2.4 4 -0.2 3 2.3 2 0.8 2 1.4 0.3 1.5-0.3 0.5-0.6 3-0.4 0.4-3 1.4-2 -2.2-4 0.4-3.2 -5-0.7 -0.8 0.9 -0.9 0 -1-2 -1.3-1 -6-0.4 -2-3.8 -1-1.2zM1247.5 228.4l-1 0.3 -0.5 0.8 0.5 1.6 1.5-1.6zM1255.5 270l-1 0.6 -0.3 0.9 0.3 0.5 1 0.2 0.9-0.7zM1260.5 273.5l-1.4 2 -0.1 1 -1.1 1 0.6 1.1 2 0 0.6-1.1 0.4-3zM1262.5 264.6l-0.8 0.9 0.8 1.5 1-0.1 0.2-0.4zM1277.5 315.4l-1 0.5 -0.6 1.6 -0.1 4 0.7 0.4 4-0.4 1-0.5 0.8-1.5 1.3-1 -0.1-1.8 -4-1.7zM1281.5 309.5l-2 0.3 -0.9 0.7 -0.5 2 0.4 1 1 0.6 2-0.6 2.1-3 -1.1-0.9zM1283.5 274.3l-0.7 0.2 0.2 1 1.9 0 -0.1-1zM1291.5 311.1l-0.8 0.4 -0.1 1 0.9 0.4 1.3-0.4 0.2-1zM1296.5 311.4l-1.1 1.1 0.7 3 3.1 0 0.5-1 -2.1-3zM871.5 316.1l-1 0.6 -0.4 1.8 0.4 0.5 1 0.1 2.1-1.6 -0.6-1zM809.5 217.3l-1.1 1.2 0.1 1.1 2 1.4 3 0.3 0.6-0.8 -1.6-1 -1.1-2 -0.9-0.7zM816.5 236.5l-1.5 1 1.5 1.3 1.2-1.3 -0.2-0.6zM828.5 247.3l-0.5 0.2 -0.3 1 0.8 1 1.1-1 -0.3-1zM831.5 266.3l-0.4 0.2 0.1 1 2.3 0.6 1.7-0.6 0.5-1zM868.5 224.2l-0.4 0.3 0.7 1 0.4 3 1.2 1 -0.7 1 -1.2 0.3 -0.7 0.7 -0.6 2 3.3 1.9 2-0.9 1 1.3 1.9-0.3 0-1 -2.2-3 -2.6-2 1.6-2 -0.6-1zM875.5 200.2l0.3 2.3 0.7 0.8 1.9-0.8 -1.9-2.3zM881.5 250.4l-1.4 1.1 -1.6 2.6 -1 3.4 1 2.1 3 1.3 1 1 1 0.2 2-1.4 1.2-0.2 0.5-2 -1.4-2 1.7-1 2-0.3 3 2.3 1 3.6 4 0.8 0.9 0.6 -0.5 1 0.6 4.9 2-1.3 1 0.2 1.3 1.2 -0.1 1 0.8 0.9 1 0.1 1.6-1 0.6-3 0.8-0.2 1 0.5 3 0.2 1-0.5 0.3-2 -1.3-2 -1-0.5 -4 0 -1-0.5 -4-4 -1-3.5 -0.6 0.5 -1.4-0.1 -3-2.4 -3 0.5 -0.5-1 -1.5-1 -1.7 0 -1.3 0.8 -1-0.1 -2-1.5zM891.5 233.3l-0.6 0.2 -0.4 1 1 0.9 1 0.1 0.3-1 -0.3-1zM904.5 244.3l-0.9 0.2 -1 1 0.1 1 0.8 0.7 4-0.7 0.6-1 -1.6-1.3zM916.5 250.3l-0.6 0.2 -0.1 1 0.5 1 1.2 0.7 1-0.2 0.4-1.5 -0.4-1 -1-0.5zM921.5 253.8l-1 1.1 -0.4 1.6 0.4 0.7 1 0.2 1.4-0.9 0.1-1 -1.3-1zM929.5 244.4l-2 2.1 -0.2 2 -0.8 1.4 -1 0.8 -2-0.1 -0.6 0.9 0.1 1 1.5 0.8 2.1 0.2 3.3 5 2.6 2.2 1-0.7 0.3-1.5 -0.4-2 0.1-4 3.1-4 0.9-3 -1-1.1 -2 0.8 -2-1zM951.5 276.2l-0.3 0.3 0.3 1.2 1 0 1-1.2zM968.5 289.1l-0.4 0.4 0.4 0.5 1 0.1 1.2-0.6 -1.2-0.6zM1001.5 191.2l0.1 1.3 0.9 0.3 1.4-0.3 -0.1-1 -1.3-0.8zM1004.5 188.4l-0.4 1.1 1.4 1.2 0.5-1.2zM1125.5 339.2l-2.2 1.3 1.9 0 1.2-1zM1147.5 303.3l-0.6 2.2 0.6 0.6 0.7-0.6zM1175.5 251.3l-2 1.2 -0.6 1 0 2 0.6 1.3 4 1.1 2.9-1.4 0.4-1 -0.3-1 -1.2-1 -0.8-1.9 -2 0.3zM1183.5 303.3l0 1.4 1 0.3 0.7-0.5 -0.7-1.5zM1193.5 298.5l-3.1 1 -1.6 4 0.2 1 1.5 0.9 2-0.6 0.5 2.7 -0.3 1 -2.2 0.6 -2-0.9 -0.9 1.3 0.2 1 1.5 1 1.2 0.2 1.5 3.8 3.5 0.5 1 1 3-0.2 0.9 0.7 0.1 2.3 1 0.3 1-1.1 2-0.4 1.4-1.1 0.5-2 -0.4-4 1.5-2.2 2-1.2 1-0.1 0.7-2.5 -0.4-1 -2.3-2.1 -5-1.3 -4 1 -1.1-0.6 -1.9-2.5zM1187.5 222.6l-0.8 0.9 -0.2 1.1 2 0.2 4 2 1-1.2 -0.3-1.1 -0.7-0.4 -3 0.3zM1233.5 269.1l-0.4 0.4 0.4 1.1 1.1-0.1 0.8-1 -0.9-0.9zM1242.5 283.4l-1.9 1.1 0.9 1.4 1-0.1 1.4-1.3 0.2-1 -0.6-0.8zM1247.5 271.5l-1 0.4 -0.2 0.6 1.2 1.9 1 0.2 0.4-2.1zM1250.5 276.1l-0.8 0.4 0.8 1.6 1-1.2 1.1-0.4zM1258.5 270l-0.6 0.5 0.3 1 1.3 0.4 0.7-1.4zM809.5 261.4l-1 1.2 3 1.3 1 1.4 1-0.4 0-1.1 -0.9-1.3 -2.1-1.1zM841.5 235l-0.8 0.5 -0.2 1 2 0.2 0.9 0.8 -0.2 2 -2.7 2 -0.3 2 -0.7 0.6 -3-0.7 -1 1.1 -0.4 1 0.4 0.6 2 0 1.8 1.4 -0.8 1 -2.2 1 -0.7 1 0.2 1 0.8 0 1.9-1.3 6 0.6 2-0.6 4-0.1 1-0.6 0.6-1 -0.8-1 0.2-2 2 0 -0.7-3 -1.3-0.7 -0.6 0.7 0.8 2 -0.2 0.9 -2.9-0.9 -0.9-1 0-1 3.1-3 -1.5-1 -1.8-3.3 -4 1 -1-1.7zM873.5 243.2l-0.2 1.3 0.6 2 0.6 0.9 1.7 0.1 0.5-1 -0.6-2 -0.6-0.9zM891.5 235.7l-0.3 1.8 0.3 0.6 1 0.7 1-0.2 0.4-1.1 -0.4-0.7 -1-1.3zM925.5 275.4l-0.3 1.1 6.3 7.3 1.2 3.7 1.8 2.7 2.5 1.3 1.6 2 -1.6 2 0 1 1.5 1.2 2 0.3 2.9 1.5 0.8 2 2.3 2 6 0 4.4-1 1.8 1 0.7 3 1.1 0.8 1-0.1 1.5-2.7 1.5-1.1 2 1.3 2-1.4 3 0 0.5-0.8 -0.4-1 1.1-2 -0.2-1 -4-4.9 -3-2.5 -1.6-0.6 -1.2-2 -6.2-2.4 -10 3.5 -2-1.3 -2-0.1 -0.6-0.7 0.8-1 -0.6-3 1-2 -1.3-2 -0.1-2 -1-1 -8.2 1.3 -2-0.7 -2-2.1 -1-0.4zM852.5 267.2l-1 0.8 -0.7 1.5 0.7 1.8 1 0.1 1-0.9zM925.5 303l-1 0.7 -0.7 3.8 0.7 2.6 1-0.8 1 0.1 0.2 2.1 2.8 1.4 0.7-0.4 0.2-1 3.1-1.2 0.7-1.8 -1.5-2 -0.2-2.9 -2 1.5 -1 0 -1-1.1 -2-0.1zM926.5 298.3l-0.4 1.2 0.4 0.5 3 1.6 2.8-1.1 -0.8-2.2 -1-0.6 -1 0.4 -2-0.3zM936.5 333.5l-0.6 1 0.3 1 1.3 0.9 1 0 1.1-0.9 0-1 -1.1-1.3 -1-0.5zM946.5 315.2l0 1.6 1.5-0.3 -0.3-1zM961.5 319.8l-0.6 0.7 0.3 1 1.3 0.7 0.8-0.7 -0.2-1zM939.5 366.1l-0.6 0.4 -0.2 1 1.8 1 1-1 -0.1-1 -0.9-0.6zM947.5 325.3l-2.9 1.2 0 1 1.9 0 2 0.7 0.7-1.7zM1293.7 171.5l0.8-0.5 1.7 0.5 -0.7 1.9 -1 0.2 -0.9-1.1zM1031.9 172.5l0.6-0.6 1 0 1.3 1.6 -1.3 0.4 -1-0.3zM1339.2 179.5l0.9 0 1.1 1 -0.7 0.9 -1-0.1 -0.5-0.8zM930 181.5l1.5-0.4 1.1 0.4 0.3 1 -1.4 2.4 -2 0 -1-1.4 0.1-1zM1275.2 184.5l0.3-0.5 0.7 1.5 1.3 0.3 2-2.2 1 0.7 0.1 1.2 -1.1 1.2 -1 2.8 -0.4 3 1.4 1.2 2 0.1 2 2.8 2.5 1.9 -1.5 1 -2 3.1 -3 1.2 -1 0 -3 1.4 -1-3.1 -1-1.5 -3.7-2.1 1.1-3 -0.4-1.2 -2 0.3 -2.1-1.1 2.1-2.5 2.5-0.5 0.5-1 -1-0.7 -1 0.9 -1 0.2 -0.5-0.4 0.9-1 4.9-2 1.3-1zM1322.3 186.5l1.6 1 -0.6 2 -0.8 0.9 -2-0.8 -2 0.4 -0.7-0.5 0-1 2.7-1.7zM816.2 188.5l1.3-0.9 1.5 0.9 0.1 1 -0.6 0.7 -3 0.7 -2.4-0.4 0.4-1.5 2 0.3zM1293.2 189.5l2.3 0 1 0.6 1.2 1.4 -0.3 1 -0.9 0.7 -3.3 0.3 -1-2zM809.9 190.5l0.6-0.7 1.8 0.7 -0.8 1.1 -2 0.6 -0.2-0.7zM1107.7 190.5l0.8-0.9 1.4 0.9 0.3 1 -1 3 -1.8 0 1.6-1 -1-1zM817.5 191.5l1-0.5 1.8 1.5 0.5 1 -1.3 1.5 -1-0.2 -0.8-1.3 -0.4-1zM1130.2 191.5l0.3-0.9 1-0.1 1.1 1 0.1 1 -1.2 0.1zM1351.7 191.5l2 0 1.4 1 1.1 2 -0.1 2 1.1 2 -0.3 1 -0.4 0.2 -2-0.9 -3.5-6.3zM799.5 193.5l3-0.1 1.4 1.1 -0.4 0.7 -1-0.2 -1 0.5 -2 0zM824.7 193.5l1.8-0.3 1.2 0.3 -0.3 1 -1.8 2 0.3 2 -0.4 0.7 -2-0.4 -2 0.4 -2 1.8 -0.9-1.5 -0.2-3 2.1 1 3-0.3 1-0.7 -0.4-2zM1153.1 195.5l2.4 0 2 3 -0.5 1 -2.5 1.2 -1 0.2 -0.5-0.4 -0.2-3 -0.7-1zM1302.4 196.5l1.1-0.4 1.7 2.4 1.4 1 0.6 1 -0.3 1 -1.4 1.9 -3 2.3 -3 0.5 -1-0.3 -2.3-3.4 -0.1-3zM905 197.5l1.5-0.9 0.8 0.9 -1.8 1.2zM1288.6 197.5l0.9-0.9 1 0.2 1.8 1.7 -0.9 4 -0.9 1.4 -1 0.6 -1-0.6 -0.6-1.4 0.6-0.5 0.3-1.5zM1039.2 198.5l1.8 1 -0.5 3 -2-2 -0.4-1zM1253.4 198.5l2.1 1.5 2-1 0.8 1.5 -1.8 0.9 -2 1.8 -0.8-0.7 -0.6-2zM1339.2 202.5l1.3 0.1 0.8 0.9 1.5 2 -0.3 1 -1 0.1 -1.2-1.1zM1329.1 206.5l1.4-0.4 0.2 0.4 0.4 3 -0.6 1.4 -0.5-1.4 -1.5-1 -0.2-1zM1347.8 207.5l0.7-0.8 1 0 2.7 1.8 1.3 0.4 2-0.4 0.9 1 -0.9 1.9 -2 0.1 -2-0.8 -0.2 0.8 0.7 2 -0.1 1 -1.8 1 1.4 1.1 3.6 0.9 1.4 2.4 1 0.7 1 0.5 2 0 2.3 1.4 -1 5 0.5 2 -0.3 2 -0.5 0.9 -4-0.7 -1 0.3 -1-0.5 -1.3-2 -0.7-2.5 -5 0.2 -1.5 1.3 -0.5 2.3 -1 0.4 -2 0.3 -3-1.8 -1.4 2.8 0.9 6 0.3 1 1.2 0.7 2-0.2 0.8 0.5 -0.1 1 -2.7 3.9 -2 1.3 -2 0.3 -2 2.8 -3-0.4 -0.7-2.9 -3-3 -2.3-0.9 -6-4.4 -2-0.5 -2-1.9 -1.3-0.3 0.5-1 1.5-1 0.2-1 -2.9 0.1 -0.9 0.9 0.5 1 -0.6 0.6 -3.1-1.6 -1.9-0.4 -3-1.8 -0.5-0.8 -0.1-1 0.6-0.8 3-0.3 0.3-0.9 -0.7-4 0.4-0.8 3-0.5 3-1.2 6-0.9 1-0.6 0.4-2 3.6-2.2 3-0.1 0.9 0.3 0.4 1 1.7 1.4 5 0.6 1.1-2 -0.3-1 -1.5-1 0.7-1.4 2-0.5 1-1.4 2-0.7 3 0.6 2-2.2 1.4-0.4zM1341.5 213.3l-0.7 1.2 0.3 1 0.4 0.5 1-0.1 0.8-1.4 -0.8-1.1zM1065.4 222.5l0.1-0.3 1 0 1.2 1.3 -0.2 1.8zM1294.3 225.5l2.2-0.4 1.3 0.4 0.3 1 -0.3 3 -1.3 1.4 -1.1-0.4 -3.6-3 0.7-1.2zM1283.3 240.5l0.2 1.1 -3 1.2 -0.2-0.3 0.2-1.1zM1285 249.5l0.5-0.7 1 0.2 0.6 1.5 -0.6 0.5 -1-0.3zM1351 259.5l0.5-0.6 1-0.3 0.9 0.9 -1.9 0.8zM1292 260.5l0.5-0.9 0.9 0.9 0.5 1 -0.4 0.7zM1297.2 261.5l1.3 0.1 0.4 1.9 -2.4 0.7 -0.8-0.7 0-1zM1346.3 262.5l0.9 1 0.3 1 -0.3 2 -1.7 2 -1-0.2 -1.1-1.8 0.4-1 1.7-1zM1374.1 263.5l1.4 0 0 2 0.8 2 -0.6 1 0.2 2 -0.4 0.8 -1-0.4 -0.7 0.6 -0.3 1.5 -1 0.1 -2 0.2 -1-1.4 -0.6 0.6 0.2 1 -0.6 1.4 -1 0.6 -1.5 0 -0.6-1 1.2-4 0.9-0.9 1 1.6 3-0.2 1-1.1 2 0 0.3-0.4 -0.1-1 -1.2-0.6 -3 0.9 -2.2-1.3 0.1-1 1.1-1.3 1-0.5 2 0.8zM1380.4 264.5l0.4 0 0.3 1 -1.6 1.6 -0.6-0.6zM1269.3 265.5l1.2 0.1 0.5 0.9 -1.5 0.7 -1.8-0.7zM1377.9 272.5l0.6-0.7 1 0.2 0.2 0.5 -0.8 1 0.6 2.3 -1-0.3zM1370.2 274.5l0.3-0.8 3-0.1 2.6 3.9 0.3 1 -2.9 2.9 -4 1 -1 0.8 -2-0.6 -1-1.4 -2-0.7 2.1-1 2.9-0.1 2.1-0.9 0.9-1 0-1zM1412.7 283.5l0.8-0.5 1 0.2 1.6 1.3 0 1 -2.6 1.5 -4.1-0.5 -1-1 1.1-1.6 2 0.5zM838.9 286.5l2.6-0.7 3 1.4 1 1.4 2-0.1 0.6 1 -0.1 3 1 2 -2.5 3.2 -2 0.4 -3-0.4 -5 2.1 -1-0.1 -1-2.7 -1.7-2.5 0.3-2 -0.8-2 3.1-3zM1360.2 293.5l0.3-0.2 1 0.9 0.2 1.3 -1.2 1.4 -2-0.1 -0.5-1.3zM1224.3 335.5l2.3 1 -1 1 0.4 2 -0.7 0 -0.5-2 -1.3-0.2 -0.5-0.8zM1221.9 338.5l0.6-1 1.3 1 -0.4 1 -0.9 0.2zM1227.1 341.5l0.4-0.7 1-0.1 1.5 0.8 -0.2 3 0.7 0.5 4-1.7 1.8 1.2 0 1 -0.8 0.9 -3 0.7 -6.7-1.6 -0.1-1zM1236.1 341.5l0.4-0.7 2 1.2 0.4 1.5 -0.4 1.2 -1.2-0.2zM1222.4 345.5l1.1-0.8 1 0.1 1 0.7 -0.8 2 -1.4 0 -1-1zM1274.3 346.5l0.2-0.4 2 1.2 0 1 -1-0.2zM1240.3 361.5l1.2-0.7 1 0.4 0 3.2 -1.1 0.1 -0.8-1zM1162.1 374.5l2.4 0 0.9 1 -0.2 1 -0.7 0.7 -2-0.7 -0.8-1zM1191.8 379.5l0.7-0.5 3 1.3 2.4 2.2 3 9 -1.4 1.5 -2 0.1 -0.2 2.4 -0.8 1.3 -2 0.5 -3 2.1 -1.3-0.9 -0.4-2 0.6-4 -3.2-3 0.2-3 -0.6-2 2.3-3zM990.3 384.5l6.2-0.6 2 2.4 1.5 3.2 -2.5 2.7 -1-0.3 -1-1.5 -1-0.3 -2.1 0.4 -0.9 1.6 -1 0.7 -0.8-1.3 2.1-2 -0.3-1 -1-0.6 -2-0.1 -3 1.4 -1-0.2 -0.7-1.5 2.7-2.5 2 0.4zM969.5 387.5l1.3 0 0.7 2 2 1.2 0.9 1.8 -0.7 5 -1.1 3 0.4 2 -0.4 1 -2.1 1.1 -3-2 -2.3-3.1 -1.7-1.1 -0.6-0.9 3.2-6zM1056.7 389.5l0.8-0.8 2 1.2 -0.3 2.6 -1.7 1.3 -2.8-0.3 0.3-1 1.6-1zM1166.3 391.5l1.2-0.9 4.4 3.9 -3.4 2.7 -1 1.3 -1.3 0 -0.7-0.6 -0.3-1.4 -0.2-1zM1007.4 393.5l0.1-0.3 1 0.3 1.2 2 -3.2 2.1 -1.4-1.1 -0.1-1zM1012.1 399.5l0.4-0.3 0.8 0.3 -0.8 1.8 -0.8-0.8zM989 401.5l0.5-0.8 1 0 1.3 0.8 0.2 1 -1.5 0.4 -1-0.3zM1029.1 415.5l0.4-0.4 2 0.1 1.7 1.3 -0.7 0.8 -2.3-0.8zM807.1 440.5l3.4 0 2.6 3 0 1 -1.6 1.1 -3 0.5 -2 1.1 -3-0.3 -4 0.4 0-5.6 2 0 2 0.9 1 0z"/>
<path fill="#fa9c3d" fill-rule="evenodd" d="M1020.2 167.5l1.3-1 0.7 1 -0.6 1 -1.1 0.4 -0.7-0.4zM1205.5 188.5l2-0.6 2 0.1 1.2 0.5 0.4 1 -0.6 1.1 -2-0.4 -2 1.4 -2-0.8 -1.6 2.7 1.5 3 -0.2 1 -0.7 0.6 -3 0.4 -2-0.7 -2-2.4 -1.4-0.9 -1.6-3 0.4-1 2.6-0.8 2 0.5 1 0.8 1-0.4 0.1-1.1 1.9-0.7 1 0.3 1 1.1zM1210 192.5l0.5-0.8 2.6 1.8 0.3 1 -0.8 1 -2.1 0.5 -1.9-1.5 -0.3-1zM933.5 193.5l2-0.3 1.4 1.3 2.6 0.9 6-1.7 2 0.4 1 1.4 -0.2 4 1.2 3.2 3 0.4 2 2.5 2 1 3 0.3 3-0.8 3 1.5 0.9 0.9 0.7 3 2.4 3.5 1 0.5 4-0.9 1 2.5 2 0.4 1.5 1 0.2 2 1.3 0.4 2-0.2 1.4 0.8 1.3 3 2.1 2 -0.3 2 1.5 1.5 1 0.2 1.5-0.7 1.5-1.7 1.3 0.7 -1.3 2.1 3 0.2 2 1.4 8-3.2 2 1.3 1 0.2 1-0.7 2 2.7 1 0.2 3.6-0.2 -1.3-1 0.7-0.7 3-0.4 3 0.4 3-0.4 1 1.1 -5.4 3 0.3 1 1.1 0.3 2-0.8 5-0.4 6-1.6 2-0.1 2-1.6 1.6 1.2 0.4 3.3 9 1.2 0.9 0.5 1.5 2 0.3 2 1.3 2.7 2 0.4 1.4 0.9 0.3 4 1.2 2 1.1 0.5 1-0.3 0.4-1.2 1.6-1 2.3 0 1-1 0.1-1 1.6-1.6 4-1.1 2-1.8 2.8-1.5 1.2-1.4 3-0.1 0.4-0.5 -0.9-2 -2.4-1 0-1 1.6-2 -0.1-2 1.4-1.3 3-0.5 2-2.2 1.7-3 0.3-2.7 1-1.2 2-0.1 3-2.2 3 0.6 1-0.1 3.4-2.3 2.6-4.2 2-1.2 3-0.5 1-1 3-1.5 3 0.7 3 2.3 2 0.9 2-0.3 5.7-5.2 1.4-3 3.9-1.4 3-0.1 1.3 1.5 3.1 2 1.4 2 -0.8 5 -3.1 4 -0.2 1 1 2 -0.4 2 0.4 1 2.4 2 -1 2 0.9 1.1 1-0.1 1-0.7 1 0.3 0.7 2.4 -1.4 4 -1.7 2 -1.6 4 -4 0.9 -0.4 3.1 -0.6 1 -3 0.2 -1.5 1.8 -2.5 1.1 -4 3.3 -1 0.1 -3 1.7 -3.3 0.8 1.7 7 1.2 2 0 1 1.4 1 1 3.3 3 1 1.1 1.7 1.9 1.3 2 0 2 2.9 2 0.2 0.7-0.4 0.3-2.3 -1.6-0.7 -0.4-1.9 -1.1-0.1 -0.4-1 0.5-0.4 0.6 0.4 0.4 0.9 0.3-0.9 4-4 0.2-3 0.5-0.8 1-1.1 2-0.9 0.6-3.2 -1.6-2 0.3-1 1.7-2 1-0.4 3 0.5 2-0.4 0.9 1.3 0.1 2 0.6 1 1.4 1.5 2 1.1 1.7 2.4 1.9 1 3.4 0.2 1.6 0.8 -0.2 1 -1 1 -5.4 1.9 0 1.2 -1 0.3 -2-1 -5.1 0.6 -0.3 1 0.7 2 -0.5 2 0.4 2 1.8 1 6 1.1 0.4-1.1 -0.5-1 0.1-1.2 0.8-0.8 3.2-0.8 2-1.9 1.2 0.7 1.8 4.1 1 0.1 2-0.6 2-1.6 3 0.1 1.2 0.9 0.1 2 1.7 0.8 2.1-1.8 0.4-1 -0.8-2 0.2-2 0.4-2 1.7-4.1 2-2.2 2-0.4 3 0.3 1-0.4 3.7-4.2 0.9-2 1.4-1.6 1.3 1.6 2.7 1.2 1 1.4 2-1 1 0.3 4 2.9 1.8-1.8 1.2 0 5 3 2-0.5 2-1.1 5.8 1.6 -0.4 1 0.6 0.8 1 0.3 1 1.5 1 3.4 1.6 3 -0.7 2 0.9 3 2.6 0 2 3 0 1 -2.4 1 -0.7 1 0.1 2 -0.4 1 -1-1 0.4-1 -0.6-1 -0.8-0.6 -2 0.2 -2-1 -2 1.3 -3-1.8 -1.3-2.1 -3.7 0 -3.7 2 -0.3 3 -1 1.1 -2-0.9 -0.4 0.8 0.2 3 -0.8 1.2 -2.7 0.8 -2.3 2.2 -5 1 -3 2.3 -2-0.5 -2-2.2 -2-1 -2 0.1 -1-0.4 -1 0.5 -0.2 1 1.2 1 -1 0.4 -3-0.3 -4 1.2 -6 0.8 -4-1.2 -3-2.3 -2 1 -1-0.1 -1.9-0.5 -2.1-1.4 -3.6-0.6 -1.6-1 0.1-1 -0.9-1.1 -1 0.5 -2-0.4 -1 0.5 -0.8 1.5 0.6 3 -0.5 1 -2.3 3.2 -2.8 1.8 -0.2 1.1 -1-0.6 -3 0 -4-2.1 -3.6 1.6 -1.4 2 -1 0.5 -1-0.2 -2-1.1 -2 0.1 -0.9-1.3 -2.4-2 -0.7-2.4 -2 0.7 -0.3 0.7 0.6 2 -0.6 1 -3.7 2.2 -5 0.2 -0.6-1.4 0.7-1 -0.3-1 -1.8-1.2 -3 1.9 -1-0.1 -5 1.7 -2 1.7 -1-0.3 -2-2.7 -2-1.2 -3-1 -4 2 -1-0.1 -1-1.1 -2-0.2 0.3 1.6 -0.6 3 2.3-0.4 0.8 1.4 -0.7 4 0.3 2 -0.4 2.3 2 0.3 1 0.9 3 4.5 3 0.3 0.6 0.7 -0.2 2 -1.5 2 1.2 3 2.9 1.3 5-1 2 1.3 2 0.1 2-0.5 1.4 1.8 0.2 1 -2.1 2 0 2 0.6 1 -0.4 1 -2.7 2.3 -4 0.5 -2 0.9 -3.2 4.3 0 1 5.2-0.2 3 2.7 4 1.4 2-2.2 1-0.3 4 1.5 1-0.6 3 4.6 5-2.2 2 0 2 2.2 1 1.9 1 0.6 2-0.8 1.5 0.4 -1.1 5 -0.7 1 -2.7 2.2 -3 0.3 -3 1.3 -2 3.2 1 2 0.6 3 -0.1 5 0.5 0.9 2 0.1 2 3.6 2 0.3 1.2-2.9 1.8-1.3 1.3 0.3 2.2 2 -0.7 1 -4.7 2 -1.9 4 -2.2 1.2 -2 2.2 -4-1.8 -5-0.4 -2.4 0.8 -1.6 2 -2 0.8 -2-0.7 -2-1.8 -1 0.1 -2 1.7 -3 0 -1-0.6 -1-2.3 -1-1 -1 0.1 -2 2.8 -4 0.7 -1.7-0.8 -1.3-2.1 -2 0.4 -2-0.3 -2 1.2 -3 0.2 -4.2 1.6 -1.3-3 -2.3-1 -1.2-1.7 -1-0.6 -3 0.2 -4 1 -3.2-0.9 0.7-2 -0.1-1 -0.4-0.1 -3 1.3 -0.6 0.8 0.7 2 -3.1 1 -2 1.3 -3-0.5 -0.4 1.2 -1.3 1 -6.3 1 -2 1.3 -1-0.3 -2-3 -2-0.8 -1.9-2.2 -2.1-1 -5-1 -1.5-1 -3.5-1.2 -2 0.4 -7.9-1.2 -0.7-1 0.2-4 -2.6-2 -1 0.7 -1 1.7 -1 0.2 -1-1.9 -2 0.8 -3-1.9 -3 0.5 -3-0.5 -5 2.1 -2-0.1 -0.9-0.6 -0.9-2 -1.2-1 -0.7-2 -2.6-2 -1.7-4.7 -2 1.3 -2.4 0.4 -1.5 2 -1.1 0.1 -0.7 0.9 0.3 1 -0.6 0.7 -2 0.3 -6-1.6 -6-0.7 -3 0.4 -2-0.9 -2 0.6 -2 2.2 -1 4.2 -2 0.9 -3-0.3 -1 0.6 -1.4 2.6 0.4 2.2 -1 0.6 -3.5 0.2 -1.5 2.9 -1 0.9 -6-0.8 -1.5 1 -0.2 2 -2.3 1.3 -2-0.1 -1-0.9 -1-0.1 -1.7 0.8 -3.3 0.4 -4 2.3 -1 1.2 -1 0.4 -1.2-0.3 1.1 3 -0.2 2 0.8 2 -0.5 2.8 -1.7 0.2 0 1 0.7 0.3 1-0.7 1.4 1.4 -0.2 3 1.2 2 -0.4 0.9 -1-0.2 -1.6 1.3 -0.2 2 -2.2 5.6 -4 2.5 -4 1.1 -4 6.2 -1.2-0.4 -1.8 3.3 -2 1.4 -1 0.1 -1-0.4 -0.9-1.4 -1.8-1 3.5-3 -0.1-3 -2.7-3.4 -3-1.6 -2 0.5 -1 1.8 -1.2-0.3 -0.2-2 -0.6-0.6 -1-0.1 -2 1.5 -1-0.2 -1-1.1 -3-0.9 -3 0.5 -2-0.4 -2 0.5 -2 1.2 -2 0.2 -1.7 1.4 1.1 2 0.2 2 -0.6 1.5 -2.9 2.5 -0.1 3.1 -1.1-0.1 -2.9-2.8 -4.9-2.2 -2.1-3.9 -3-1.5 -1-2.6 -1-1 -2-0.7 -3-0.2 -7 0.9 -1.3 1 -2.7 0.2 -3 2.3 -7 0.7 0-1.5 2 0 1-0.6 0.5-1.1 -0.5-1 -3 0.1 0-68.6 2 0 1.1 1.5 1.9 1.3 1 0.1 2-0.8 2-2.5 3-0.5 1 0.4 2.4 3 -1.2 2 0.8 1.2 2-2.2 -0.9-2 1.9-2.9 -0.3-1.1 1.3-1.9 3 0.4 2 1 2 0.2 1 1.9 1-0.2 1.9-1.4 1.1-1.6 0.9-0.4 -1.9-1 0.5-1 1.5-0.8 0.8 0.8 -0.7 2 1.9 0.3 2-0.8 3 2.8 1 0.2 4-1 2 0.9 1 0 1-1.5 1.9 2.1 0.1 2 1 0.7 1.2-0.7 0.8-2.2 0.1-1.8 2.4-3 0-2 1.5-1.9 4 1.3 1-0.2 0.5-3.2 1.5-1.2 1 0.1 2 1.8 4-0.4 2.7-2.3 0.3-2 -0.5-2 0.5-1 5-0.8 1.7-1.2 0.5-2 -0.7-3 1.9-4 -0.8-2 0.1-1 1.7-3 -2.8-2 0.4-0.5 1 0.3 2-0.8 -1-2.2 2-0.7 2.9-0.1 0.1-2.1 2-1.3 0.6-1.6 1.1-1 -0.5-4 1.5-4 -0.5-3 0.9-3 1.7-2 0.2-2 1-1.3 1 0.3 1 1.1 1.7-1.1 1.5 0 1.2 3 1.6 0.5 1 0 1.7-1.5 -0.5-1 0.8-1.8 5 0.8 1-0.5 1-1.4 1-0.3 2 0 1.4 1.2 -0.1 1 0.6 2 2.1 1.3 2.8 4.7 -0.4 1 -3.4-0.1 -1 0.6 -1.9 3.5 -1.6 1 -0.5 1.2 -1-1.3 -1 0.2 -0.7 0.9 -0.3 1 1.6 2 0.3 1 -1 2 0.3 1 -0.6 1 0.2 1 2.5 2 0.8 6 0.9 0.5 1-0.1 1-0.8 1 0.1 1.5 1.3 1.5 2.7 4 0.2 4 2.4 2.5 2.7 0.8 3 -0.7 3 0.9 2 -3 3 -1.9 3 -0.1 1 0.5 1.1 3 2.8 3 1.6 4-2.1 2-2.3 2-1.2 3 1.3 1.1-0.2 0.8-2 3.1-4.3 4-0.3 5-1.8 2 0.4 1-0.5 1-3.2 2-0.7 0.3-7.6 0.7-1 1-0.5 2 1.5 1 0.1 1.6 1.9 1.4 0.8 3 0.9 1 3.3 0-1 1.7-1 0.4-2 2-1 -0.8-3 0.6-2 1.1-0.9 3 1.5 3-0.5 1 1.1 2.4-0.2 -0.1-1 -1.3-1 -1-0.2 -0.9 0.2 -0.1 0.6 -1-0.1 -0.5-0.5 1-1 -0.5-1 -1-0.4 -1.5-3.6 0.2-5 -2.7-2.9 -1-0.3 -4 0.1 -4.2-5.9 -0.8-4.4 -1-0.6 -1.3 0 -0.7-0.9 1.1-1.1 0.1-1 -1.2-0.7 -1.8-0.3 -0.5-1 -1.7-1.2 -1-0.2 -1 1.5 -1 0.2 -1.6-2.3 -0.4-2.3 -3.2-6.7 -0.8-0.5 -2 0.6 -1.5-1.1 0-1 1.5-3 2.2-1 -1.2-3.3 -5.4-4.7 -0.6-2 0.2-3 -1.2-0.3 -3 5.8 -1.4-0.5 -0.7-1 1.9-4 2.2-0.5 1-1 0.5-1.5 -0.8-1 -0.7-0.3 -2 0.5 -2-0.4 -3 0.6 -1.7-1.4 -1.3-2.3 -2-1.2 -5-1.6 -3-0.2 -2 1.2 -3 0.6 -1.1-0.5 -0.2-2 -0.7-0.8 -2-0.9 -2-0.2 -0.2 0.9 -0.8 0.4 -2 2.9 -3 0.4 -1.5-1.7 -2.5-0.7 -4 1 -1-0.2 -0.3-1.1 -3.1-3 -2.1-4 -0.2-2 0.7-1 0-1.5 -1-0.6 -2 1.5 -5 1.8 -3 1.9 -1 0.4 -1-0.4 -4-2.5 -3-1 -3.6-5.6 -4-2 0.3-1 1-1 0-1 -1.7-0.7 -2-0.1 -1-0.7 -2.8-3.5 0.3-4 -0.8-1 0.2-1 1.1-0.8 1-0.4 6 0 2-1.5 4-1.4 1 0.3 2 2.4 1-0.9 1-2.5 2 0.6 2-1.1 0.3 0.3 -0.3 2 1.6 1 0.4 1.5 1 0.3 1-0.7 2-0.1 2-1.4 3 2.4 1 3.3 2-1 3 0.2 5-2.3 2-0.3 4-3.4 2 1.1 1-0.2 4-2.8 1-0.1 2 1.4 1-0.3 0.2-1.6 -0.4-2 1.2-1.3 1-0.4 3 0.1 0.6-2.4 1.3-2zM951.5 220.4l-1 0.4 -0.4 0.7 1.3 2 -1.7 3 1.2 3 -0.7 1 0.3 0.5 1-0.1 0.3-1.4 0.7-0.6 2.3-0.4 2.3-2 -0.6-1.9 -1.4-1.1 -0.6-1.3zM958.5 254l-1 0.5 0.5 1 2.5 0.1 2 0.8 1.1-0.9 0.2-1 -1.3-0.5 -2 0.4zM963.5 227.4l-1.7 1.1 0.2 1 1.5-0.2zM971.5 276.5l-1 1 0 1.2 1-0.2 1.3-1zM974.5 239.8l-0.5 0.7 1.5 2 0.6-1 -0.1-1 -0.5-0.7zM979.5 223.4l-1.1 1.1 0.4 1 2.2 2 0.5 1.1 0.5-1.1 -0.8-2 1.1-2 -0.8-0.6zM995.5 239.5l-1.2 1 0 3 -0.8 2 0.7 1 1.3 0.5 5-1.2 0.5-2.3 1.9-1 -1.4-0.7 -2-2.2 -2 0.3 -1-0.6zM1010.5 273.5l-1 0.3 -1 1 -1 0 -0.3 0.7 -1.4 1 -3.3 1.5 -4-4.3 -4 1.2 -3-1 -2.1 1.6 2.1 0.3 2 1.2 3 0.7 0.7 0.8 -0.6 2 0.3 1 1.5 2 0.5 2 2.6 1.9 0 1.1 3 1.2 0.6 1.8 2.4 2.4 3-1.6 1 0.1 2 3.8 1 0.7 2-1.8 1 0 1 0.6 3 0.1 0.7 1.7 -0.9 2 1.2 0.1 0-1.1 2-1.6 0.6-2.4 1.5-2 0.2-1 -0.5-1 0.2-3.3 0.6-1.7 -0.6-0.5 -1 0.5 -2.2-2 -0.1-4 1.2-3 -0.3-1 -1.6-0.4 -2 0.1 -3-1 -2-1.3zM1033.5 289.4l-1.9 1.1 -0.1 1 1 0.7 2-1.7zM1051.5 338.6l-0.5 0.9 1.2 1 0.7 0 0.5-1zM1054.5 347.3l-0.7 0.2 0.1 1 1.6 2.6 2-2.2 0-1 -1-0.6zM1066.5 278.4l-1.5 1.1 0.5 1 1.3-1zM1070.5 311.5l-0.6 1 0.6 0.4 1.7-0.4 0.4-1 -1.1-0.6zM1075.5 246.2l-0.3 2.3 1.3 2.5 0.9-0.5 -0.1-4 -0.8-0.9zM1111.5 265l-0.1 1.5 1.1 0.6 0.6-0.6zM1115.5 288.9l0 1 1 1.3 1-0.5 0.2-1.2zM1189.5 282.4l-0.5 1.1 0.5 0.5 1.8-0.5 -0.2-1zM1105.5 364.2l0 2.3 1.1-1 -0.1-1.4zM809.5 413.4l-0.4 1.1 0.4 0.8 1 0.2 0.1-2zM888.5 370.3l-1 1.2 -2.2 1 -0.3 1 0.7 2 0.8 0.6 1-0.2 1-0.8 1.4-2.6 1.7-2zM905.5 369.4l-1 1.1 -0.7 2 -1.3 1.3 -0.5 1.7 0.5 1.1 3.5 2.9 0.4 1 2.1 1.9 2-4.3 3-1.6 -0.2-1 -0.8-0.5 -2 0.5 -1-0.2 -0.8-0.8 0.2-2 -3.7-1 0.5-1zM908.5 278.6l-0.9 1.9 0.4 1 -0.7 2 1.5 2 1.7 0.2 1.9-4.2 -2.9-2.8zM961.5 339.9l-4 3 -1-0.9 -1-0.2 -1 0.3 -1.2 1.4 -1.8 0.6 -4-0.4 -3-1.7 -3 0.7 -3-1.4 -0.9 0.2 -0.9 1 0 1 2.7 1 -1.9 1.8 -0.1 1.2 2 3 2.1 2.1 2-0.7 0.6 0.6 0.4 1.8 3 0.1 1.3 1.1 0.7 1.8 4-1.4 2-1.6 3 1.9 3-0.6 1 1.3 0.3-0.4 -0.2-2 0.5-1 3.2-2 1.2-1.9 3.1-1.1 -0.1-1 -1-0.6 -2 1.3 -2-1.2 -0.9-1.5 -1.7-5zM971.5 327.2l-0.7 0.3 0.3 1 1.4 1.6 0-2.1zM982.5 320.8l-0.5 0.7 0.5 0.9 1-0.2 0.6-0.7 -0.6-0.6zM988.5 322.5l-0.4 1 1.4 2.1 1-1.2zM874.5 209.4l-1 1.1 -0.6 3 1.6 1.9 1 0.3 1-1.2 0.8-2 0-3zM880.5 207.8l-1.2 1.7 1.2 2.8 0.8-0.8 0.1-1 -0.3-2zM906.5 235.1l-1.6 2.4 0 1 0.6 0.4 2 0.1 1-1.9 1-0.2 2 1.8 1.6-0.2 0.4-1 -2-1.9 -4-1zM975.5 244.4l-0.8 1.1 0 1 0.8 1.3 2-0.7 1 0.2 0.5-0.8 -0.5-1.3zM988.5 253.1l-0.2 1.4 1.2 1.4 0.8-0.4 0.4-2zM996.5 312.4l-1.9 1.1 1.9 1.7 1 0 1.3-2.7zM1019.5 348l-0.8 0.5 1.8 1.4 1-0.3 0.7-1.1 -0.7-1zM1031.5 310.3l-1 0.8 -2.3 0.4 -2.3 3 0.8 2 -0.2 3 1 2 0 3.2 3 2.2 1 0 6-1.6 4 0.5 1-2 3-0.9 -0.3-1.4 -1.7-1.6 -2-3.1 -1-0.5 -3 0.1 -1-0.9 0.8-2 -1.8-2.2 -3-1.8zM1104.5 289.9l0 0.9 1 1.1 1.2-0.4 -0.2-1.4zM1105.5 366.5l0 1.7 1-0.3 0.2 0.6 1.8 0.7 1-0.7 -0.1-1 -1.9 0.1zM959.5 357.7l-0.8 0.8 0.1 2 0.7 1 1-0.1 1.4-0.9 0.2-1 -0.6-1.1zM977.5 263.3l-0.9 0.2 0.8 1 -0.6 2 0.7 0.9 0.9-0.9zM1035.5 330.6l-1.5 1.9 -0.5 3 -2 1 -3 0.3 -1.1 0.7 1.1 2.8 2 0 0.8 1.2 -4.5 5 -2.3 6.9 -4-1.2 -2.9 1.3 -1.1 2.5 -2.6 3.5 0.6 1.5 1 0.1 2-1.2 5.5-1.4 0.1-2 1.4-1.7 3-2.3 3 0.9 4-0.1 4-0.7 1.5 0.9 0.2 1 -0.5 1 0.8 0.5 0.3-1.5 1.2-1 2.5 0.8 4 0.2 0.8 1 -1.3 5 0.5 1 2 1.3 4 0.9 4-1.6 1 1.2 1-0.2 0.7-1.6 2.3-0.6 4 0.8 2-0.8 1 1.1 1 0.1 1.1-3.6 -2.1 0.5 -0.7-0.5 0.6-2 1.6-2 -0.2-1 -1.3-0.7 -7-0.7 -3 0.4 -0.6 1 -1.4 0.7 -2.9-1.7 -1.1-1.4 -2 0.8 -0.9-0.4 -0.8-2 -2.4-1 -0.9-4.2 -2.8-1.8 -1.2-4 -0.3 1 -1.7-0.5 -0.7-1.5 -2.1-2 -0.7-4 -1.5-0.9zM1025.5 372l-1 1.5 0.1 2 0.7 4 1 1 3.2 2 2-1.4 2 1.4 1 0.1 1-1.7 1-0.4 2 1.3 1.1-0.3 0.5-1 -0.1-2 -1.5-3.5 -2 0.2 -2-1.5 -2 0.2 -0.8 1.6 0.2 2 -0.4 1 -1 0.2 -3-1.6 -0.7-2.6 0.7-2 -1-0.9zM1189.4 197.5l0.1-0.3 1.6 1.3 0.1 1 -1.4 0 -1.1-1zM1278.2 197.5l1.3-0.3 1 0.6 0.3 0.7 -0.3 1.4 -1 0.1 -0.5-0.5 -0.9-1zM965.7 200.5l4.8-0.4 0.2 0.4 -1.2 1.4 -2 0.6 -1.8-1zM1183.3 200.5l1.2-0.9 2.3 0.9 0.7 2 -1 0.2 -1-0.6 -2 0.5zM1192.8 200.5l1.7-1 3.8 2 2.7 3 0.2 2 0.6 1 -0.3 1.2 -1 0.6 -2-1.7 0.3-2.1 -0.3-0.3 -5 1.3 -2 1.1 -4-3.1 0-1.9 1 0.7 2.1-0.8zM955.8 202.5l1.7-0.3 0.5 1.3 -0.5 0.5zM1036.2 207.5l1.3-0.2 0.6 1.2 -0.6 0.5 -1 0 -0.5-0.5zM985.5 208.5l1-0.8 1.5 0.8 -0.5 1.1 -1 0.1 -0.9-0.2zM1253.2 209.5l0.3-0.5 1.2 0.5 1.4 4 -0.2 1 -1.4 1 -1 0.1 -1-2.1zM1198.7 210.5l1.8-0.6 0.5 1.6 -1.5 1.2 -1.7-1.2zM799.5 212.5l3 0 1 0.5 0.7 0.5 -0.5 2 -2.2 1.4 -2 0zM1067.9 212.5l0.6-0.7 1 0.7 -0.1 1 -0.9 1.2 -1-1.2zM1152.4 214.5l1.1-0.4 0.4 1.4 -0.4 0.5 -1.4-0.5zM1035.4 217.5l1.1-0.7 1 0.1 1.2 0.6 0.7 1 -0.6 2 0.7 1.8 0.5 0.2 -1.5 1.7 -2-0.6 -1.1-2.1 0.7-2 -0.8-1zM1243.5 218.5l3-0.5 1 0.9 0 1.8 -2 2 -1 0.3 -0.5-0.5 0-3zM804.2 221.5l0.3-0.8 1 0 0.2 0.8 -1.2 1.6 -0.5-0.6zM1266.3 222.5l2.2 0.7 0.7 1.3 -1.7 0.9 -1.8-1.9zM804 224.5l4.5-0.2 2 0.8 1-0.9 2-0.6 1.6 0.9 2.4 3 2 0 2 1.4 1 0 2-1.5 6-1 1.5 2.1 -1.5 2.2 -2.1-1.2 -1.5 3 0.1 1 1.5 1.6 -0.3 1.4 -0.7 0.6 -1-0.2 -1 0.6 -2 0.3 -0.4-0.3 0.3-2 -0.9-1 -7-1.5 -5 1.1 -4-2.1 -0.5-0.5 -0.5-3.6 -2.3-2.4zM840.2 225.5l1.3 0 1 1.8 1.4 1.2 -2.4 0.7 -1-0.2zM1147.2 225.5l2.3-0.2 0.4 1.2 -1.4 1.2 -1-0.1 -0.6-1.1zM846.4 227.5l1.8 0 1.3 1.1 -0.9 0.9 -2.1 1 -0.9-1 -0.1-1zM1261.1 234.5l0.4-0.7 1-0.2 1.7 0.9 0.3 0.7 -1 2.4 -1 1 -2.3-0.1 -0.5-1 1.4-2zM1333.9 238.5l0.6-0.9 1 0 0.9 1.9 -0.4 1 -2 0 -0.5-1zM882.6 239.5l2.9-0.5 3 0.5 1 1 -0.7 4 0.2 2 1.5 0.8 2-0.5 1.7 2.7 -1.7 0.3 -4-0.7 -4-3.6 -1-0.3 -1.2 0.3 -0.8 2.4 -1-0.4 -0.8-2 0.3-1 2.5-2.7zM863.1 241.5l1.4-0.3 2.3 1.3 -1.3 0.6zM823.1 243.5l2.4-0.7 1.1 0.7 -0.1 1 -1 0.5 -2-0.3zM799.5 248.5l2.9 0 0.8 1 0 1 -0.7 0.7 -3 0zM1234.2 250.5l1.3-0.6 0.6 0.6 -0.1 1 -1.5 0.2zM855.1 252.5l1.4-0.1 5.5 2.1 -0.5 3.5 -4 2.5 0.3 1 2.7 0.6 2-2.5 2 0.3 0.8 0.6 0.2 2 0.8 2 -0.8 0.9 -1.7-1.9 -3.3-0.9 -1 0.1 -3 2 -2-1.5 -3 1.5 -4-0.7 -4 1 -1-0.2 -3.4-2.3 -1.6-0.5 -5 1.4 -2-0.6 -0.6 0.7 -2.4 0.6 -4 2.5 -3-1.3 -1.5-2.8 0.1-1 5.4-5.2 6 1.5 4 0.5 4-0.3 1-0.3 2-1.7 1-1.9 4 1 1-0.4 2 0.2 1-0.6 3-0.2zM1234.5 254.5l0.4 1 -0.4 0.6 -1.3 0.4 -0.3-1zM807 255.5l0.6 0 1.1 1 -0.9 1 -1.7 0 -2.8-1zM799.5 265.5l0-0.9 2 0 0.9 1.9 -2.9 0.3zM931.4 265.5l0.1-0.6 1 0 1 1.1 0.4 2.5 1 2 -0.4 2.7 -1.6 1.3 -0.4 1.1 -0.4-1.1 -2.6-2 -0.3-1 0.5-2 1.8-2zM919.7 271.5l1.8-0.6 1.2 0.6 -0.3 1 -1.9 1.3 -1 0.1 -0.4-1.4zM905.3 276.5l1.2-0.8 1 0 0.8 0.8 -0.8 0.9 -1 0zM1271 279.5l2.5-0.5 1.4 0.5 0.8 1 -3.2 2.8 -1 0.2 -3.2-2 0.3-1zM1211.8 282.5l1.7-0.9 0.8 0.9 -0.8 2.4 -1 0.9 -1-0.3 -1.4-2zM1224.5 285.5l2 2 -2 0.4zM1231.6 286.5l2.8 0 -0.6 1 -2.3 1.6 -1.3-0.6zM1300.2 286.5l0.3-0.5 1 0.5 0.7 1 -0.3 1 -1.7 0zM1280.8 288.5l0.7-0.3 1.5 1.3 -0.1 2 -0.4 0.9 -1 0.4 -2-0.2 -0.4-1.1 0.1-1zM812 289.5l0.5-0.7 5 0.9 0.6 0.8 0.1 1 -0.7 0.9 -3-0.6zM1246.1 289.5l1.4 0.3 0.6 1.7 -0.6 1.4 -2 1.6 0 1 1 0.9 1 0.1 1-0.6 1.3 0.6 0.7 1 -0.3 1 0.3 1 3.2 4 1.3 4 0.1 1 -0.6 0.9 -1-0.3 -0.6 0.4 -0.3 1 1.2 2 -0.8 2 0.7 1 -0.2 1.4 -9.1 1.6 -1.2-1 -0.1-2 -0.6-1 -3 2.8 -3 1.3 -2-1.3 -2.9-0.8 0-2 -1.1-1.7 -3-0.6 -1 0.3 -0.6 1 -2.4 1.8 -1 1.7 -2.9 0.5 -2.1 1.3 -1.3-0.3 -1.3-2 0.6-2 0.2-3 -0.5-2 0.3-0.8 1 0.4 5.4-3.6 0.9-3 -1.3-0.6 -1-1.7 -1-0.1 -0.3-0.6 0.3-0.5 2 0.1 0.7-0.6 0.3-1 -0.7-1 0.6-1 1.1 0.3 8-0.5 6-2 2 0.5zM841.2 290.5l2.3 1.3 0.3 0.7 -0.7 2 -0.6 0.8 -4-0.4 -1.1-1.4 0.4-1 0.7-0.9zM1211.1 294.5l1.4-0.5 1.3 0.5 0.6 1 -0.9 0.7 -3 0.5 -0.2-1.2zM1171.2 295.5l1.3-0.7 0.3 0.7 -1.1 1 -1.2 0.3 -0.2-0.3zM1279.1 295.5l0.4-0.7 1 0 0.9 0.7 0.1 1 -1 1 -1-0.8zM1197.7 296.5l3.8 0 -1 2.8 -1 0 -1-1zM1164.9 301.5l1.6-0.8 1.7 1.8 -0.1 1 -1.6 0.8 -1-0.3 -0.8-1.5zM1131.4 302.5l4.1-0.4 1 0.4 1 4 0 2.2 -1 0.1 -2-1.3 -2-0.5 -1.5-2.5zM1119.5 305.5l0-1 1 0.3 0.5 1.7 -0.5 0.4 -0.8-0.4zM1270.3 305.5l1.2-0.7 2.2 0.7 0.1 3 -0.3 0.8 -1 0.7 -1-1.2 -1.3-0.3zM1110.1 307.5l0.4-0.7 1 0.7 0 1.1 -1 0.2zM938.4 308.5l0.1-0.3 4-0.2 1 0.5 0.3 2 -1.3 2.4 -0.6-0.4 0-1 -1.4-2.1 -1-0.9zM1112.2 309.5l1.3 0.2 2 1.6 0.2 1.2 -0.9 2 -1.3 0.4 -1 1 -1.7-1.4 0.7-0.7 2 0.4 0.4-0.7 0.1-1 -1.9-1 -0.3-1zM867.9 311.5l1.3 0 -0.7 4 -1.3 3 -1.7 1.3 -3.4 0.7 -0.4-2 -1-1 -0.2-1.1 0.9-0.9 2.1-0.3 2.7-1.7zM934.3 312.5l4.2 0.8 1.3 1.2 -1.3 1.4 -1-0.2 -3-1.8zM972.2 312.5l0.3-0.3 0.7 1.3 0.1 1 -0.8 0.9 -1.2-1.9zM1182.9 313.5l3.6-0.9 2.2 1.9 -0.2 1.3 -1.3 0.7 -0.3 3 -1.4 2.6 -4 0.5 -2 2.2 -2.3 0.7 -0.7 1 -1 0.1 -0.6-2.1 -2.4-1.8 -1.1 0.8 -0.6-1 0.7-0.4 1 0.3 4-1.7 1 0 2 1.3 2 0.3 1.4-1.8 0-2 1.9-2 -1.6-1 -0.6-1zM1209.4 315.5l3.1 1.9 0.5 1.1 -0.5 0.8 -1.2 0.2 -2 2 -0.6 1 -0.2 2.3 -2.8 1.7 0.8 1.3 0.2 1.7 -0.2 0.5 -1-0.3 -2.2-1.2 -0.9-1 0-1 1-1 -0.3-1 0.4-0.9 2.6-1.1 0.8-3zM1133.6 317.5l1.9-0.9 0.5 0.9 -0.5 1.6 -1 0.7 -1-0.6 -0.4-0.7zM1264.2 317.5l1.3-0.4 3 2.5 -2.1 0.9 -3.1 0zM1222 318.5l0.5-0.7 1 0.3 1.5 1.4 -1.1 1 -0.9 0 -1.2-1zM874.7 320.5l0.8-0.4 1.7 2.4 0 1 -0.7 0.8 -1.9-0.8zM1280 323.5l3.5 0.5 1.3 1.5 0.3 2 -1.3 2 0 3 -2.3 1.1 -2-0.8 -2 1 -3 0 -1-0.8 -2 0.7 -1.3-0.2 -0.8-1 1.1-1.3 0.2-1.7 -0.6-1 -1.6-0.2 -0.4-0.8 0.4-1.1 1-0.9 2 1 5-1zM1165.6 325.5l0.9-1 1 0.3 4 1.6 0.7 1.1 -2 1 -0.7 1.6 -0.9 0.4 0.5 1 0.1 3 -1.5 2 0.2 2 -0.4 0.3 -1.1-0.3 0-2 0.7-1 0.4-2 -1-2 -0.3-3 -1.4-2zM1122 327.5l1.5-0.5 4 1 1.2 0.5 0 1 -1.2 3.1 -2 0.4 -5 3.1 -0.5-0.6 0-1 1.5-3 -0.4-3zM1190.1 327.5l2.4-0.9 1 0.1 1.7 2.8 -0.5 2 -1.2 0.6 -0.7-0.6 -0.3-1.7 -5 2.7 -2 0.2 0.4-1.2 2.5-3zM1147.6 328.5l1.1 0 2.2 3 -1.4 1.8 -1 0.5 -0.8-0.3 0.4-3zM813 329.5l0.5-0.7 2 1.1 1-0.2 1.2 0.8 -2.2 1.6 -1 0 -1.1-0.6zM856.2 330.5l1.3-0.9 0.6 0.9 -1.6 1.8 -1 0.4 -0.1-1.2zM1104 330.5l0.5-0.6 1-0.1 1.7 0.7 2.8 4 -0.4 1 -1.1 0.7 -1-0.3 -1.1 0.6 0.1 3.5 -1 0.1 -2.3-2.6 -0.2-2 0.7-1zM1113.3 330.5l0.2-0.5 1.5 0.5 0.1 3 -0.6 1.3 -3 1.3 -0.7-1.6 1-1zM850.1 337.5l1.4-0.8 0.4 0.8 -1.4 1.8 -1-0.8zM1150.6 338.5l0.9-0.7 1 0.7 0.5 1 -0.5 2 -1-0.3zM1297.1 338.5l0.4-0.5 0.5 2.5 1.1 1 -0.6 2.2 -1 1.1 -1.6-2.3 0.1-1 1.3-2zM1137.1 341.5l0.4-0.5 1 0.3 0.9 1.2 -0.9 0.6zM1139.8 343.5l1.7-0.9 4 2.7 0.9 2.2 -0.1 4 -0.8 0.6 -2-0.2 -3-0.9 -2-1.8 -1 0 0-1.1 0.8-0.6 -0.7-1 0-1 1.9-1zM1309.5 343.5l1-0.4 2.2 1.4 0.4 2 -0.6 0.8 -1 0 -2.6-1.8zM906.1 374.5l1.9 0 -0.5 1.6 -1.3-0.6zM861.4 419.5l1.1-0.7 0.5 0.7 -0.5 1.2 -1-0.2zM799.5 443.5l2-0.2 2 0.8 2-0.3 1 0.7 -1 1 -2 0.2 -2-0.8 -2 0z"/>
<path fill="#f9c33f" fill-rule="evenodd" d="M947.5 207.5l1 0.4 0.4 0.6 -0.1 1 1 1 -0.3 1.1 -3-1.7 0-1.4zM894.8 209.5l0.9 0 0.8 0.7 0 1.7 -2 1.7 -1 0.1 -1.2-1.2 0.1-1 1.1-1.5zM934 213.5l0.7 0 0.3 1 -1.5 1.3 -2 0.5 -2-0.8 2-0.3zM1132.5 219.5l0.8 4 -0.8 0.9 -2.9-1.9 -0.4-1 1.3-1.1 1.1 0.1zM881.4 221.5l1.1-0.2 0.9 3.2 -0.2 1 -0.7 0.3 -2-2.3zM920.4 221.5l1.3 0 0.6 1 -1.8 0.3 -0.5-0.3zM885.3 226.5l1.2-0.9 0.9 0.9 -1.6 2 -0.3 1.8 -0.4-0.8zM1133.8 230.5l1.4 0 0.3 1 -2 1 -1.1-1zM918 232.5l1.5-0.4 1.3 0.4 0 2 -0.9 1 -1.4 0.3 -2.3-1.3 0.4-1zM970.8 232.5l0.7-0.4 1.7 0.4 0.4 1 -0.5 1 -1.6 0 -0.9-1zM1013.4 234.5l3.1 0.1 2 1.8 2 0.7 6-0.4 4 0.8 1.4 1 0.2 2 2.4 4.2 1 0.8 2-0.7 2-2.6 1 0.1 1.5-0.8 0.8-3 1.1 0 1.6 1.7 2-0.2 1 2.1 1.2 0.4 -0.2 0.5 -1 0.1 0 1.8 0.6 1.6 5.4 4 0.5 2 -0.5 3 0.9 2 1.5 1 0.2 1 -1.1 1 -1.3 3 0.3 2 -0.5 1.8 -5 1.8 -1 2.9 -5-1.8 -2 1 -2-0.8 -0.7 1.1 0.9 2 -0.2 0.9 -2 1.2 -6-1.5 -5 1.2 -3-2.2 -1-0.3 -0.3 0.7 -1.7 0.3 -6-2.6 -1 0.1 -1 0.8 -2-0.3 -2 0.7 -4-0.4 -1-0.4 -0.3-1.2 0.3-1.5 0.9-0.5 -1.9-0.5 -1-2.5 0.1-3 -2.1-1.1 -2 0.4 -0.5 0.7 0 2 -1.5 1 -2 2.5 -1-0.3 -0.4-2.2 -2.3-2 0.7-1 2-1 3-2.7 1-3.2 1.4-1.1 1.9-4 1.7-0.6 3 0.5 2.1-0.9 1.7-2 0.3-3 0.9-0.4 2 0.2 1-1.2 2-0.1 0.7-1.5 -1.2-2 -5.5-0.3 -0.7-0.7 0.7-3.1 1-0.4 2 0.6zM1023.5 258.2l-2 1.3 2 1.2 3 0.3 0.4-0.5 -0.3-1 -1.1-1zM1037.5 270.8l-1 0.7 1 1.4 0.6-1.4zM1012.5 257.9l-2 1.5 -3.5 1.1 0.5 1.8 1 1 1 0 3.8-2.8 0.4-1zM1097.4 234.5l1.1-0.6 2.6 2.6 0.3 3 -0.9 3.2 -1 0 -1-1.2 0.8-2 -0.4-3zM1111.4 236.5l1.1-0.4 0.5 0.4 0 1 -0.5 0.5 -1 0 -0.5-0.5zM1121.9 245.5l0.6-0.7 1-0.1 0.5 0.8 -1.5 1zM1093.1 250.5l0.5 0 0.2 1 -0.7 2 -0.6 0.5 -1.7-0.5 0.2-1zM1085.2 256.5l1.3-0.2 5 3.1 2.2 0.1 -2.2 1.6 -2-0.3 -0.8 0.7 -0.7 2 0.6 2 -0.6 1 -1.5 0.5 -1.4-0.5 -0.6-1 2.3-2 0.1-1 -0.7-2 -3.3-2 0.6-1zM855.6 257.5l0.9-1 1 0.5 -0.8 1.5 -1.2 0.4 -1 1.1 -1 0.2 -1-0.7 0.2-1 1.8-0.3zM967.7 260.5l1.8-0.3 0.3 1.3 -1.3 0.9 -1-0.4 -0.7-0.5zM1097.1 260.5l1.4-0.4 1 1.1 1.2 0.3 0.6 1 -1.1 2 0 1 2.4 4 -1.1 1.5 -3 0 -0.9 0.5 -0.4 2 -1.3 3 -1.4 1 -2.7-3 1.5-2 0.6-4 -2.3-2 0.4-1 0.5-0.2 2 0.2 3-2.1 1 0.1 0.5-1 -0.5-0.7 -1 0.3 -1-0.2zM1102.8 262.5l0.7-0.7 0.6 0.7 0.4 3 -0.1-1 -0.9-0.3zM1187.1 264.5l1.4-0.8 0.5 1.8 -1.3 0zM1105.3 266.5l0.2-0.5 2.7 0.5 0.8 3 2.5 1.3 0.3 2.7 -0.3 0.5 -1 0 -1-2 -2.2-0.5 1-1 -0.8-0.4 -2 0.9 -0.9-0.5 -0.5-1zM1140.9 266.5l0.6-0.7 1-0.3 1 1 -1 1.4 -1.7-0.4zM1138.3 267.5l1.2-0.4 0.8 0.4 0.3 1 -1.1 0.8 -1-0.3 -0.4-0.5zM1208.9 267.5l0.6-0.2 1 0.6 1 1.7 -1 0.7 -1-0.8 -0.7-1zM966.4 269.5l1.1-0.3 2.2 2.3 0.2 4 -1.4 1 -0.5-1 0.4-1 -2.1-2zM1120.2 269.5l1.3-0.2 2.3 2.2 -0.3 1.3 -1.6 0.7 0.6 0.7 2-0.2 1 1.5 2-1.1 2 0.8 0.6 1.3 -0.9 2 -0.7 0.5 -2-0.4 -1-1.6 -1-0.5 -3 1.7 -2.1-0.7 -0.1-1 1.2-1 0-1 -1.6-2zM1184.4 269.5l1.1-0.7 0.5 0.7 -0.5 1 0.6 2 -1.6 0.9 -1-0.5 -1.6-2.4zM994.2 270.5l1.3 0.2 0.9 0.8 -0.7 1 -1.2-0.4 -0.4-0.6zM1113.8 271.5l1.7-0.1 1.7 1.1 0.7 1 -0.1 1 -1.3 1 -2.5-1 -0.7-1zM1200.9 273.5l0.6-0.8 1 0.1 1.5 1.7 -2.5 3.2 -1 0.3 -0.8-0.5 1.1-2zM1186.4 275.5l1.5 0 0.2 1 -0.6 1.6 -1 0.1 -0.7-0.7 -0.2-1zM1084.1 277.5l0.4-0.9 5 2.9 0.8 1 -1.8 0.1 -3.8-1.1zM1054.5 280.5l1.1 1 -4.1 5.1 -2 0.4 -2.4-1.5 -0.4-1 1.8-3.1 2 0.2zM1085 284.5l0.5-0.3 2.4 0.3 -2.4 1.1 -0.4-0.1zM1041.5 287.5l2-0.1 0.4 1.1 -1.4 0.8 -1.2-0.8zM1068.6 294.5l2.2 0 -0.3 1.6 -1 0.1zM1060.5 295.5l1.4 0 0 1 -3.5 2 -0.9-1 0.5-1 1.5-0.2zM1233.8 296.5l2.7-0.1 1 1.7 2-0.2 1 0.5 1.3 2.1 -1.1 1 -0.2 1 -1 0.3 -0.4-0.3 0.8-1 -3-1 -0.2-1 0.4-1 -5.2-1zM907.9 302.5l0.6-0.7 1 0.2 1 1.5 -1 0.7 -1 0.1 -1.2-0.8zM1052.8 302.5l0.7-0.4 1 0.1 2 0.9 1 3.4 3.5 2 1 1 -0.5 0.6 -4.4-0.6 -1.4-3 -1.2-0.7 -1.6-2.3zM911.2 304.5l1.8 1 -0.5 0.7 -1.4-0.7zM1005.7 313.5l2.8-0.5 2 0.8 3-0.2 3.3 0.9 -0.1 4 -1.2 0.8 -2 0.4 -2.7 2.8 -0.1 2 2.8 0.4 2-0.3 1.6 0.9 1.4 2.3 2.7 2.7 0.6 2 4.3 2 -0.9 4 -0.7 1 -2 0.2 -0.5-0.2 -0.5-2.4 -0.8-0.6 -2.2 0.4 -0.8 0.6 -0.8 2 -1.8 2 -0.6 0.7 -1 0.2 -2.4-1.9 -1.6-2.3 -1-0.3 -3 2.1 -2-0.3 -0.8 0.8 1.4 2 -0.6 0.4 -6 2.3 -2-1 -1 0.8 -1 0 -0.6-0.5 -0.2-2 2.1-3 -1.3-0.9 -3-0.8 -1.4-1.3 -0.2-1 2.6-3.7 3-1.8 3 1.1 2-0.5 0.9-2.1 1.7-1 1.4-2.5 3-0.7 2.7-1.8 -0.4-1 -2.3-1.1 -5 1.3 -1 0.6 -1.7-0.8 0.7-1.1 2 0.8 0.8-2.7 -0.8-0.8 -3.1-0.2 1.1-0.3 2-2.4 2-0.2zM1076.8 315.5l0.9 0 0.8 0.7 0 1.6 -1 0 -1-1zM910.8 319.5l1.7-0.2 0.6 1.2 -2.6 1.8 -1 1.5 -3 0 -1.3-1.3 -0.4-1 0.7-0.8zM912 325.5l0.5-0.5 1 0.5 0.6 1 -0.5 2 1 2 0.4 2 -0.3 1 -1.2 0.8 -2-0.5 -2 1.9 -2 0.1 -1-0.5 -1.7 2.2 -0.1 1 0.6 1 1.2 0.5 1-1.3 1-0.2 6 0.3 1-1.5 2-0.5 1-0.9 4 1 2 2.2 2 1.3 3 0.1 0.9 1 -0.3 2 -2.7 3 1.1 1.9 3 2.9 1 0 2-1.1 0.4 0.3 -0.2 5 1.8 4 -1.1 2 -1.9 0.6 -8-1.5 -2 0.2 -1.8-1.3 -0.2-1.3 -7-3.5 -5 0.3 -5-1.1 -2-1.2 -2 0.5 -2 1.4 -2-0.3 0.6 3.2 -0.2 1 -0.4 0.4 -2 0.2 -2.6 2.4 1.1 2 -0.3 2 -2.2 0 -1.5 1 -0.2 1 -2.3 2.1 -2 0.4 -1.2 2.5 -1.3 6 1.5 2.5 1.4 0.5 -0.6 1 -2.8 1.8 -1.4 0.2 -1.8 2 -1.6 1 -0.5 1 0.3 1 3-0.8 0.9 0.8 -0.5 1 -3.4 0.7 -1-1.2 -4 0.3 -3-0.7 -1.7-1.1 -2.3-3.2 -4.9 1.2 -0.9 1 0.3 1 -0.5 1.3 -2 0 -1 0.4 -2.3 3.3 -0.7 0.3 -2-1 -1 0 -2 1 -2 0 -1.4 0.7 -0.7 1 -0.1 1 0.7 2 -2.5 2.9 -7 1.1 -0.6 3 0.6 2.1 0.8 0.9 -2.3 2 0.5 1 0.1 2 -1.1 1.2 -0.2-1.2 -2-3 0.2-1.2 1-0.2 0.4-0.6 -0.8-2 0.1-2 0.8-2 -6.5-2.6 -1-1.1 -0.8-2.3 -0.8-1 -2.4-0.3 -1.5-0.7 -1.5-1.6 -1-0.1 -2 1.3 -1 0.1 -4-2.5 -0.7-1.2 -1.3-0.7 -6-2.1 -2 0 0-23.6 2 0 2-1 5 0.6 4.6 1.8 3.7 4 0.7 0.2 2-1.1 4 1 2-3 1.7-1.1 -0.3-2 0.6-1.5 1-0.7 4-0.8 1.6-1 1.4-4.3 2-0.5 1.1-1.2 1.9-0.9 2-2 0.8 0.9 3.2 1.3 1 0 2-1.5 3-1.2 2 0 3 1.1 1-0.2 0.4-1.5 -1.1-1 -0.4-1 0.9-1 2.2-0.9 1-1.3 6-1.3 2.6-6.5 5.4-2.4 3-3 2 0.1 2-1.1 2 0.4 3-1.5 8-0.4 1-1.1 2 0.6 2-0.6 1.1 1 0.3 2 -0.3 1 2.7 1 1.2 1.6 1-1.5 0-1.4 1-2.3 1 0 1 1.5 1 0.6 2-0.5 0.7-1 -2.6-2 0.3-1zM922.5 351.3l-0.2 1.2 2.2 2 0.9-1 -1.6-2zM840.5 368l-1.3 1.5 0.3 1.1 2 0 1.1-1.1 -1.1-1.6zM855.5 377.3l-0.9 0.2 -0.3 1 1.3 2 0.3 2 1.6 2.2 1 0.8 1-0.1 0.4-0.9 -0.8-2 0.2-2 -0.4-1 -2-2zM863.5 371.4l-0.5 1.1 0.4 1 1.1 0.1 0.4-1.1 -0.4-1zM1278.1 326.5l1.4-0.6 1.1 0.6 0.2 1 -2.3 0.8 -1-0.8zM1056.7 327.5l0.8-0.8 0.9 0.8 0.2 2 -1.1-0.3zM1064.4 327.5l1.4 1 0.5 2 -1.8 0.3 -1-0.3 0-2.1zM1068.3 334.5l4.5 2 -1.4 1 -0.3 1 0.5 1 1.9 1.5 3 0.6 0.6 0.9 -0.6 1 -3 1 -3-0.8 -1-2 -1-0.5 -1 1.2 -1-0.3 -2 0.4 -1-1 -0.4-1 0.4-0.3 2 0.7 0.1-1.4 -0.6-1 0.4-1 1.5-1 0.1-1zM1061.1 344.5l1.4 0 0.7 1 -0.7 2.2 -2-0.4 -0.2-1.8zM1069.9 348.5l1.6-1 1 0.5 0 1.5 -0.5 1 -2.6 0zM993.6 350.5l1.9-0.2 0.5 2.2 0.5 0.4 2-0.2 1.7 1.8 1.3 3 -1 1.6 -1 0.5 -3-0.1 -2.9-3 -0.7-1 -0.1-2 0.1-2zM821.8 352.5l1.5 0 0.4 1 -1.2 0.3zM801.7 353.5l1.8-0.9 1 0.1 1.7 2.8 -3.7-0.3 -0.7-0.7zM1114.4 353.5l0.9 2 0 1 -0.8 0.4 -1-1.4 0-1zM1098.1 354.5l2.4-0.3 1.1 1.3 -4.1 3.1 -1-0.2 -0.5-1.9zM1084.4 358.5l1.1-0.2 1 1.4 -1 0.6 -1-0.1zM899.8 359.5l0.7-0.8 2 1.8 2.1 1 0 1 -2.1-0.4 -1 0.4 -1.1-1zM989.3 361.5l0.2-0.5 1 0.6 4.3 0.9 0.8 2 0.9 0.5 3-0.4 2.7 3.9 -1.7 1.4 -1 0 -2-1.1 -3 0.8 -2-0.4 -1 0.3 -4.6-1 -0.1-2 2.1-2zM908.3 363.5l1.2-0.3 0.3 1.3 -1.6 0zM1006.9 363.5l1.6-0.4 0.5 1.4 -0.5 0.5 -1.1-0.5zM1003.4 374.5l1.1-0.7 0.7 0.7 -0.7 1.1 -1.2-0.1zM891.7 375.5l0.8-0.8 1 0.1 0.8 1.7 -0.5 1 0.9 3 -0.2 0.7 -2 1.1 -3-0.4 -1-1.4 -0.1-1 2.6-2zM895 382.5l0.5-0.6 1.2 0.6 0.4 3 -0.6 0.6 -1.3-0.6zM868.9 397.5l1.1 0 0.9 1 -1.4 0.6 -1-0.4zM887.4 406.5l1.1-0.7 1.1 1.7 0.3 2 -1.4 1.7 -1.3-0.7 -0.1-1 1.1-1 0.1-1zM875.3 410.5l1.2-0.8 1 0 4 1.5 3 2.5 1.6 2.8 -3.6 3.3 -2 0.2 -0.9-1.5 0.2-2 -1.3-1 -2 0.5 -2-1.5z"/>
<path fill="#e7fa5a" fill-rule="evenodd" d="M1025.1 243.5l1.4-0.3 0.7 0.3 -0.7 1.2 -2 1.1 -1-0.2zM1042.2 245.5l0.3-0.4 4.1 0.4 -0.1 0.7 -1 0.3 -1.4 2 0 2 -0.6 1.4 -1 0.1 -1-1.5 0-1 1-0.4 0.2-0.6zM999.4 257.5l1.1-0.7 1.1 0.7 -1.1 1.2zM1029.3 264.5l2.2-0.5 0.5 0.5 0 2 -1.5 1.8 -1 0.4 -1-0.3 -0.5-0.9 0.3-2zM1025 265.5l0.5-0.4 0.6 0.4 0 1 -0.6 0.6 -1-0.1 -0.3-0.5zM1006.2 315.5l1.1 0 0.9 1 0.2 1 -0.9 1.1 -2.1-0.1 -0.3-1zM892 330.5l1.5-0.1 1 0.7 2-0.3 0.5 0.7 0.7 4 1.8 1.8 0.3 1.2 2.8 2 0.4 1 -1.5 2 1.4 1 1 3 -0.4 0.8 -2 0.7 -4-0.9 -0.6-0.6 -0.5-2 -1.9-2 -0.6 2 -1.4 1.2 -2-0.8 -1 0.8 -2-1 -2-0.2 -1 0.4 -0.3 0.6 2.6 3 -0.3 2.3 -4 0.8 -3.4-1.1 -0.5-1 0.2-2 -1-2 0.7-0.3 2 0.3 1.7-1 0.8-2 0.1-3 1.8-2 -1.3-2 -0.6-3 3.1-1 1.4-1.6 1 0.1 1 1.8 1 0.5 1-0.2zM892.5 333.7l-0.5 0.8 0.4 1 1.1 0.7 1-0.1 0.4-0.6 -0.6-1 -0.8-0.7zM1005.3 332.5l1.2-0.3 1.1 1.3 -0.1 1.2 -3 1.4 -2-0.1 -0.5-0.5 -0.1-1 1.6-0.4zM919.9 338.5l1.6-0.3 1 0.5 0.4 0.8 -0.7 2 0.3 1.5 3-0.5 1.2 1 -1.2 0.3 -1 1.1 -2-1 -2 2.2 -1-1 -1.5-3.6zM906.5 344.5l3.5 1 0.9 1 -3.4 2.1 -1-0.7 -0.5-1.4zM868.1 347.5l1.4-0.3 1.2 1.3 -0.2 0.6 -1 0.8 -0.7-0.4zM850.3 352.5l4 0 0.2 2 1.8 2 -0.6 5 1.3 2 -1.5 1.8 -1 0.2 -1-1.2 -2-0.6 -3-4.2 -1 0.1 -2.2-1.1 -0.3-1 0.5-1.9 3-0.8zM870.2 358.5l1.3-0.3 2 1.1 1.2 2.2 0.2 3 1.6 1.3 3 1.3 1.5 1.4 0.4 1 0 5 -0.9 2.2 -2-0.3 -1.7-0.9 -0.6-2 -4.7-3.2 -1.9 1.2 0.1 2 -1.2 0.4 -1.7-2.4 -5-4 0.1-5 0.6-1.8 1-0.8 5-1.4zM831.2 363.5l0.3-0.5 1 0.6 1.7 2.9 -0.7 2.4 -1.4 0.6 0.3 1 1.1 0.9 -0.3 2.1 0.4 4 0.9 1.2 1.4 0.8 2.6 0.3 2-0.4 3 2.1 1.5 3 -2.1 2 -0.2 4 -3.2 3.8 -2 0.3 -1.3 0.9 -0.4 1 0.2 3 -2.5 1.1 -1.3-1.1 0.3-3 -1-1.2 -3.9-1.8 -2.1-1.9 -2-0.3 -3 0.6 -2-0.9 -7.2-4.5 -1.1-2 0.3-3 2-3.6 4-1.9 4 2 2.2-1.5 2.8-1 1.2-1 0.1-1 -1.3-3 1.5-2 3-2zM851.1 367.5l0.4-0.4 0.6 0.4 -0.1 2 1.5-0.1 2.3 1.1 0 1 -1.2 1 -0.1 2 -2.2 0 -0.8-4.8 -1.3-0.2 0-1zM868.7 378.5l1.8-0.7 1.1 0.7 -0.8 2 1.1 3 -1.7 4 -1.7 0.7 -1-1.4 -0.8-4.3 0.6-2zM799.5 382.5l0-0.7 2 0 5.9 1.7 0.6 1 -0.3 3 -2.2 0.1 -4-1.8 -2 0z"/>
</g>
<g fill="#97b6e1" transform="translate(717.3,0)"><path d="M85.3 218.2l2.4 1.2 0.3 1.6-2.7-0.4zM87.5 220.5l2.3 0.3 0 1.6-2.3-0.6zM98.2 228.3l3.4-1 3.6 1.6 1.2 3.6-1.6 1.8-3.2-0.6-2.8-2.4zM133 234.6l3.2-0.8 4.6 1 2.4 3.4 2.6 1.2 0 3.4-3.8 0-3.6-2.4-2-3.2zM198.5 246.8l2-1.6 3.4 0.4 0.3 2.8-2.6 1-2.4-0.6zM190.2 249l3.6 0 -0.4 2-2.6 0z"/></g>
<g transform="translate(717.3,0)">
<path d="M296.9 297.4L300.2 294.4L302.8 294.9L301.9 297.4L297.7 298.7ZM313.7 299.1L317.1 298.2L318.0 302.5L322.2 305.0L321.3 307.1L315.4 305.8L313.7 304.1ZM320.5 297.8L323.9 298.2L325.5 299.5L322.2 299.5ZM335.2 314.3L338.2 314.3L338.2 316.0L335.7 316.0Z" fill="#97b6e1"/>
<path d="M281.7 284.3L285.1 283.1L288.0 281.0L289.7 283.1L291.0 286.0L293.9 287.7L295.2 290.7L292.7 291.5L289.3 289.8L288.0 289.0L285.9 290.7L284.2 289.4L283.4 286.9ZM303.2 293.6L305.3 292.8L309.5 293.2L313.7 293.6L316.3 294.4L315.8 296.1L312.1 296.6L307.8 296.1L304.5 296.1L303.2 294.9ZM309.1 300.4L311.6 299.5L313.7 301.6L313.7 304.1L311.2 305.0L309.5 302.9ZM317.1 297.8L319.6 297.4L321.3 299.1L323.9 299.9L327.2 299.5L330.6 301.6L333.1 303.7L332.7 305.8L329.8 307.1L326.4 307.9L323.9 307.1L322.6 305.0L320.5 303.3L318.4 301.6L317.1 299.5ZM335.7 316.0L338.2 316.4L340.7 318.5L344.9 319.8L349.2 322.3L352.5 325.2L354.6 328.6L356.8 332.0L359.7 334.1L355.9 337.0L351.7 339.2L347.5 340.8L344.1 343.4L341.6 346.3L339.9 348.0L337.4 345.9L335.2 343.8L334.8 339.6L333.6 335.4L332.7 331.1L331.5 328.6L334.0 325.2L335.7 321.9L335.2 318.5ZM247.2 272.7L249.2 270.4L251.9 269.6L255.5 269.0L257.8 269.6L258.2 271.5L257.6 273.9L256.6 275.9L254.7 276.9L251.9 276.7L250.3 275.5L248.4 274.3Z" fill="#d2b48c" stroke="#000" stroke-width="2.2" stroke-linejoin="round"/>
<path d="M316.7 308.8L319.2 307.5L320.9 308.4L320.5 310.1L317.5 310.5ZM236.8 277.0L237.7 275.9L239.3 274.7L240.1 273.5L241.1 274.3L240.9 276.3L239.7 277.2L238.5 277.8L237.7 279.4L236.8 279.0Z" fill="#000" stroke="#000" stroke-width="1.8" stroke-linejoin="round"/>
<g fill="#5d6f8f"><ellipse cx="101.0" cy="229.7" rx="1.3" ry="1.8"/><ellipse cx="101.8" cy="232.5" rx="0.7" ry="0.7"/><ellipse cx="136.0" cy="235.7" rx="0.9" ry="0.9"/><ellipse cx="198.8" cy="248.3" rx="0.8" ry="0.9"/><ellipse cx="229.9" cy="282.3" rx="0.8" ry="1.2"/></g>
</g>
<g stroke="#000" stroke-width="1.65" stroke-linejoin="miter" transform="translate(717.3,0)">
<polygon points="261.5,238.05 256.09,241.18 256.09,247.43 261.5,250.55 266.91,247.43 266.91,241.18" fill="#ec8cd2"/>
<polygon points="247,257.35 241.06,261.67 243.33,268.66 250.67,268.66 252.94,261.67" fill="#4cb84c"/>
<circle cx="262.3" cy="292.4" r="6.05" fill="#ff9838"/>
<polygon points="102,331.45 96.06,335.77 98.33,342.76 105.67,342.76 107.94,335.77" fill="#ffcb98"/>
<circle cx="150.5" cy="393.3" r="6.05" fill="#8fc5eb"/>
<polygon points="173,389.45 167.06,393.77 169.33,400.76 176.67,400.76 178.94,393.77" fill="#64a8da"/>
<polygon points="110.5,427.05 105.09,430.18 105.09,436.43 110.5,439.55 115.91,436.43 115.91,430.18" fill="#e0484b"/>
<polygon points="113,441.55 107.06,445.87 109.33,452.86 116.67,452.86 118.94,445.87" fill="#ea6e70"/>
<polygon points="233.9,418.45 227.96,422.77 230.23,429.76 237.57,429.76 239.84,422.77" fill="#c4ffc4"/>
<polygon points="121,536.55 115.06,540.87 117.33,547.86 124.67,547.86 126.94,540.87" fill="#ff7f0e"/>
<circle cx="426.6" cy="155.5" r="6.05" fill="#6dcf6d"/>
<polygon points="505.3,213.15 499.89,216.28 499.89,222.53 505.3,225.65 510.71,222.53 510.71,216.28" fill="#ffc6c6"/>
<polygon points="479.5,241.95 474.09,245.07 474.09,251.32 479.5,254.45 484.91,251.32 484.91,245.07" fill="#e2a99f"/>
<polygon points="490,259.45 484.06,263.77 486.33,270.76 493.67,270.76 495.94,263.77" fill="#ffcdc2"/>
<polygon points="536.5,281.15 531.09,284.27 531.09,290.52 536.5,293.65 541.91,290.52 541.91,284.27" fill="#98e698"/>
<circle cx="592.6" cy="328.3" r="6.05" fill="#c58d84"/>
<circle cx="391.5" cy="282.5" r="6.05" fill="#ffe0c6"/>
<circle cx="380.4" cy="363.2" r="6.05" fill="#1f77b4"/>
<polygon points="396.5,371.85 391.09,374.98 391.09,381.23 396.5,384.35 401.91,381.23 401.91,374.98" fill="#2ca02c"/>
<polygon points="310.4,360.75 304.99,363.88 304.99,370.12 310.4,373.25 315.81,370.12 315.81,363.88" fill="#3f8fc6"/>
<polygon points="340.5,359.75 335.09,362.88 335.09,369.12 340.5,372.25 345.91,369.12 345.91,362.88" fill="#bd95e3"/>
<circle cx="583.7" cy="383.4" r="6.05" fill="#a87dd0"/>
<polygon points="490.6,413.95 485.19,417.07 485.19,423.32 490.6,426.45 496.01,423.32 496.01,417.07" fill="#c2e5fd"/>
<polygon points="465.4,441.85 459.99,444.98 459.99,451.23 465.4,454.35 470.81,451.23 470.81,444.98" fill="#ffb266"/>
<circle cx="324.4" cy="433.3" r="6.05" fill="#e377c2"/>
<polygon points="435.7,496.45 429.76,500.77 432.03,507.76 439.37,507.76 441.64,500.77" fill="#9467bd"/>
<circle cx="419.2" cy="516.2" r="6.05" fill="#d62728"/>
<polygon points="351,127.45 345.06,131.77 347.33,138.76 354.67,138.76 356.94,131.77" fill="#a97168"/>
</g>
</g>
<rect x="801.5" y="137.5" width="656" height="418" fill="none" stroke="#000" stroke-width="1.11"/>
<path d="M847.5 555.5v9.5M847.5 137.5v-8.9M914.5 555.5v9.5M914.5 137.5v-8.9M982.5 555.5v9.5M982.5 137.5v-8.9M1050.5 555.5v9.5M1050.5 137.5v-8.9M1118.5 555.5v9.5M1118.5 137.5v-8.9M1186.5 555.5v9.5M1186.5 137.5v-8.9M1254.5 555.5v9.5M1254.5 137.5v-8.9M1321.5 555.5v9.5M1321.5 137.5v-8.9M1389.5 555.5v9.5M1389.5 137.5v-8.9M1457.5 555.5v9.5M1457.5 137.5v-8.9M801.5 509.5h-9.0M1457.5 509.5h8.75M801.5 440.5h-9.0M1457.5 440.5h8.75M801.5 370.5h-9.0M1457.5 370.5h8.75M801.5 298.5h-9.0M1457.5 298.5h8.75M801.5 225.5h-9.0M1457.5 225.5h8.75M801.5 151.5h-9.0M1457.5 151.5h8.75" stroke="#000" stroke-width="3" fill="none"/>
<path d="M801 555.5v2.5M801 137.5v-3.3M824 555.5v2.5M824 137.5v-3.3M869 555.5v2.5M869 137.5v-3.3M892 555.5v2.5M892 137.5v-3.3M937 555.5v2.5M937 137.5v-3.3M960 555.5v2.5M960 137.5v-3.3M1005 555.5v2.5M1005 137.5v-3.3M1028 555.5v2.5M1028 137.5v-3.3M1073 555.5v2.5M1073 137.5v-3.3M1095 555.5v2.5M1095 137.5v-3.3M1141 555.5v2.5M1141 137.5v-3.3M1163 555.5v2.5M1163 137.5v-3.3M1208 555.5v2.5M1208 137.5v-3.3M1231 555.5v2.5M1231 137.5v-3.3M1276 555.5v2.5M1276 137.5v-3.3M1299 555.5v2.5M1299 137.5v-3.3M1344 555.5v2.5M1344 137.5v-3.3M1367 555.5v2.5M1367 137.5v-3.3M1412 555.5v2.5M1412 137.5v-3.3M1435 555.5v2.5M1435 137.5v-3.3M801.5 555h-3.3M1457.5 555h2.6M801.5 532h-3.3M1457.5 532h2.6M801.5 486h-3.3M1457.5 486h2.6M801.5 463h-3.3M1457.5 463h2.6M801.5 417h-3.3M1457.5 417h2.6M801.5 393h-3.3M1457.5 393h2.6M801.5 346h-3.3M1457.5 346h2.6M801.5 322h-3.3M1457.5 322h2.6M801.5 274h-3.3M1457.5 274h2.6M801.5 250h-3.3M1457.5 250h2.6M801.5 201h-3.3M1457.5 201h2.6M801.5 176h-3.3M1457.5 176h2.6" stroke="#000" stroke-width="1.39" fill="none"/>
<text x="1128.7" y="127.1" text-anchor="middle" font-weight="bold" font-size="27.78">ESPC - 2025-08-25 00:00:00</text>
<g font-size="22.22" text-anchor="middle">
<text transform="translate(850.84,611.6) rotate(-45)">165°W</text>
<text transform="translate(918.67,611.6) rotate(-45)">162°W</text>
<text transform="translate(986.51,611.6) rotate(-45)">159°W</text>
<text transform="translate(1054.34,611.6) rotate(-45)">156°W</text>
<text transform="translate(1122.17,611.6) rotate(-45)">153°W</text>
<text transform="translate(1190.01,611.6) rotate(-45)">150°W</text>
<text transform="translate(1257.84,611.6) rotate(-45)">147°W</text>
<text transform="translate(1325.67,611.6) rotate(-45)">144°W</text>
<text transform="translate(1393.51,611.6) rotate(-45)">141°W</text>
<text transform="translate(1461.34,611.6) rotate(-45)">138°W</text>
</g>
<g font-size="22.22">
<text x="68.9" y="518" text-anchor="end">12°N</text>
<text x="1472" y="518">12°N</text>
<text x="68.9" y="449" text-anchor="end">15°N</text>
<text x="1472" y="449">15°N</text>
<text x="68.9" y="379" text-anchor="end">18°N</text>
<text x="1472" y="379">18°N</text>
<text x="68.9" y="307" text-anchor="end">21°N</text>
<text x="1472" y="307">21°N</text>
<text x="68.9" y="234" text-anchor="end">24°N</text>
<text x="1472" y="234">24°N</text>
<text x="68.9" y="160" text-anchor="end">27°N</text>
<text x="1472" y="160">27°N</text>
</g>
<g shape-rendering="auto">
<path d="M169.6 664.1L109 672.3L169.6 680.5Z" fill="#032333"/>
<rect x="169.1" y="664.1" width="120.72" height="16.4" fill="#062a48"/>
<rect x="289.32" y="664.1" width="120.72" height="16.4" fill="#1f3380"/>
<rect x="409.54" y="664.1" width="120.72" height="16.4" fill="#4c389c"/>
<rect x="529.76" y="664.1" width="120.72" height="16.4" fill="#714794"/>
<rect x="649.98" y="664.1" width="120.72" height="16.4" fill="#8f558b"/>
<rect x="770.2" y="664.1" width="120.72" height="16.4" fill="#b05f81"/>
<rect x="890.42" y="664.1" width="120.72" height="16.4" fill="#d46a6c"/>
<rect x="1010.64" y="664.1" width="120.72" height="16.4" fill="#ed7e58"/>
<rect x="1130.86" y="664.1" width="120.72" height="16.4" fill="#fa9c3d"/>
<rect x="1251.08" y="664.1" width="120.72" height="16.4" fill="#f9c33f"/>
<path d="M1371.3 664.1L1431.4 672.3L1371.3 680.5Z" fill="#e7fa5a"/>
<path d="M169.1 664.1L109 672.3L169.1 680.5L1371.3 680.5L1431.4 672.3L1371.3 664.1Z" fill="none" stroke="#000" stroke-width="1.3" stroke-linejoin="miter"/>
<path d="M169.5 680.5v6.9M409.5 680.5v6.9M649.5 680.5v6.9M890.5 680.5v6.9M1130.5 680.5v6.9M1371.5 680.5v6.9" stroke="#000" stroke-width="1.2" fill="none"/>
</g>
<g font-size="20.83" text-anchor="middle">
<text x="168.7" y="709.2">10</text>
<text x="409.14" y="709.2">12</text>
<text x="649.58" y="709.2">14</text>
<text x="890.02" y="709.2">16</text>
<text x="1130.46" y="709.2">18</text>
<text x="1370.9" y="709.2">20</text>
</g>
<text x="770.5" y="736.1" text-anchor="middle" font-weight="bold" font-size="20.83">Temperature (degC)</text>
<text x="770.8" y="761.8" text-anchor="middle" font-weight="bold" font-style="italic" font-size="15.63">Glider/Argo Search Window: 2025-08-22 02:00:00 to 2025-08-25 00:00:00</text>
<rect x="199.2" y="780" width="1143" height="88.2" rx="2.8" ry="2.8" fill="#fff" stroke="#d0d0d0" stroke-width="1.39"/>
<g stroke="#000" stroke-width="1.65" stroke-linejoin="miter">
<circle cx="218.8" cy="792.4" r="6.05" fill="#1f77b4"/>
<polygon points="218.8,807.15 213.39,810.27 213.39,816.52 218.8,819.65 224.21,816.52 224.21,810.27" fill="#3f8fc6"/>
<polygon points="218.8,828.15 212.86,832.47 215.13,839.46 222.47,839.46 224.74,832.47" fill="#64a8da"/>
<circle cx="218.8" cy="855.4" r="6.05" fill="#8fc5eb"/>
<polygon points="347.72,786.15 342.31,789.27 342.31,795.52 347.72,798.65 353.13,795.52 353.13,789.27" fill="#c2e5fd"/>
<polygon points="347.72,807.15 341.78,811.47 344.05,818.46 351.39,818.46 353.66,811.47" fill="#ff7f0e"/>
<circle cx="347.72" cy="834.4" r="6.05" fill="#ff9838"/>
<polygon points="347.72,849.15 342.31,852.27 342.31,858.52 347.72,861.65 353.13,858.52 353.13,852.27" fill="#ffb266"/>
<polygon points="476.64,786.15 470.7,790.47 472.97,797.46 480.31,797.46 482.58,790.47" fill="#ffcb98"/>
<circle cx="476.64" cy="813.4" r="6.05" fill="#ffe0c6"/>
<polygon points="476.64,828.15 471.23,831.27 471.23,837.52 476.64,840.65 482.05,837.52 482.05,831.27" fill="#2ca02c"/>
<polygon points="476.64,849.15 470.7,853.47 472.97,860.46 480.31,860.46 482.58,853.47" fill="#4cb84c"/>
<circle cx="605.56" cy="792.4" r="6.05" fill="#6dcf6d"/>
<polygon points="605.56,807.15 600.15,810.27 600.15,816.52 605.56,819.65 610.97,816.52 610.97,810.27" fill="#98e698"/>
<polygon points="605.56,828.15 599.62,832.47 601.89,839.46 609.23,839.46 611.5,832.47" fill="#c4ffc4"/>
<circle cx="605.56" cy="855.4" r="6.05" fill="#d62728"/>
<polygon points="734.48,786.15 729.07,789.27 729.07,795.52 734.48,798.65 739.89,795.52 739.89,789.27" fill="#e0484b"/>
<polygon points="734.48,807.15 728.54,811.47 730.81,818.46 738.15,818.46 740.42,811.47" fill="#ea6e70"/>
<circle cx="734.48" cy="834.4" r="6.05" fill="#f59a9b"/>
<polygon points="734.48,849.15 729.07,852.27 729.07,858.52 734.48,861.65 739.89,858.52 739.89,852.27" fill="#ffc6c6"/>
<polygon points="863.4,786.15 857.46,790.47 859.73,797.46 867.07,797.46 869.34,790.47" fill="#9467bd"/>
<circle cx="863.4" cy="813.4" r="6.05" fill="#a87dd0"/>
<polygon points="863.4,828.15 857.99,831.27 857.99,837.52 863.4,840.65 868.81,837.52 868.81,831.27" fill="#bd95e3"/>
<polygon points="992.32,786.15 986.38,790.47 988.65,797.46 995.99,797.46 998.26,790.47" fill="#d3aff7"/>
<circle cx="992.32" cy="813.4" r="6.05" fill="#e3c6ff"/>
<polygon points="992.32,828.15 986.91,831.27 986.91,837.52 992.32,840.65 997.73,837.52 997.73,831.27" fill="#8c564b"/>
<polygon points="1121.24,786.15 1115.3,790.47 1117.57,797.46 1124.91,797.46 1127.18,790.47" fill="#a97168"/>
<circle cx="1121.24" cy="813.4" r="6.05" fill="#c58d84"/>
<polygon points="1121.24,828.15 1115.83,831.27 1115.83,837.52 1121.24,840.65 1126.65,837.52 1126.65,831.27" fill="#e2a99f"/>
<polygon points="1250.16,786.15 1244.22,790.47 1246.49,797.46 1253.83,797.46 1256.1,790.47" fill="#ffcdc2"/>
<circle cx="1250.16" cy="813.4" r="6.05" fill="#e377c2"/>
<polygon points="1250.16,828.15 1244.75,831.27 1244.75,837.52 1250.16,840.65 1255.57,837.52 1255.57,831.27" fill="#ec8cd2"/>
</g>
<g font-size="13.89" letter-spacing="-0.15"><text x="243.7" y="797.4">1902649</text><text x="243.7" y="818.4">1902685</text><text x="243.7" y="839.4">2903452</text><text x="243.7" y="860.4">2903863</text><text x="372.62" y="797.4">2903868</text><text x="372.62" y="818.4">3902374</text><text x="372.62" y="839.4">3902559</text><text x="372.62" y="860.4">3902561</text><text x="501.54" y="797.4">3902613</text><text x="501.54" y="818.4">4903174</text><text x="501.54" y="839.4">4903175</text><text x="501.54" y="860.4">4903320</text><text x="630.46" y="797.4">5904976</text><text x="630.46" y="818.4">5905270</text><text x="630.46" y="839.4">5905275</text><text x="630.46" y="860.4">5905746</text><text x="759.38" y="797.4">5905855</text><text x="759.38" y="818.4">5905862</text><text x="759.38" y="839.4">5906155</text><text x="759.38" y="860.4">5906156</text><text x="888.3" y="797.4">5906164</text><text x="888.3" y="818.4">5906400</text><text x="888.3" y="839.4">5906470</text><text x="1017.22" y="797.4">5906564</text><text x="1017.22" y="818.4">5906752</text><text x="1017.22" y="839.4">5906801</text><text x="1146.14" y="797.4">5906812</text><text x="1146.14" y="818.4">5906814</text><text x="1146.14" y="839.4">5906815</text><text x="1275.06" y="797.4">5907061</text><text x="1275.06" y="818.4">7901104</text><text x="1275.06" y="839.4">7901106</text></g>
</svg></body></html>
